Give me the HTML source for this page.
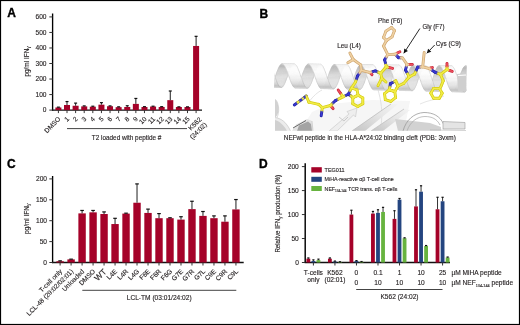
<!DOCTYPE html>
<html><head><meta charset="utf-8"><style>
html,body{margin:0;padding:0;background:#fff;}
body{width:520px;height:325px;overflow:hidden;}
svg{display:block;font-family:"Liberation Sans", sans-serif;will-change:transform;filter:blur(0.25px);}
text{stroke:#231f20;stroke-width:0.13px;}
</style></head><body>
<svg width="520" height="325" viewBox="0 0 520 325">
<rect x="0" y="0" width="520" height="325" fill="#fff"/>
<defs><clipPath id="bclip"><rect x="274.5" y="50" width="192" height="80.8"/></clipPath><linearGradient id="gs1" x1="0" y1="1" x2="0" y2="0"><stop offset="0" stop-color="#bdbdbd"/><stop offset="1" stop-color="#efefef"/></linearGradient><linearGradient id="gs2" x1="0" y1="1" x2="1" y2="0"><stop offset="0" stop-color="#c4c4c4"/><stop offset="0.6" stop-color="#e6e6e6"/><stop offset="1" stop-color="#f4f4f4"/></linearGradient><linearGradient id="gs3" x1="0" y1="0" x2="1" y2="0"><stop offset="0" stop-color="#d8d8d8"/><stop offset="1" stop-color="#f3f3f3"/></linearGradient></defs>
<g clip-path="url(#bclip)">
<path d="M300,131 L312,112 L330,104 L372,100 L410,101 L404,131 Z" fill="#f6f6f6"/>
<path d="M275,99 C279,103 280,112 276,117 L275,117 Z" fill="#d2d2d2"/>
<path d="M275.5,99.5 C279,103 280,112 276.5,119" stroke="#c4c4c4" stroke-width="0.6" fill="none"/>
<path d="M275,117 C281,118 286,121 291,131 L275,131 Z" fill="#ececec"/>
<path d="M275,117.5 C281,118.5 286,121.5 290.5,131" stroke="#c8c8c8" stroke-width="0.6" fill="none"/>
<path d="M275,120 C279,121 284,125 287,131 L275,131 Z" fill="#d0d0d0"/>
<path d="M292,131 L296,124.5 L307,119 L312,121 L313,131 Z" fill="#e2e2e2"/>
<path d="M293,128 L306,120.5" stroke="#6a6a6a" stroke-width="1.0"/>
<path d="M297,131 L299,125.5 L308,121.5 L311,124 L312,131 Z" fill="#a4a4a4"/>
<path d="M312,121 L313,131" stroke="#c0c0c0" stroke-width="0.6"/>
<path d="M378,90 C381,100 383,112 381,126" stroke="#dadada" stroke-width="0.8" fill="none"/>
<path d="M309,102 C313,96 318,92 322,90" stroke="#dcdcdc" stroke-width="0.8" fill="none"/>
<path d="M420,104 C428,100 436,100 444,96" stroke="#e0e0e0" stroke-width="0.8" fill="none"/>
<path d="M329,131 L349,114 L347,111.5 L357,108 L355.5,117 L353.5,115 L337,131 Z" fill="#eeeeee" stroke="#c6c6c6" stroke-width="0.6"/>
<path d="M339,117 L344,121 L348,117" stroke="#c0c0c0" stroke-width="0.8" fill="none"/>
<path d="M352,131 L391,104 L398,104 L365,131 Z" fill="url(#gs2)"/>
<path d="M352,131 L391,104" stroke="#bcbcbc" stroke-width="0.8"/>
<path d="M371,131 L404,109 L410,110 L383,131 Z" fill="url(#gs2)"/>
<path d="M371,131 L404,109" stroke="#c0c0c0" stroke-width="0.8"/>
<path d="M395,119 L430,123 L441,127 L441,131 L398,131 Z" fill="#d2d2d2"/>
<path d="M403,131 C406,120 414,113 424,112.5 C433,112.5 440,116 443.5,124" stroke="#9a9a9a" stroke-width="0.8" fill="none"/>
<path d="M407,131 C410,122 417,116.5 425,116.5 C432,116.5 437,119 440,125" stroke="#a8a8a8" stroke-width="0.7" fill="none"/>
<path d="M443,121.5 L465,122.5 L465,129 L443,129 Z" fill="#e4e4e4" stroke="#9a9a9a" stroke-width="0.6"/>
<path d="M430,130 L466,130.5" stroke="#b8b8b8" stroke-width="0.8"/>
<g><polygon points="406.5,78.5 406.9,77.2 418.9,77.4 418.5,78.7" fill="#dadada" stroke="#dadada" stroke-width="0.35"/><path d="M406.5,78.5L406.9,77.2M418.5,78.7L418.9,77.4" stroke="#bcbcbc" stroke-width="0.5"/><polygon points="301.7,76.5 302.1,75.3 314.1,75.6 313.7,76.8" fill="#dadada" stroke="#dadada" stroke-width="0.35"/><path d="M301.7,76.5L302.1,75.3M313.7,76.8L314.1,75.6" stroke="#bcbcbc" stroke-width="0.5"/><polygon points="275.4,76.3 275.8,75.2 287.8,75.4 287.4,76.6" fill="#dadada" stroke="#dadada" stroke-width="0.35"/><path d="M275.4,76.3L275.8,75.2M287.4,76.6L287.8,75.4" stroke="#bcbcbc" stroke-width="0.5"/><polygon points="380.2,78.3 380.6,77.1 392.6,77.3 392.2,78.5" fill="#dadada" stroke="#dadada" stroke-width="0.35"/><path d="M380.2,78.3L380.6,77.1M392.2,78.5L392.6,77.3" stroke="#bcbcbc" stroke-width="0.5"/><polygon points="432.8,78.6 433.2,77.4 445.2,77.6 444.8,78.8" fill="#d9d9d9" stroke="#d9d9d9" stroke-width="0.35"/><path d="M432.8,78.6L433.2,77.4M444.8,78.8L445.2,77.6" stroke="#bcbcbc" stroke-width="0.5"/><polygon points="328.0,76.7 328.4,75.5 340.4,75.7 340.0,76.9" fill="#d9d9d9" stroke="#d9d9d9" stroke-width="0.35"/><path d="M328.0,76.7L328.4,75.5M340.0,76.9L340.4,75.7" stroke="#bcbcbc" stroke-width="0.5"/><polygon points="353.9,78.1 354.3,76.9 366.3,77.1 365.9,78.3" fill="#dbdbdb" stroke="#dbdbdb" stroke-width="0.35"/><path d="M353.9,78.1L354.3,76.9M365.9,78.3L366.3,77.1" stroke="#bcbcbc" stroke-width="0.5"/><polygon points="458.6,80.1 459.1,78.8 471.1,79.0 470.6,80.3" fill="#dbdbdb" stroke="#dbdbdb" stroke-width="0.35"/><path d="M458.6,80.1L459.1,78.8M470.6,80.3L471.1,79.0" stroke="#bcbcbc" stroke-width="0.5"/><polygon points="459.1,78.8 459.5,77.5 471.5,77.7 471.1,79.0" fill="#d9d9d9" stroke="#d9d9d9" stroke-width="0.35"/><path d="M459.1,78.8L459.5,77.5M471.1,79.0L471.5,77.7" stroke="#bcbcbc" stroke-width="0.5"/><polygon points="354.3,76.9 354.7,75.7 366.7,75.9 366.3,77.1" fill="#d8d8d8" stroke="#d8d8d8" stroke-width="0.35"/><path d="M354.3,76.9L354.7,75.7M366.3,77.1L366.7,75.9" stroke="#bcbcbc" stroke-width="0.5"/><polygon points="327.6,77.9 328.0,76.7 340.0,76.9 339.6,78.1" fill="#dbdbdb" stroke="#dbdbdb" stroke-width="0.35"/><path d="M327.6,77.9L328.0,76.7M339.6,78.1L340.0,76.9" stroke="#bcbcbc" stroke-width="0.5"/><polygon points="432.3,79.9 432.8,78.6 444.8,78.8 444.3,80.1" fill="#dbdbdb" stroke="#dbdbdb" stroke-width="0.35"/><path d="M432.3,79.9L432.8,78.6M444.3,80.1L444.8,78.8" stroke="#bcbcbc" stroke-width="0.5"/><polygon points="380.6,77.1 381.0,75.8 393.0,76.0 392.6,77.3" fill="#d8d8d8" stroke="#d8d8d8" stroke-width="0.35"/><path d="M380.6,77.1L381.0,75.8M392.6,77.3L393.0,76.0" stroke="#bcbcbc" stroke-width="0.5"/><polygon points="275.8,75.2 276.2,74.0 288.2,74.2 287.8,75.4" fill="#d8d8d8" stroke="#d8d8d8" stroke-width="0.35"/><path d="M275.8,75.2L276.2,74.0M287.8,75.4L288.2,74.2" stroke="#bcbcbc" stroke-width="0.5"/><polygon points="301.3,77.7 301.7,76.5 313.7,76.8 313.3,77.9" fill="#dcdcdc" stroke="#dcdcdc" stroke-width="0.35"/><path d="M301.3,77.7L301.7,76.5M313.3,77.9L313.7,76.8" stroke="#bcbcbc" stroke-width="0.5"/><polygon points="406.0,79.7 406.5,78.5 418.5,78.7 418.0,79.9" fill="#dcdcdc" stroke="#dcdcdc" stroke-width="0.35"/><path d="M406.0,79.7L406.5,78.5M418.0,79.9L418.5,78.7" stroke="#bcbcbc" stroke-width="0.5"/><polygon points="406.9,77.2 407.3,76.0 419.3,76.2 418.9,77.4" fill="#d7d7d7" stroke="#d7d7d7" stroke-width="0.35"/><path d="M406.9,77.2L407.3,76.0M418.9,77.4L419.3,76.2" stroke="#bcbcbc" stroke-width="0.5"/><polygon points="302.1,75.3 302.5,74.2 314.5,74.4 314.1,75.6" fill="#d7d7d7" stroke="#d7d7d7" stroke-width="0.35"/><path d="M302.1,75.3L302.5,74.2M314.1,75.6L314.5,74.4" stroke="#bcbcbc" stroke-width="0.5"/><polygon points="275.0,77.5 275.4,76.3 287.4,76.6 287.0,77.7" fill="#dcdcdc" stroke="#dcdcdc" stroke-width="0.35"/><path d="M275.0,77.5L275.4,76.3M287.0,77.7L287.4,76.6" stroke="#bcbcbc" stroke-width="0.5"/><polygon points="379.7,79.5 380.2,78.3 392.2,78.5 391.7,79.8" fill="#dcdcdc" stroke="#dcdcdc" stroke-width="0.35"/><path d="M379.7,79.5L380.2,78.3M391.7,79.8L392.2,78.5" stroke="#bcbcbc" stroke-width="0.5"/><polygon points="433.2,77.4 433.6,76.1 445.6,76.3 445.2,77.6" fill="#d7d7d7" stroke="#d7d7d7" stroke-width="0.35"/><path d="M433.2,77.4L433.6,76.1M445.2,77.6L445.6,76.3" stroke="#bcbcbc" stroke-width="0.5"/><polygon points="328.4,75.5 328.8,74.3 340.8,74.5 340.4,75.7" fill="#d6d6d6" stroke="#d6d6d6" stroke-width="0.35"/><path d="M328.4,75.5L328.8,74.3M340.4,75.7L340.8,74.5" stroke="#bcbcbc" stroke-width="0.5"/><polygon points="353.4,79.3 353.9,78.1 365.9,78.3 365.4,79.5" fill="#dddddd" stroke="#dddddd" stroke-width="0.35"/><path d="M353.4,79.3L353.9,78.1M365.4,79.5L365.9,78.3" stroke="#bcbcbc" stroke-width="0.5"/><polygon points="458.2,81.4 458.6,80.1 470.6,80.3 470.2,81.6" fill="#dddddd" stroke="#dddddd" stroke-width="0.35"/><path d="M458.2,81.4L458.6,80.1M470.2,81.6L470.6,80.3" stroke="#bcbcbc" stroke-width="0.5"/><polygon points="459.5,77.5 459.9,76.2 471.9,76.4 471.5,77.7" fill="#d6d6d6" stroke="#d6d6d6" stroke-width="0.35"/><path d="M459.5,77.5L459.9,76.2M471.5,77.7L471.9,76.4" stroke="#bcbcbc" stroke-width="0.5"/><polygon points="354.7,75.7 355.1,74.5 367.1,74.7 366.7,75.9" fill="#d6d6d6" stroke="#d6d6d6" stroke-width="0.35"/><path d="M354.7,75.7L355.1,74.5M366.7,75.9L367.1,74.7" stroke="#bcbcbc" stroke-width="0.5"/><polygon points="327.1,79.1 327.6,77.9 339.6,78.1 339.1,79.3" fill="#dddddd" stroke="#dddddd" stroke-width="0.35"/><path d="M327.1,79.1L327.6,77.9M339.1,79.3L339.6,78.1" stroke="#bcbcbc" stroke-width="0.5"/><polygon points="431.9,81.2 432.3,79.9 444.3,80.1 443.9,81.4" fill="#dddddd" stroke="#dddddd" stroke-width="0.35"/><path d="M431.9,81.2L432.3,79.9M443.9,81.4L444.3,80.1" stroke="#bcbcbc" stroke-width="0.5"/><polygon points="381.0,75.8 381.4,74.6 393.4,74.8 393.0,76.0" fill="#d5d5d5" stroke="#d5d5d5" stroke-width="0.35"/><path d="M381.0,75.8L381.4,74.6M393.0,76.0L393.4,74.8" stroke="#bcbcbc" stroke-width="0.5"/><polygon points="276.2,74.0 276.6,72.8 288.6,73.0 288.2,74.2" fill="#d5d5d5" stroke="#d5d5d5" stroke-width="0.35"/><path d="M276.2,74.0L276.6,72.8M288.2,74.2L288.6,73.0" stroke="#bcbcbc" stroke-width="0.5"/><polygon points="300.8,78.9 301.3,77.7 313.3,77.9 312.8,79.1" fill="#dddddd" stroke="#dddddd" stroke-width="0.35"/><path d="M300.8,78.9L301.3,77.7M312.8,79.1L313.3,77.9" stroke="#bcbcbc" stroke-width="0.5"/><polygon points="405.6,80.9 406.0,79.7 418.0,79.9 417.6,81.2" fill="#dedede" stroke="#dedede" stroke-width="0.35"/><path d="M405.6,80.9L406.0,79.7M417.6,81.2L418.0,79.9" stroke="#bcbcbc" stroke-width="0.5"/><polygon points="407.3,76.0 407.7,74.7 419.7,74.9 419.3,76.2" fill="#d4d4d4" stroke="#d4d4d4" stroke-width="0.35"/><path d="M407.3,76.0L407.7,74.7M419.3,76.2L419.7,74.9" stroke="#bcbcbc" stroke-width="0.5"/><polygon points="302.5,74.2 302.9,73.0 314.9,73.2 314.5,74.4" fill="#d4d4d4" stroke="#d4d4d4" stroke-width="0.35"/><path d="M302.5,74.2L302.9,73.0M314.5,74.4L314.9,73.2" stroke="#bcbcbc" stroke-width="0.5"/><polygon points="274.5,78.7 275.0,77.5 287.0,77.7 286.5,78.9" fill="#dedede" stroke="#dedede" stroke-width="0.35"/><path d="M274.5,78.7L275.0,77.5M286.5,78.9L287.0,77.7" stroke="#bcbcbc" stroke-width="0.5"/><polygon points="379.3,80.7 379.7,79.5 391.7,79.8 391.3,81.0" fill="#dedede" stroke="#dedede" stroke-width="0.35"/><path d="M379.3,80.7L379.7,79.5M391.3,81.0L391.7,79.8" stroke="#bcbcbc" stroke-width="0.5"/><polygon points="433.6,76.1 434.0,74.9 446.0,75.1 445.6,76.3" fill="#d4d4d4" stroke="#d4d4d4" stroke-width="0.35"/><path d="M433.6,76.1L434.0,74.9M445.6,76.3L446.0,75.1" stroke="#bcbcbc" stroke-width="0.5"/><polygon points="328.8,74.3 329.2,73.1 341.2,73.3 340.8,74.5" fill="#d4d4d4" stroke="#d4d4d4" stroke-width="0.35"/><path d="M328.8,74.3L329.2,73.1M340.8,74.5L341.2,73.3" stroke="#bcbcbc" stroke-width="0.5"/><polygon points="353.0,80.5 353.4,79.3 365.4,79.5 365.0,80.7" fill="#dedede" stroke="#dedede" stroke-width="0.35"/><path d="M353.0,80.5L353.4,79.3M365.0,80.7L365.4,79.5" stroke="#bcbcbc" stroke-width="0.5"/><polygon points="457.8,82.6 458.2,81.4 470.2,81.6 469.8,82.8" fill="#dedede" stroke="#dedede" stroke-width="0.35"/><path d="M457.8,82.6L458.2,81.4M469.8,82.8L470.2,81.6" stroke="#bcbcbc" stroke-width="0.5"/><polygon points="459.9,76.2 460.3,75.0 472.3,75.2 471.9,76.4" fill="#d3d3d3" stroke="#d3d3d3" stroke-width="0.35"/><path d="M459.9,76.2L460.3,75.0M471.9,76.4L472.3,75.2" stroke="#bcbcbc" stroke-width="0.5"/><polygon points="355.1,74.5 355.5,73.3 367.5,73.5 367.1,74.7" fill="#d3d3d3" stroke="#d3d3d3" stroke-width="0.35"/><path d="M355.1,74.5L355.5,73.3M367.1,74.7L367.5,73.5" stroke="#bcbcbc" stroke-width="0.5"/><polygon points="326.7,80.3 327.1,79.1 339.1,79.3 338.7,80.5" fill="#dfdfdf" stroke="#dfdfdf" stroke-width="0.35"/><path d="M326.7,80.3L327.1,79.1M338.7,80.5L339.1,79.3" stroke="#bcbcbc" stroke-width="0.5"/><polygon points="431.5,82.4 431.9,81.2 443.9,81.4 443.5,82.6" fill="#dfdfdf" stroke="#dfdfdf" stroke-width="0.35"/><path d="M431.5,82.4L431.9,81.2M443.5,82.6L443.9,81.4" stroke="#bcbcbc" stroke-width="0.5"/><polygon points="381.4,74.6 381.8,73.4 393.8,73.6 393.4,74.8" fill="#d2d2d2" stroke="#d2d2d2" stroke-width="0.35"/><path d="M381.4,74.6L381.8,73.4M393.4,74.8L393.8,73.6" stroke="#bcbcbc" stroke-width="0.5"/><polygon points="276.6,72.8 277.0,71.7 289.0,71.9 288.6,73.0" fill="#d2d2d2" stroke="#d2d2d2" stroke-width="0.35"/><path d="M276.6,72.8L277.0,71.7M288.6,73.0L289.0,71.9" stroke="#bcbcbc" stroke-width="0.5"/><polygon points="300.4,80.0 300.8,78.9 312.8,79.1 312.4,80.3" fill="#dfdfdf" stroke="#dfdfdf" stroke-width="0.35"/><path d="M300.4,80.0L300.8,78.9M312.4,80.3L312.8,79.1" stroke="#bcbcbc" stroke-width="0.5"/><polygon points="405.2,82.2 405.6,80.9 417.6,81.2 417.2,82.4" fill="#dfdfdf" stroke="#dfdfdf" stroke-width="0.35"/><path d="M405.2,82.2L405.6,80.9M417.2,82.4L417.6,81.2" stroke="#bcbcbc" stroke-width="0.5"/><polygon points="407.7,74.7 408.1,73.5 420.1,73.7 419.7,74.9" fill="#d1d1d1" stroke="#d1d1d1" stroke-width="0.35"/><path d="M407.7,74.7L408.1,73.5M419.7,74.9L420.1,73.7" stroke="#bcbcbc" stroke-width="0.5"/><polygon points="302.9,73.0 303.3,71.9 315.3,72.1 314.9,73.2" fill="#d1d1d1" stroke="#d1d1d1" stroke-width="0.35"/><path d="M302.9,73.0L303.3,71.9M314.9,73.2L315.3,72.1" stroke="#bcbcbc" stroke-width="0.5"/><polygon points="274.1,79.8 274.5,78.7 286.5,78.9 286.1,80.0" fill="#dfdfdf" stroke="#dfdfdf" stroke-width="0.35"/><path d="M274.1,79.8L274.5,78.7M286.1,80.0L286.5,78.9" stroke="#bcbcbc" stroke-width="0.5"/><polygon points="378.9,81.9 379.3,80.7 391.3,81.0 390.9,82.2" fill="#dfdfdf" stroke="#dfdfdf" stroke-width="0.35"/><path d="M378.9,81.9L379.3,80.7M390.9,82.2L391.3,81.0" stroke="#bcbcbc" stroke-width="0.5"/><polygon points="434.0,74.9 434.4,73.7 446.4,73.8 446.0,75.1" fill="#d0d0d0" stroke="#d0d0d0" stroke-width="0.35"/><path d="M434.0,74.9L434.4,73.7M446.0,75.1L446.4,73.8" stroke="#bcbcbc" stroke-width="0.5"/><polygon points="329.2,73.1 329.6,72.0 341.6,72.2 341.2,73.3" fill="#d0d0d0" stroke="#d0d0d0" stroke-width="0.35"/><path d="M329.2,73.1L329.6,72.0M341.2,73.3L341.6,72.2" stroke="#bcbcbc" stroke-width="0.5"/><polygon points="352.6,81.7 353.0,80.5 365.0,80.7 364.6,81.9" fill="#dfdfdf" stroke="#dfdfdf" stroke-width="0.35"/><path d="M352.6,81.7L353.0,80.5M364.6,81.9L365.0,80.7" stroke="#bcbcbc" stroke-width="0.5"/><polygon points="457.4,83.8 457.8,82.6 469.8,82.8 469.4,84.1" fill="#dfdfdf" stroke="#dfdfdf" stroke-width="0.35"/><path d="M457.4,83.8L457.8,82.6M469.4,84.1L469.8,82.8" stroke="#bcbcbc" stroke-width="0.5"/><polygon points="460.3,75.0 460.7,73.8 472.7,74.0 472.3,75.2" fill="#d0d0d0" stroke="#d0d0d0" stroke-width="0.35"/><path d="M460.3,75.0L460.7,73.8M472.3,75.2L472.7,74.0" stroke="#bcbcbc" stroke-width="0.5"/><polygon points="355.5,73.3 355.9,72.1 367.9,72.3 367.5,73.5" fill="#d0d0d0" stroke="#d0d0d0" stroke-width="0.35"/><path d="M355.5,73.3L355.9,72.1M367.5,73.5L367.9,72.3" stroke="#bcbcbc" stroke-width="0.5"/><polygon points="326.3,81.4 326.7,80.3 338.7,80.5 338.3,81.6" fill="#e0e0e0" stroke="#e0e0e0" stroke-width="0.35"/><path d="M326.3,81.4L326.7,80.3M338.3,81.6L338.7,80.5" stroke="#bcbcbc" stroke-width="0.5"/><polygon points="431.1,83.6 431.5,82.4 443.5,82.6 443.1,83.8" fill="#e0e0e0" stroke="#e0e0e0" stroke-width="0.35"/><path d="M431.1,83.6L431.5,82.4M443.1,83.8L443.5,82.6" stroke="#bcbcbc" stroke-width="0.5"/><polygon points="381.8,73.4 382.2,72.3 394.2,72.4 393.8,73.6" fill="#cfcfcf" stroke="#cfcfcf" stroke-width="0.35"/><path d="M381.8,73.4L382.2,72.3M393.8,73.6L394.2,72.4" stroke="#bcbcbc" stroke-width="0.5"/><polygon points="277.0,71.7 277.5,70.6 289.5,70.8 289.0,71.9" fill="#cfcfcf" stroke="#cfcfcf" stroke-width="0.35"/><path d="M277.0,71.7L277.5,70.6M289.0,71.9L289.5,70.8" stroke="#bcbcbc" stroke-width="0.5"/><polygon points="300.0,81.1 300.4,80.0 312.4,80.3 312.0,81.4" fill="#e0e0e0" stroke="#e0e0e0" stroke-width="0.35"/><path d="M300.0,81.1L300.4,80.0M312.0,81.4L312.4,80.3" stroke="#bcbcbc" stroke-width="0.5"/><polygon points="404.8,83.3 405.2,82.2 417.2,82.4 416.8,83.6" fill="#e0e0e0" stroke="#e0e0e0" stroke-width="0.35"/><path d="M404.8,83.3L405.2,82.2M416.8,83.6L417.2,82.4" stroke="#bcbcbc" stroke-width="0.5"/><polygon points="408.1,73.5 408.5,72.4 420.5,72.6 420.1,73.7" fill="#cecece" stroke="#cecece" stroke-width="0.35"/><path d="M408.1,73.5L408.5,72.4M420.1,73.7L420.5,72.6" stroke="#bcbcbc" stroke-width="0.5"/><polygon points="303.3,71.9 303.8,70.8 315.8,71.0 315.3,72.1" fill="#cecece" stroke="#cecece" stroke-width="0.35"/><path d="M303.3,71.9L303.8,70.8M315.3,72.1L315.8,71.0" stroke="#bcbcbc" stroke-width="0.5"/><polygon points="273.7,80.8 274.1,79.8 286.1,80.0 285.7,81.1" fill="#e0e0e0" stroke="#e0e0e0" stroke-width="0.35"/><path d="M273.7,80.8L274.1,79.8M285.7,81.1L286.1,80.0" stroke="#bcbcbc" stroke-width="0.5"/><polygon points="378.5,83.0 378.9,81.9 390.9,82.2 390.5,83.3" fill="#e0e0e0" stroke="#e0e0e0" stroke-width="0.35"/><path d="M378.5,83.0L378.9,81.9M390.5,83.3L390.9,82.2" stroke="#bcbcbc" stroke-width="0.5"/><polygon points="434.4,73.7 434.8,72.5 446.8,72.7 446.4,73.8" fill="#cdcdcd" stroke="#cdcdcd" stroke-width="0.35"/><path d="M434.4,73.7L434.8,72.5M446.4,73.8L446.8,72.7" stroke="#bcbcbc" stroke-width="0.5"/><polygon points="329.6,72.0 330.1,70.9 342.1,71.1 341.6,72.2" fill="#cdcdcd" stroke="#cdcdcd" stroke-width="0.35"/><path d="M329.6,72.0L330.1,70.9M341.6,72.2L342.1,71.1" stroke="#bcbcbc" stroke-width="0.5"/><polygon points="352.2,82.8 352.6,81.7 364.6,81.9 364.2,83.0" fill="#e0e0e0" stroke="#e0e0e0" stroke-width="0.35"/><path d="M352.2,82.8L352.6,81.7M364.2,83.0L364.6,81.9" stroke="#bcbcbc" stroke-width="0.5"/><polygon points="457.0,85.0 457.4,83.8 469.4,84.1 469.0,85.2" fill="#e0e0e0" stroke="#e0e0e0" stroke-width="0.35"/><path d="M457.0,85.0L457.4,83.8M469.0,85.2L469.4,84.1" stroke="#bcbcbc" stroke-width="0.5"/><polygon points="460.7,73.8 461.1,72.6 473.1,72.8 472.7,74.0" fill="#cccccc" stroke="#cccccc" stroke-width="0.35"/><path d="M460.7,73.8L461.1,72.6M472.7,74.0L473.1,72.8" stroke="#bcbcbc" stroke-width="0.5"/><polygon points="355.9,72.1 356.4,71.0 368.4,71.2 367.9,72.3" fill="#cccccc" stroke="#cccccc" stroke-width="0.35"/><path d="M355.9,72.1L356.4,71.0M367.9,72.3L368.4,71.2" stroke="#bcbcbc" stroke-width="0.5"/><polygon points="325.9,82.5 326.3,81.4 338.3,81.6 337.9,82.7" fill="#e0e0e0" stroke="#e0e0e0" stroke-width="0.35"/><path d="M325.9,82.5L326.3,81.4M337.9,82.7L338.3,81.6" stroke="#bcbcbc" stroke-width="0.5"/><polygon points="430.7,84.7 431.1,83.6 443.1,83.8 442.7,85.0" fill="#e0e0e0" stroke="#e0e0e0" stroke-width="0.35"/><path d="M430.7,84.7L431.1,83.6M442.7,85.0L443.1,83.8" stroke="#bcbcbc" stroke-width="0.5"/><polygon points="382.2,72.3 382.7,71.2 394.7,71.3 394.2,72.4" fill="#cbcbcb" stroke="#cbcbcb" stroke-width="0.35"/><path d="M382.2,72.3L382.7,71.2M394.2,72.4L394.7,71.3" stroke="#bcbcbc" stroke-width="0.5"/><polygon points="277.5,70.6 277.9,69.6 289.9,69.8 289.5,70.8" fill="#cbcbcb" stroke="#cbcbcb" stroke-width="0.35"/><path d="M277.5,70.6L277.9,69.6M289.5,70.8L289.9,69.8" stroke="#bcbcbc" stroke-width="0.5"/><polygon points="299.6,82.2 300.0,81.1 312.0,81.4 311.6,82.4" fill="#e0e0e0" stroke="#e0e0e0" stroke-width="0.35"/><path d="M299.6,82.2L300.0,81.1M311.6,82.4L312.0,81.4" stroke="#bcbcbc" stroke-width="0.5"/><polygon points="404.4,84.4 404.8,83.3 416.8,83.6 416.4,84.7" fill="#e0e0e0" stroke="#e0e0e0" stroke-width="0.35"/><path d="M404.4,84.4L404.8,83.3M416.4,84.7L416.8,83.6" stroke="#bcbcbc" stroke-width="0.5"/><polygon points="408.5,72.4 409.0,71.3 421.0,71.5 420.5,72.6" fill="#cacaca" stroke="#cacaca" stroke-width="0.35"/><path d="M408.5,72.4L409.0,71.3M420.5,72.6L421.0,71.5" stroke="#bcbcbc" stroke-width="0.5"/><polygon points="303.8,70.8 304.2,69.7 316.2,69.9 315.8,71.0" fill="#cacaca" stroke="#cacaca" stroke-width="0.35"/><path d="M303.8,70.8L304.2,69.7M315.8,71.0L316.2,69.9" stroke="#bcbcbc" stroke-width="0.5"/><polygon points="273.3,81.9 273.7,80.8 285.7,81.1 285.3,82.1" fill="#e0e0e0" stroke="#e0e0e0" stroke-width="0.35"/><path d="M273.3,81.9L273.7,80.8M285.3,82.1L285.7,81.1" stroke="#bcbcbc" stroke-width="0.5"/><polygon points="378.1,84.1 378.5,83.0 390.5,83.3 390.1,84.4" fill="#e0e0e0" stroke="#e0e0e0" stroke-width="0.35"/><path d="M378.1,84.1L378.5,83.0M390.1,84.4L390.5,83.3" stroke="#bcbcbc" stroke-width="0.5"/><polygon points="434.8,72.5 435.3,71.4 447.3,71.6 446.8,72.7" fill="#c9c9c9" stroke="#c9c9c9" stroke-width="0.35"/><path d="M434.8,72.5L435.3,71.4M446.8,72.7L447.3,71.6" stroke="#bcbcbc" stroke-width="0.5"/><polygon points="330.1,70.9 330.5,69.9 342.5,70.0 342.1,71.1" fill="#c9c9c9" stroke="#c9c9c9" stroke-width="0.35"/><path d="M330.1,70.9L330.5,69.9M342.1,71.1L342.5,70.0" stroke="#bcbcbc" stroke-width="0.5"/><polygon points="351.8,83.8 352.2,82.8 364.2,83.0 363.8,84.1" fill="#e0e0e0" stroke="#e0e0e0" stroke-width="0.35"/><path d="M351.8,83.8L352.2,82.8M363.8,84.1L364.2,83.0" stroke="#bcbcbc" stroke-width="0.5"/><polygon points="456.6,86.1 457.0,85.0 469.0,85.2 468.6,86.3" fill="#e0e0e0" stroke="#e0e0e0" stroke-width="0.35"/><path d="M456.6,86.1L457.0,85.0M468.6,86.3L469.0,85.2" stroke="#bcbcbc" stroke-width="0.5"/><polygon points="461.1,72.6 461.6,71.5 473.6,71.7 473.1,72.8" fill="#c8c8c8" stroke="#c8c8c8" stroke-width="0.35"/><path d="M461.1,72.6L461.6,71.5M473.1,72.8L473.6,71.7" stroke="#bcbcbc" stroke-width="0.5"/><polygon points="356.4,71.0 356.8,70.0 368.8,70.2 368.4,71.2" fill="#c8c8c8" stroke="#c8c8c8" stroke-width="0.35"/><path d="M356.4,71.0L356.8,70.0M368.4,71.2L368.8,70.2" stroke="#bcbcbc" stroke-width="0.5"/><polygon points="325.5,83.5 325.9,82.5 337.9,82.7 337.5,83.7" fill="#e0e0e0" stroke="#e0e0e0" stroke-width="0.35"/><path d="M325.5,83.5L325.9,82.5M337.5,83.7L337.9,82.7" stroke="#bcbcbc" stroke-width="0.5"/><polygon points="430.3,85.8 430.7,84.7 442.7,85.0 442.3,86.0" fill="#e0e0e0" stroke="#e0e0e0" stroke-width="0.35"/><path d="M430.3,85.8L430.7,84.7M442.3,86.0L442.7,85.0" stroke="#bcbcbc" stroke-width="0.5"/><polygon points="382.7,71.2 383.1,70.1 395.1,70.3 394.7,71.3" fill="#c7c7c7" stroke="#c7c7c7" stroke-width="0.35"/><path d="M382.7,71.2L383.1,70.1M394.7,71.3L395.1,70.3" stroke="#bcbcbc" stroke-width="0.5"/><polygon points="277.9,69.6 278.3,68.6 290.3,68.8 289.9,69.8" fill="#c7c7c7" stroke="#c7c7c7" stroke-width="0.35"/><path d="M277.9,69.6L278.3,68.6M289.9,69.8L290.3,68.8" stroke="#bcbcbc" stroke-width="0.5"/><polygon points="299.2,83.2 299.6,82.2 311.6,82.4 311.2,83.4" fill="#e0e0e0" stroke="#e0e0e0" stroke-width="0.35"/><path d="M299.2,83.2L299.6,82.2M311.2,83.4L311.6,82.4" stroke="#bcbcbc" stroke-width="0.5"/><polygon points="404.0,85.5 404.4,84.4 416.4,84.7 416.0,85.7" fill="#e0e0e0" stroke="#e0e0e0" stroke-width="0.35"/><path d="M404.0,85.5L404.4,84.4M416.0,85.7L416.4,84.7" stroke="#bcbcbc" stroke-width="0.5"/><polygon points="409.0,71.3 409.4,70.2 421.4,70.4 421.0,71.5" fill="#c6c6c6" stroke="#c6c6c6" stroke-width="0.35"/><path d="M409.0,71.3L409.4,70.2M421.0,71.5L421.4,70.4" stroke="#bcbcbc" stroke-width="0.5"/><polygon points="304.2,69.7 304.6,68.8 316.6,68.9 316.2,69.9" fill="#c6c6c6" stroke="#c6c6c6" stroke-width="0.35"/><path d="M304.2,69.7L304.6,68.8M316.2,69.9L316.6,68.9" stroke="#bcbcbc" stroke-width="0.5"/><polygon points="272.9,82.8 273.3,81.9 285.3,82.1 284.9,83.1" fill="#e0e0e0" stroke="#e0e0e0" stroke-width="0.35"/><path d="M272.9,82.8L273.3,81.9M284.9,83.1L285.3,82.1" stroke="#bcbcbc" stroke-width="0.5"/><polygon points="377.7,85.1 378.1,84.1 390.1,84.4 389.7,85.4" fill="#e0e0e0" stroke="#e0e0e0" stroke-width="0.35"/><path d="M377.7,85.1L378.1,84.1M389.7,85.4L390.1,84.4" stroke="#bcbcbc" stroke-width="0.5"/><polygon points="435.3,71.4 435.7,70.4 447.7,70.5 447.3,71.6" fill="#c5c5c5" stroke="#c5c5c5" stroke-width="0.35"/><path d="M435.3,71.4L435.7,70.4M447.3,71.6L447.7,70.5" stroke="#bcbcbc" stroke-width="0.5"/><polygon points="330.5,69.9 330.9,68.9 342.9,69.1 342.5,70.0" fill="#c5c5c5" stroke="#c5c5c5" stroke-width="0.35"/><path d="M330.5,69.9L330.9,68.9M342.5,70.0L342.9,69.1" stroke="#bcbcbc" stroke-width="0.5"/><polygon points="351.3,84.8 351.8,83.8 363.8,84.1 363.3,85.0" fill="#e0e0e0" stroke="#e0e0e0" stroke-width="0.35"/><path d="M351.3,84.8L351.8,83.8M363.3,85.0L363.8,84.1" stroke="#bcbcbc" stroke-width="0.5"/><polygon points="456.1,87.1 456.6,86.1 468.6,86.3 468.1,87.4" fill="#e0e0e0" stroke="#e0e0e0" stroke-width="0.35"/><path d="M456.1,87.1L456.6,86.1M468.1,87.4L468.6,86.3" stroke="#bcbcbc" stroke-width="0.5"/><polygon points="461.6,71.5 462.0,70.5 474.0,70.7 473.6,71.7" fill="#c4c4c4" stroke="#c4c4c4" stroke-width="0.35"/><path d="M461.6,71.5L462.0,70.5M473.6,71.7L474.0,70.7" stroke="#bcbcbc" stroke-width="0.5"/><polygon points="356.8,70.0 357.2,69.0 369.2,69.2 368.8,70.2" fill="#c4c4c4" stroke="#c4c4c4" stroke-width="0.35"/><path d="M356.8,70.0L357.2,69.0M368.8,70.2L369.2,69.2" stroke="#bcbcbc" stroke-width="0.5"/><polygon points="325.0,84.4 325.5,83.5 337.5,83.7 337.0,84.7" fill="#e0e0e0" stroke="#e0e0e0" stroke-width="0.35"/><path d="M325.0,84.4L325.5,83.5M337.0,84.7L337.5,83.7" stroke="#bcbcbc" stroke-width="0.5"/><polygon points="429.8,86.8 430.3,85.8 442.3,86.0 441.8,87.0" fill="#e0e0e0" stroke="#e0e0e0" stroke-width="0.35"/><path d="M429.8,86.8L430.3,85.8M441.8,87.0L442.3,86.0" stroke="#bcbcbc" stroke-width="0.5"/><polygon points="383.1,70.1 383.5,69.2 395.5,69.3 395.1,70.3" fill="#c3c3c3" stroke="#c3c3c3" stroke-width="0.35"/><path d="M383.1,70.1L383.5,69.2M395.1,70.3L395.5,69.3" stroke="#bcbcbc" stroke-width="0.5"/><polygon points="278.3,68.6 278.7,67.7 290.7,67.9 290.3,68.8" fill="#c3c3c3" stroke="#c3c3c3" stroke-width="0.35"/><path d="M278.3,68.6L278.7,67.7M290.3,68.8L290.7,67.9" stroke="#bcbcbc" stroke-width="0.5"/><polygon points="298.7,84.1 299.2,83.2 311.2,83.4 310.7,84.3" fill="#e0e0e0" stroke="#e0e0e0" stroke-width="0.35"/><path d="M298.7,84.1L299.2,83.2M310.7,84.3L311.2,83.4" stroke="#bcbcbc" stroke-width="0.5"/><polygon points="403.5,86.4 404.0,85.5 416.0,85.7 415.5,86.7" fill="#e0e0e0" stroke="#e0e0e0" stroke-width="0.35"/><path d="M403.5,86.4L404.0,85.5M415.5,86.7L416.0,85.7" stroke="#bcbcbc" stroke-width="0.5"/><polygon points="409.4,70.2 409.8,69.3 421.8,69.5 421.4,70.4" fill="#c2c2c2" stroke="#c2c2c2" stroke-width="0.35"/><path d="M409.4,70.2L409.8,69.3M421.4,70.4L421.8,69.5" stroke="#bcbcbc" stroke-width="0.5"/><polygon points="304.6,68.8 305.0,67.9 317.0,68.0 316.6,68.9" fill="#c2c2c2" stroke="#c2c2c2" stroke-width="0.35"/><path d="M304.6,68.8L305.0,67.9M316.6,68.9L317.0,68.0" stroke="#bcbcbc" stroke-width="0.5"/><polygon points="272.4,83.7 272.9,82.8 284.9,83.1 284.4,84.0" fill="#e0e0e0" stroke="#e0e0e0" stroke-width="0.35"/><path d="M272.4,83.7L272.9,82.8M284.4,84.0L284.9,83.1" stroke="#bcbcbc" stroke-width="0.5"/><polygon points="377.2,86.1 377.7,85.1 389.7,85.4 389.2,86.3" fill="#e0e0e0" stroke="#e0e0e0" stroke-width="0.35"/><path d="M377.2,86.1L377.7,85.1M389.2,86.3L389.7,85.4" stroke="#bcbcbc" stroke-width="0.5"/><polygon points="435.7,70.4 436.1,69.4 448.1,69.6 447.7,70.5" fill="#c1c1c1" stroke="#c1c1c1" stroke-width="0.35"/><path d="M435.7,70.4L436.1,69.4M447.7,70.5L448.1,69.6" stroke="#bcbcbc" stroke-width="0.5"/><polygon points="330.9,68.9 331.3,68.0 343.3,68.2 342.9,69.1" fill="#c1c1c1" stroke="#c1c1c1" stroke-width="0.35"/><path d="M330.9,68.9L331.3,68.0M342.9,69.1L343.3,68.2" stroke="#bcbcbc" stroke-width="0.5"/><polygon points="350.9,85.7 351.3,84.8 363.3,85.0 362.9,85.9" fill="#e0e0e0" stroke="#e0e0e0" stroke-width="0.35"/><path d="M350.9,85.7L351.3,84.8M362.9,85.9L363.3,85.0" stroke="#bcbcbc" stroke-width="0.5"/><polygon points="455.7,88.0 456.1,87.1 468.1,87.4 467.7,88.3" fill="#e0e0e0" stroke="#e0e0e0" stroke-width="0.35"/><path d="M455.7,88.0L456.1,87.1M467.7,88.3L468.1,87.4" stroke="#bcbcbc" stroke-width="0.5"/><polygon points="462.0,70.5 462.4,69.6 474.4,69.7 474.0,70.7" fill="#c0c0c0" stroke="#c0c0c0" stroke-width="0.35"/><path d="M462.0,70.5L462.4,69.6M474.0,70.7L474.4,69.7" stroke="#bcbcbc" stroke-width="0.5"/><polygon points="357.2,69.0 357.6,68.1 369.6,68.3 369.2,69.2" fill="#c0c0c0" stroke="#c0c0c0" stroke-width="0.35"/><path d="M357.2,69.0L357.6,68.1M369.2,69.2L369.6,68.3" stroke="#bcbcbc" stroke-width="0.5"/><polygon points="324.6,85.3 325.0,84.4 337.0,84.7 336.6,85.6" fill="#dfdfdf" stroke="#dfdfdf" stroke-width="0.35"/><path d="M324.6,85.3L325.0,84.4M336.6,85.6L337.0,84.7" stroke="#bcbcbc" stroke-width="0.5"/><polygon points="429.4,87.7 429.8,86.8 441.8,87.0 441.4,87.9" fill="#dfdfdf" stroke="#dfdfdf" stroke-width="0.35"/><path d="M429.4,87.7L429.8,86.8M441.4,87.9L441.8,87.0" stroke="#bcbcbc" stroke-width="0.5"/><polygon points="383.5,69.2 383.9,68.3 395.9,68.4 395.5,69.3" fill="#bfbfbf" stroke="#bfbfbf" stroke-width="0.35"/><path d="M383.5,69.2L383.9,68.3M395.5,69.3L395.9,68.4" stroke="#bcbcbc" stroke-width="0.5"/><polygon points="278.7,67.7 279.1,66.9 291.1,67.0 290.7,67.9" fill="#bfbfbf" stroke="#bfbfbf" stroke-width="0.35"/><path d="M278.7,67.7L279.1,66.9M290.7,67.9L291.1,67.0" stroke="#bcbcbc" stroke-width="0.5"/><polygon points="298.3,84.9 298.7,84.1 310.7,84.3 310.3,85.2" fill="#dfdfdf" stroke="#dfdfdf" stroke-width="0.35"/><path d="M298.3,84.9L298.7,84.1M310.3,85.2L310.7,84.3" stroke="#bcbcbc" stroke-width="0.5"/><polygon points="403.1,87.3 403.5,86.4 415.5,86.7 415.1,87.6" fill="#dfdfdf" stroke="#dfdfdf" stroke-width="0.35"/><path d="M403.1,87.3L403.5,86.4M415.1,87.6L415.5,86.7" stroke="#bcbcbc" stroke-width="0.5"/><polygon points="409.8,69.3 410.2,68.4 422.2,68.6 421.8,69.5" fill="#bebebe" stroke="#bebebe" stroke-width="0.35"/><path d="M409.8,69.3L410.2,68.4M421.8,69.5L422.2,68.6" stroke="#bcbcbc" stroke-width="0.5"/><polygon points="305.0,67.9 305.4,67.0 317.4,67.2 317.0,68.0" fill="#bebebe" stroke="#bebebe" stroke-width="0.35"/><path d="M305.0,67.9L305.4,67.0M317.0,68.0L317.4,67.2" stroke="#bcbcbc" stroke-width="0.5"/><polygon points="272.0,84.5 272.4,83.7 284.4,84.0 284.0,84.8" fill="#dfdfdf" stroke="#dfdfdf" stroke-width="0.35"/><path d="M272.0,84.5L272.4,83.7M284.0,84.8L284.4,84.0" stroke="#bcbcbc" stroke-width="0.5"/><polygon points="376.8,86.9 377.2,86.1 389.2,86.3 388.8,87.2" fill="#dfdfdf" stroke="#dfdfdf" stroke-width="0.35"/><path d="M376.8,86.9L377.2,86.1M388.8,87.2L389.2,86.3" stroke="#bcbcbc" stroke-width="0.5"/><polygon points="436.1,69.4 436.5,68.6 448.5,68.7 448.1,69.6" fill="#bdbdbd" stroke="#bdbdbd" stroke-width="0.35"/><path d="M436.1,69.4L436.5,68.6M448.1,69.6L448.5,68.7" stroke="#bcbcbc" stroke-width="0.5"/><polygon points="331.3,68.0 331.7,67.2 343.7,67.3 343.3,68.2" fill="#bdbdbd" stroke="#bdbdbd" stroke-width="0.35"/><path d="M331.3,68.0L331.7,67.2M343.3,68.2L343.7,67.3" stroke="#bcbcbc" stroke-width="0.5"/><polygon points="350.5,86.5 350.9,85.7 362.9,85.9 362.5,86.8" fill="#dfdfdf" stroke="#dfdfdf" stroke-width="0.35"/><path d="M350.5,86.5L350.9,85.7M362.5,86.8L362.9,85.9" stroke="#bcbcbc" stroke-width="0.5"/><polygon points="455.3,88.9 455.7,88.0 467.7,88.3 467.3,89.2" fill="#dfdfdf" stroke="#dfdfdf" stroke-width="0.35"/><path d="M455.3,88.9L455.7,88.0M467.3,89.2L467.7,88.3" stroke="#bcbcbc" stroke-width="0.5"/><polygon points="462.4,69.6 462.8,68.7 474.8,68.9 474.4,69.7" fill="#bcbcbc" stroke="#bcbcbc" stroke-width="0.35"/><path d="M462.4,69.6L462.8,68.7M474.4,69.7L474.8,68.9" stroke="#bcbcbc" stroke-width="0.5"/><polygon points="357.6,68.1 358.0,67.3 370.0,67.5 369.6,68.3" fill="#bcbcbc" stroke="#bcbcbc" stroke-width="0.35"/><path d="M357.6,68.1L358.0,67.3M369.6,68.3L370.0,67.5" stroke="#bcbcbc" stroke-width="0.5"/><polygon points="324.2,86.1 324.6,85.3 336.6,85.6 336.2,86.3" fill="#dedede" stroke="#dedede" stroke-width="0.35"/><path d="M324.2,86.1L324.6,85.3M336.2,86.3L336.6,85.6" stroke="#bcbcbc" stroke-width="0.5"/><polygon points="429.0,88.5 429.4,87.7 441.4,87.9 441.0,88.8" fill="#dedede" stroke="#dedede" stroke-width="0.35"/><path d="M429.0,88.5L429.4,87.7M441.0,88.8L441.4,87.9" stroke="#bcbcbc" stroke-width="0.5"/><polygon points="383.9,68.3 384.3,67.5 396.3,67.7 395.9,68.4" fill="#bbbbbb" stroke="#bbbbbb" stroke-width="0.35"/><path d="M383.9,68.3L384.3,67.5M395.9,68.4L396.3,67.7" stroke="#bcbcbc" stroke-width="0.5"/><polygon points="279.1,66.9 279.5,66.1 291.5,66.3 291.1,67.0" fill="#bbbbbb" stroke="#bbbbbb" stroke-width="0.35"/><path d="M279.1,66.9L279.5,66.1M291.1,67.0L291.5,66.3" stroke="#bcbcbc" stroke-width="0.5"/><polygon points="297.9,85.7 298.3,84.9 310.3,85.2 309.9,85.9" fill="#dedede" stroke="#dedede" stroke-width="0.35"/><path d="M297.9,85.7L298.3,84.9M309.9,85.9L310.3,85.2" stroke="#bcbcbc" stroke-width="0.5"/><polygon points="402.7,88.1 403.1,87.3 415.1,87.6 414.7,88.3" fill="#dedede" stroke="#dedede" stroke-width="0.35"/><path d="M402.7,88.1L403.1,87.3M414.7,88.3L415.1,87.6" stroke="#bcbcbc" stroke-width="0.5"/><polygon points="410.2,68.4 410.6,67.7 422.6,67.8 422.2,68.6" fill="#bababa" stroke="#bababa" stroke-width="0.35"/><path d="M410.2,68.4L410.6,67.7M422.2,68.6L422.6,67.8" stroke="#bcbcbc" stroke-width="0.5"/><polygon points="305.4,67.0 305.8,66.3 317.8,66.5 317.4,67.2" fill="#bababa" stroke="#bababa" stroke-width="0.35"/><path d="M305.4,67.0L305.8,66.3M317.4,67.2L317.8,66.5" stroke="#bcbcbc" stroke-width="0.5"/><polygon points="271.6,85.2 272.0,84.5 284.0,84.8 283.6,85.5" fill="#dedede" stroke="#dedede" stroke-width="0.35"/><path d="M271.6,85.2L272.0,84.5M283.6,85.5L284.0,84.8" stroke="#bcbcbc" stroke-width="0.5"/><polygon points="376.4,87.6 376.8,86.9 388.8,87.2 388.4,87.9" fill="#dedede" stroke="#dedede" stroke-width="0.35"/><path d="M376.4,87.6L376.8,86.9M388.4,87.9L388.8,87.2" stroke="#bcbcbc" stroke-width="0.5"/><polygon points="436.5,68.6 436.9,67.8 448.9,68.0 448.5,68.7" fill="#b9b9b9" stroke="#b9b9b9" stroke-width="0.35"/><path d="M436.5,68.6L436.9,67.8M448.5,68.7L448.9,68.0" stroke="#bcbcbc" stroke-width="0.5"/><polygon points="331.7,67.2 332.1,66.5 344.1,66.6 343.7,67.3" fill="#b9b9b9" stroke="#b9b9b9" stroke-width="0.35"/><path d="M331.7,67.2L332.1,66.5M343.7,67.3L344.1,66.6" stroke="#bcbcbc" stroke-width="0.5"/><polygon points="350.1,87.2 350.5,86.5 362.5,86.8 362.1,87.5" fill="#dddddd" stroke="#dddddd" stroke-width="0.35"/><path d="M350.1,87.2L350.5,86.5M362.1,87.5L362.5,86.8" stroke="#bcbcbc" stroke-width="0.5"/><polygon points="454.9,89.6 455.3,88.9 467.3,89.2 466.9,89.9" fill="#dddddd" stroke="#dddddd" stroke-width="0.35"/><path d="M454.9,89.6L455.3,88.9M466.9,89.9L467.3,89.2" stroke="#bcbcbc" stroke-width="0.5"/><polygon points="462.8,68.7 463.2,68.0 475.2,68.1 474.8,68.9" fill="#b8b8b8" stroke="#b8b8b8" stroke-width="0.35"/><path d="M462.8,68.7L463.2,68.0M474.8,68.9L475.2,68.1" stroke="#bcbcbc" stroke-width="0.5"/><polygon points="358.0,67.3 358.4,66.6 370.4,66.8 370.0,67.5" fill="#b8b8b8" stroke="#b8b8b8" stroke-width="0.35"/><path d="M358.0,67.3L358.4,66.6M370.0,67.5L370.4,66.8" stroke="#bcbcbc" stroke-width="0.5"/><polygon points="323.8,86.8 324.2,86.1 336.2,86.3 335.8,87.0" fill="#dddddd" stroke="#dddddd" stroke-width="0.35"/><path d="M323.8,86.8L324.2,86.1M335.8,87.0L336.2,86.3" stroke="#bcbcbc" stroke-width="0.5"/><polygon points="428.6,89.2 429.0,88.5 441.0,88.8 440.6,89.5" fill="#dddddd" stroke="#dddddd" stroke-width="0.35"/><path d="M428.6,89.2L429.0,88.5M440.6,89.5L441.0,88.8" stroke="#bcbcbc" stroke-width="0.5"/><polygon points="384.3,67.5 384.7,66.8 396.7,67.0 396.3,67.7" fill="#b7b7b7" stroke="#b7b7b7" stroke-width="0.35"/><path d="M384.3,67.5L384.7,66.8M396.3,67.7L396.7,67.0" stroke="#bcbcbc" stroke-width="0.5"/><polygon points="279.5,66.1 280.0,65.5 292.0,65.6 291.5,66.3" fill="#b7b7b7" stroke="#b7b7b7" stroke-width="0.35"/><path d="M279.5,66.1L280.0,65.5M291.5,66.3L292.0,65.6" stroke="#bcbcbc" stroke-width="0.5"/><polygon points="297.5,86.3 297.9,85.7 309.9,85.9 309.5,86.6" fill="#dcdcdc" stroke="#dcdcdc" stroke-width="0.35"/><path d="M297.5,86.3L297.9,85.7M309.5,86.6L309.9,85.9" stroke="#bcbcbc" stroke-width="0.5"/><polygon points="402.3,88.8 402.7,88.1 414.7,88.3 414.3,89.0" fill="#dcdcdc" stroke="#dcdcdc" stroke-width="0.35"/><path d="M402.3,88.8L402.7,88.1M414.3,89.0L414.7,88.3" stroke="#bcbcbc" stroke-width="0.5"/><polygon points="410.6,67.7 411.0,67.0 423.0,67.1 422.6,67.8" fill="#b6b6b6" stroke="#b6b6b6" stroke-width="0.35"/><path d="M410.6,67.7L411.0,67.0M422.6,67.8L423.0,67.1" stroke="#bcbcbc" stroke-width="0.5"/><polygon points="305.8,66.3 306.3,65.7 318.3,65.8 317.8,66.5" fill="#b6b6b6" stroke="#b6b6b6" stroke-width="0.35"/><path d="M305.8,66.3L306.3,65.7M317.8,66.5L318.3,65.8" stroke="#bcbcbc" stroke-width="0.5"/><polygon points="271.2,85.8 271.6,85.2 283.6,85.5 283.2,86.1" fill="#dcdcdc" stroke="#dcdcdc" stroke-width="0.35"/><path d="M271.2,85.8L271.6,85.2M283.2,86.1L283.6,85.5" stroke="#bcbcbc" stroke-width="0.5"/><polygon points="376.0,88.3 376.4,87.6 388.4,87.9 388.0,88.6" fill="#dcdcdc" stroke="#dcdcdc" stroke-width="0.35"/><path d="M376.0,88.3L376.4,87.6M388.0,88.6L388.4,87.9" stroke="#bcbcbc" stroke-width="0.5"/><polygon points="436.9,67.8 437.3,67.2 449.3,67.3 448.9,68.0" fill="#b6b6b6" stroke="#b6b6b6" stroke-width="0.35"/><path d="M436.9,67.8L437.3,67.2M448.9,68.0L449.3,67.3" stroke="#bcbcbc" stroke-width="0.5"/><polygon points="332.1,66.5 332.6,65.9 344.6,66.0 344.1,66.6" fill="#b7b7b7" stroke="#b7b7b7" stroke-width="0.35"/><path d="M332.1,66.5L332.6,65.9M344.1,66.6L344.6,66.0" stroke="#bcbcbc" stroke-width="0.5"/><polygon points="349.7,87.8 350.1,87.2 362.1,87.5 361.7,88.1" fill="#dbdbdb" stroke="#dbdbdb" stroke-width="0.35"/><path d="M349.7,87.8L350.1,87.2M361.7,88.1L362.1,87.5" stroke="#bcbcbc" stroke-width="0.5"/><polygon points="454.5,90.3 454.9,89.6 466.9,89.9 466.5,90.6" fill="#dbdbdb" stroke="#dbdbdb" stroke-width="0.35"/><path d="M454.5,90.3L454.9,89.6M466.5,90.6L466.9,89.9" stroke="#bcbcbc" stroke-width="0.5"/><polygon points="463.2,68.0 463.7,67.3 475.7,67.5 475.2,68.1" fill="#b7b7b7" stroke="#b7b7b7" stroke-width="0.35"/><path d="M463.2,68.0L463.7,67.3M475.2,68.1L475.7,67.5" stroke="#bcbcbc" stroke-width="0.5"/><polygon points="358.4,66.6 358.9,66.0 370.9,66.2 370.4,66.8" fill="#b8b8b8" stroke="#b8b8b8" stroke-width="0.35"/><path d="M358.4,66.6L358.9,66.0M370.4,66.8L370.9,66.2" stroke="#bcbcbc" stroke-width="0.5"/><polygon points="323.4,87.3 323.8,86.8 335.8,87.0 335.4,87.6" fill="#dbdbdb" stroke="#dbdbdb" stroke-width="0.35"/><path d="M323.4,87.3L323.8,86.8M335.4,87.6L335.8,87.0" stroke="#bcbcbc" stroke-width="0.5"/><polygon points="428.2,89.8 428.6,89.2 440.6,89.5 440.2,90.1" fill="#dbdbdb" stroke="#dbdbdb" stroke-width="0.35"/><path d="M428.2,89.8L428.6,89.2M440.2,90.1L440.6,89.5" stroke="#bcbcbc" stroke-width="0.5"/><polygon points="384.7,66.8 385.2,66.2 397.2,66.4 396.7,67.0" fill="#b9b9b9" stroke="#b9b9b9" stroke-width="0.35"/><path d="M384.7,66.8L385.2,66.2M396.7,67.0L397.2,66.4" stroke="#bcbcbc" stroke-width="0.5"/><polygon points="280.0,65.5 280.4,64.9 292.4,65.1 292.0,65.6" fill="#b9b9b9" stroke="#b9b9b9" stroke-width="0.35"/><path d="M280.0,65.5L280.4,64.9M292.0,65.6L292.4,65.1" stroke="#bcbcbc" stroke-width="0.5"/><polygon points="297.1,86.8 297.5,86.3 309.5,86.6 309.1,87.1" fill="#dadada" stroke="#dadada" stroke-width="0.35"/><path d="M297.1,86.8L297.5,86.3M309.1,87.1L309.5,86.6" stroke="#bcbcbc" stroke-width="0.5"/><polygon points="401.9,89.3 402.3,88.8 414.3,89.0 413.9,89.6" fill="#dadada" stroke="#dadada" stroke-width="0.35"/><path d="M401.9,89.3L402.3,88.8M413.9,89.6L414.3,89.0" stroke="#bcbcbc" stroke-width="0.5"/><polygon points="411.0,67.0 411.5,66.4 423.5,66.6 423.0,67.1" fill="#bababa" stroke="#bababa" stroke-width="0.35"/><path d="M411.0,67.0L411.5,66.4M423.0,67.1L423.5,66.6" stroke="#bcbcbc" stroke-width="0.5"/><polygon points="306.3,65.7 306.7,65.1 318.7,65.3 318.3,65.8" fill="#bababa" stroke="#bababa" stroke-width="0.35"/><path d="M306.3,65.7L306.7,65.1M318.3,65.8L318.7,65.3" stroke="#bcbcbc" stroke-width="0.5"/><polygon points="270.8,86.3 271.2,85.8 283.2,86.1 282.8,86.6" fill="#dadada" stroke="#dadada" stroke-width="0.35"/><path d="M270.8,86.3L271.2,85.8M282.8,86.6L283.2,86.1" stroke="#bcbcbc" stroke-width="0.5"/><polygon points="375.6,88.8 376.0,88.3 388.0,88.6 387.6,89.1" fill="#dadada" stroke="#dadada" stroke-width="0.35"/><path d="M375.6,88.8L376.0,88.3M387.6,89.1L388.0,88.6" stroke="#bcbcbc" stroke-width="0.5"/><polygon points="437.3,67.2 437.8,66.6 449.8,66.8 449.3,67.3" fill="#bbbbbb" stroke="#bbbbbb" stroke-width="0.35"/><path d="M437.3,67.2L437.8,66.6M449.3,67.3L449.8,66.8" stroke="#bcbcbc" stroke-width="0.5"/><polygon points="332.6,65.9 333.0,65.4 345.0,65.5 344.6,66.0" fill="#bbbbbb" stroke="#bbbbbb" stroke-width="0.35"/><path d="M332.6,65.9L333.0,65.4M344.6,66.0L345.0,65.5" stroke="#bcbcbc" stroke-width="0.5"/><polygon points="349.3,88.3 349.7,87.8 361.7,88.1 361.3,88.6" fill="#d9d9d9" stroke="#d9d9d9" stroke-width="0.35"/><path d="M349.3,88.3L349.7,87.8M361.3,88.6L361.7,88.1" stroke="#bcbcbc" stroke-width="0.5"/><polygon points="454.0,90.8 454.5,90.3 466.5,90.6 466.0,91.1" fill="#d9d9d9" stroke="#d9d9d9" stroke-width="0.35"/><path d="M454.0,90.8L454.5,90.3M466.0,91.1L466.5,90.6" stroke="#bcbcbc" stroke-width="0.5"/><polygon points="463.7,67.3 464.1,66.8 476.1,67.0 475.7,67.5" fill="#bcbcbc" stroke="#bcbcbc" stroke-width="0.35"/><path d="M463.7,67.3L464.1,66.8M475.7,67.5L476.1,67.0" stroke="#bcbcbc" stroke-width="0.5"/><polygon points="358.9,66.0 359.3,65.6 371.3,65.7 370.9,66.2" fill="#bcbcbc" stroke="#bcbcbc" stroke-width="0.35"/><path d="M358.9,66.0L359.3,65.6M370.9,66.2L371.3,65.7" stroke="#bcbcbc" stroke-width="0.5"/><polygon points="323.0,87.8 323.4,87.3 335.4,87.6 335.0,88.1" fill="#d9d9d9" stroke="#d9d9d9" stroke-width="0.35"/><path d="M323.0,87.8L323.4,87.3M335.0,88.1L335.4,87.6" stroke="#bcbcbc" stroke-width="0.5"/><polygon points="427.7,90.3 428.2,89.8 440.2,90.1 439.7,90.6" fill="#d9d9d9" stroke="#d9d9d9" stroke-width="0.35"/><path d="M427.7,90.3L428.2,89.8M439.7,90.6L440.2,90.1" stroke="#bcbcbc" stroke-width="0.5"/><polygon points="385.2,66.2 385.6,65.8 397.6,65.9 397.2,66.4" fill="#bdbdbd" stroke="#bdbdbd" stroke-width="0.35"/><path d="M385.2,66.2L385.6,65.8M397.2,66.4L397.6,65.9" stroke="#bcbcbc" stroke-width="0.5"/><polygon points="280.4,64.9 280.8,64.5 292.8,64.7 292.4,65.1" fill="#bdbdbd" stroke="#bdbdbd" stroke-width="0.35"/><path d="M280.4,64.9L280.8,64.5M292.4,65.1L292.8,64.7" stroke="#bcbcbc" stroke-width="0.5"/><polygon points="296.7,87.3 297.1,86.8 309.1,87.1 308.7,87.6" fill="#d8d8d8" stroke="#d8d8d8" stroke-width="0.35"/><path d="M296.7,87.3L297.1,86.8M308.7,87.6L309.1,87.1" stroke="#bcbcbc" stroke-width="0.5"/><polygon points="401.4,89.8 401.9,89.3 413.9,89.6 413.4,90.1" fill="#d8d8d8" stroke="#d8d8d8" stroke-width="0.35"/><path d="M401.4,89.8L401.9,89.3M413.4,90.1L413.9,89.6" stroke="#bcbcbc" stroke-width="0.5"/><polygon points="411.5,66.4 411.9,66.0 423.9,66.1 423.5,66.6" fill="#bebebe" stroke="#bebebe" stroke-width="0.35"/><path d="M411.5,66.4L411.9,66.0M423.5,66.6L423.9,66.1" stroke="#bcbcbc" stroke-width="0.5"/><polygon points="306.7,65.1 307.1,64.7 319.1,64.9 318.7,65.3" fill="#bebebe" stroke="#bebebe" stroke-width="0.35"/><path d="M306.7,65.1L307.1,64.7M318.7,65.3L319.1,64.9" stroke="#bcbcbc" stroke-width="0.5"/><polygon points="270.4,86.7 270.8,86.3 282.8,86.6 282.4,87.0" fill="#d7d7d7" stroke="#d7d7d7" stroke-width="0.35"/><path d="M270.4,86.7L270.8,86.3M282.4,87.0L282.8,86.6" stroke="#bcbcbc" stroke-width="0.5"/><polygon points="375.1,89.2 375.6,88.8 387.6,89.1 387.1,89.5" fill="#d7d7d7" stroke="#d7d7d7" stroke-width="0.35"/><path d="M375.1,89.2L375.6,88.8M387.1,89.5L387.6,89.1" stroke="#bcbcbc" stroke-width="0.5"/><polygon points="437.8,66.6 438.2,66.2 450.2,66.3 449.8,66.8" fill="#bfbfbf" stroke="#bfbfbf" stroke-width="0.35"/><path d="M437.8,66.6L438.2,66.2M449.8,66.8L450.2,66.3" stroke="#bcbcbc" stroke-width="0.5"/><polygon points="333.0,65.4 333.4,65.0 345.4,65.1 345.0,65.5" fill="#bfbfbf" stroke="#bfbfbf" stroke-width="0.35"/><path d="M333.0,65.4L333.4,65.0M345.0,65.5L345.4,65.1" stroke="#bcbcbc" stroke-width="0.5"/><polygon points="348.8,88.7 349.3,88.3 361.3,88.6 360.8,89.0" fill="#d7d7d7" stroke="#d7d7d7" stroke-width="0.35"/><path d="M348.8,88.7L349.3,88.3M360.8,89.0L361.3,88.6" stroke="#bcbcbc" stroke-width="0.5"/><polygon points="453.6,91.2 454.0,90.8 466.0,91.1 465.6,91.5" fill="#d7d7d7" stroke="#d7d7d7" stroke-width="0.35"/><path d="M453.6,91.2L454.0,90.8M465.6,91.5L466.0,91.1" stroke="#bcbcbc" stroke-width="0.5"/><polygon points="464.1,66.8 464.5,66.4 476.5,66.6 476.1,67.0" fill="#c0c0c0" stroke="#c0c0c0" stroke-width="0.35"/><path d="M464.1,66.8L464.5,66.4M476.1,67.0L476.5,66.6" stroke="#bcbcbc" stroke-width="0.5"/><polygon points="359.3,65.6 359.7,65.2 371.7,65.3 371.3,65.7" fill="#c0c0c0" stroke="#c0c0c0" stroke-width="0.35"/><path d="M359.3,65.6L359.7,65.2M371.3,65.7L371.7,65.3" stroke="#bcbcbc" stroke-width="0.5"/><polygon points="322.5,88.2 323.0,87.8 335.0,88.1 334.5,88.4" fill="#d6d6d6" stroke="#d6d6d6" stroke-width="0.35"/><path d="M322.5,88.2L323.0,87.8M334.5,88.4L335.0,88.1" stroke="#bcbcbc" stroke-width="0.5"/><polygon points="427.3,90.7 427.7,90.3 439.7,90.6 439.3,91.0" fill="#d6d6d6" stroke="#d6d6d6" stroke-width="0.35"/><path d="M427.3,90.7L427.7,90.3M439.3,91.0L439.7,90.6" stroke="#bcbcbc" stroke-width="0.5"/><polygon points="385.6,65.8 386.0,65.4 398.0,65.6 397.6,65.9" fill="#c1c1c1" stroke="#c1c1c1" stroke-width="0.35"/><path d="M385.6,65.8L386.0,65.4M397.6,65.9L398.0,65.6" stroke="#bcbcbc" stroke-width="0.5"/><polygon points="280.8,64.5 281.2,64.2 293.2,64.3 292.8,64.7" fill="#c1c1c1" stroke="#c1c1c1" stroke-width="0.35"/><path d="M280.8,64.5L281.2,64.2M292.8,64.7L293.2,64.3" stroke="#bcbcbc" stroke-width="0.5"/><polygon points="296.2,87.6 296.7,87.3 308.7,87.6 308.2,87.9" fill="#d5d5d5" stroke="#d5d5d5" stroke-width="0.35"/><path d="M296.2,87.6L296.7,87.3M308.2,87.9L308.7,87.6" stroke="#bcbcbc" stroke-width="0.5"/><polygon points="401.0,90.1 401.4,89.8 413.4,90.1 413.0,90.4" fill="#d5d5d5" stroke="#d5d5d5" stroke-width="0.35"/><path d="M401.0,90.1L401.4,89.8M413.0,90.4L413.4,90.1" stroke="#bcbcbc" stroke-width="0.5"/><polygon points="411.9,66.0 412.3,65.7 424.3,65.8 423.9,66.1" fill="#c2c2c2" stroke="#c2c2c2" stroke-width="0.35"/><path d="M411.9,66.0L412.3,65.7M423.9,66.1L424.3,65.8" stroke="#bcbcbc" stroke-width="0.5"/><polygon points="307.1,64.7 307.5,64.4 319.5,64.6 319.1,64.9" fill="#c2c2c2" stroke="#c2c2c2" stroke-width="0.35"/><path d="M307.1,64.7L307.5,64.4M319.1,64.9L319.5,64.6" stroke="#bcbcbc" stroke-width="0.5"/><polygon points="269.9,87.0 270.4,86.7 282.4,87.0 281.9,87.3" fill="#d5d5d5" stroke="#d5d5d5" stroke-width="0.35"/><path d="M269.9,87.0L270.4,86.7M281.9,87.3L282.4,87.0" stroke="#bcbcbc" stroke-width="0.5"/><polygon points="374.7,89.5 375.1,89.2 387.1,89.5 386.7,89.8" fill="#d5d5d5" stroke="#d5d5d5" stroke-width="0.35"/><path d="M374.7,89.5L375.1,89.2M386.7,89.8L387.1,89.5" stroke="#bcbcbc" stroke-width="0.5"/><polygon points="438.2,66.2 438.6,65.9 450.6,66.0 450.2,66.3" fill="#c3c3c3" stroke="#c3c3c3" stroke-width="0.35"/><path d="M438.2,66.2L438.6,65.9M450.2,66.3L450.6,66.0" stroke="#bcbcbc" stroke-width="0.5"/><polygon points="333.4,65.0 333.8,64.7 345.8,64.8 345.4,65.1" fill="#c3c3c3" stroke="#c3c3c3" stroke-width="0.35"/><path d="M333.4,65.0L333.8,64.7M345.4,65.1L345.8,64.8" stroke="#bcbcbc" stroke-width="0.5"/><polygon points="348.4,89.0 348.8,88.7 360.8,89.0 360.4,89.3" fill="#d4d4d4" stroke="#d4d4d4" stroke-width="0.35"/><path d="M348.4,89.0L348.8,88.7M360.4,89.3L360.8,89.0" stroke="#bcbcbc" stroke-width="0.5"/><polygon points="453.2,91.5 453.6,91.2 465.6,91.5 465.2,91.8" fill="#d4d4d4" stroke="#d4d4d4" stroke-width="0.35"/><path d="M453.2,91.5L453.6,91.2M465.2,91.8L465.6,91.5" stroke="#bcbcbc" stroke-width="0.5"/><polygon points="464.5,66.4 464.9,66.2 476.9,66.3 476.5,66.6" fill="#c4c4c4" stroke="#c4c4c4" stroke-width="0.35"/><path d="M464.5,66.4L464.9,66.2M476.5,66.6L476.9,66.3" stroke="#bcbcbc" stroke-width="0.5"/><polygon points="359.7,65.2 360.1,64.9 372.1,65.1 371.7,65.3" fill="#c4c4c4" stroke="#c4c4c4" stroke-width="0.35"/><path d="M359.7,65.2L360.1,64.9M371.7,65.3L372.1,65.1" stroke="#bcbcbc" stroke-width="0.5"/><polygon points="322.1,88.4 322.5,88.2 334.5,88.4 334.1,88.7" fill="#d3d3d3" stroke="#d3d3d3" stroke-width="0.35"/><path d="M322.1,88.4L322.5,88.2M334.1,88.7L334.5,88.4" stroke="#bcbcbc" stroke-width="0.5"/><polygon points="426.9,90.9 427.3,90.7 439.3,91.0 438.9,91.2" fill="#d3d3d3" stroke="#d3d3d3" stroke-width="0.35"/><path d="M426.9,90.9L427.3,90.7M438.9,91.2L439.3,91.0" stroke="#bcbcbc" stroke-width="0.5"/><polygon points="386.0,65.4 386.4,65.2 398.4,65.3 398.0,65.6" fill="#c5c5c5" stroke="#c5c5c5" stroke-width="0.35"/><path d="M386.0,65.4L386.4,65.2M398.0,65.6L398.4,65.3" stroke="#bcbcbc" stroke-width="0.5"/><polygon points="281.2,64.2 281.6,64.0 293.6,64.1 293.2,64.3" fill="#c5c5c5" stroke="#c5c5c5" stroke-width="0.35"/><path d="M281.2,64.2L281.6,64.0M293.2,64.3L293.6,64.1" stroke="#bcbcbc" stroke-width="0.5"/><polygon points="295.8,87.8 296.2,87.6 308.2,87.9 307.8,88.1" fill="#d2d2d2" stroke="#d2d2d2" stroke-width="0.35"/><path d="M295.8,87.8L296.2,87.6M307.8,88.1L308.2,87.9" stroke="#bcbcbc" stroke-width="0.5"/><polygon points="400.6,90.3 401.0,90.1 413.0,90.4 412.6,90.6" fill="#d2d2d2" stroke="#d2d2d2" stroke-width="0.35"/><path d="M400.6,90.3L401.0,90.1M412.6,90.6L413.0,90.4" stroke="#bcbcbc" stroke-width="0.5"/><polygon points="412.3,65.7 412.7,65.5 424.7,65.6 424.3,65.8" fill="#c6c6c6" stroke="#c6c6c6" stroke-width="0.35"/><path d="M412.3,65.7L412.7,65.5M424.3,65.8L424.7,65.6" stroke="#bcbcbc" stroke-width="0.5"/><polygon points="307.5,64.4 307.9,64.2 319.9,64.4 319.5,64.6" fill="#c6c6c6" stroke="#c6c6c6" stroke-width="0.35"/><path d="M307.5,64.4L307.9,64.2M319.5,64.6L319.9,64.4" stroke="#bcbcbc" stroke-width="0.5"/><polygon points="269.5,87.2 269.9,87.0 281.9,87.3 281.5,87.5" fill="#d2d2d2" stroke="#d2d2d2" stroke-width="0.35"/><path d="M269.5,87.2L269.9,87.0M281.5,87.5L281.9,87.3" stroke="#bcbcbc" stroke-width="0.5"/><polygon points="374.3,89.7 374.7,89.5 386.7,89.8 386.3,90.0" fill="#d2d2d2" stroke="#d2d2d2" stroke-width="0.35"/><path d="M374.3,89.7L374.7,89.5M386.3,90.0L386.7,89.8" stroke="#bcbcbc" stroke-width="0.5"/><polygon points="438.6,65.9 439.0,65.7 451.0,65.9 450.6,66.0" fill="#c7c7c7" stroke="#c7c7c7" stroke-width="0.35"/><path d="M438.6,65.9L439.0,65.7M450.6,66.0L451.0,65.9" stroke="#bcbcbc" stroke-width="0.5"/><polygon points="333.8,64.7 334.2,64.5 346.2,64.7 345.8,64.8" fill="#c7c7c7" stroke="#c7c7c7" stroke-width="0.35"/><path d="M333.8,64.7L334.2,64.5M345.8,64.8L346.2,64.7" stroke="#bcbcbc" stroke-width="0.5"/><polygon points="348.0,89.1 348.4,89.0 360.4,89.3 360.0,89.4" fill="#d1d1d1" stroke="#d1d1d1" stroke-width="0.35"/><path d="M348.0,89.1L348.4,89.0M360.0,89.4L360.4,89.3" stroke="#bcbcbc" stroke-width="0.5"/><polygon points="452.8,91.6 453.2,91.5 465.2,91.8 464.8,91.9" fill="#d1d1d1" stroke="#d1d1d1" stroke-width="0.35"/><path d="M452.8,91.6L453.2,91.5M464.8,91.9L465.2,91.8" stroke="#bcbcbc" stroke-width="0.5"/><polygon points="464.9,66.2 465.3,66.0 477.3,66.2 476.9,66.3" fill="#c8c8c8" stroke="#c8c8c8" stroke-width="0.35"/><path d="M464.9,66.2L465.3,66.0M476.9,66.3L477.3,66.2" stroke="#bcbcbc" stroke-width="0.5"/><polygon points="360.1,64.9 360.5,64.8 372.5,64.9 372.1,65.1" fill="#c8c8c8" stroke="#c8c8c8" stroke-width="0.35"/><path d="M360.1,64.9L360.5,64.8M372.1,65.1L372.5,64.9" stroke="#bcbcbc" stroke-width="0.5"/><polygon points="321.7,88.5 322.1,88.4 334.1,88.7 333.7,88.8" fill="#d0d0d0" stroke="#d0d0d0" stroke-width="0.35"/><path d="M321.7,88.5L322.1,88.4M333.7,88.8L334.1,88.7" stroke="#bcbcbc" stroke-width="0.5"/><polygon points="426.5,91.0 426.9,90.9 438.9,91.2 438.5,91.3" fill="#d0d0d0" stroke="#d0d0d0" stroke-width="0.35"/><path d="M426.5,91.0L426.9,90.9M438.5,91.3L438.9,91.2" stroke="#bcbcbc" stroke-width="0.5"/><polygon points="386.4,65.2 386.8,65.1 398.8,65.2 398.4,65.3" fill="#c9c9c9" stroke="#c9c9c9" stroke-width="0.35"/><path d="M386.4,65.2L386.8,65.1M398.4,65.3L398.8,65.2" stroke="#bcbcbc" stroke-width="0.5"/><polygon points="281.6,64.0 282.0,63.9 294.0,64.0 293.6,64.1" fill="#c9c9c9" stroke="#c9c9c9" stroke-width="0.35"/><path d="M281.6,64.0L282.0,63.9M293.6,64.1L294.0,64.0" stroke="#bcbcbc" stroke-width="0.5"/><polygon points="295.4,87.9 295.8,87.8 307.8,88.1 307.4,88.2" fill="#cfcfcf" stroke="#cfcfcf" stroke-width="0.35"/><path d="M295.4,87.9L295.8,87.8M307.4,88.2L307.8,88.1" stroke="#bcbcbc" stroke-width="0.5"/><polygon points="400.2,90.4 400.6,90.3 412.6,90.6 412.2,90.7" fill="#cfcfcf" stroke="#cfcfcf" stroke-width="0.35"/><path d="M400.2,90.4L400.6,90.3M412.2,90.7L412.6,90.6" stroke="#bcbcbc" stroke-width="0.5"/><polygon points="412.7,65.5 413.1,65.4 425.1,65.5 424.7,65.6" fill="#cacaca" stroke="#cacaca" stroke-width="0.35"/><path d="M412.7,65.5L413.1,65.4M424.7,65.6L425.1,65.5" stroke="#bcbcbc" stroke-width="0.5"/><polygon points="307.9,64.2 308.3,64.2 320.3,64.3 319.9,64.4" fill="#cacaca" stroke="#cacaca" stroke-width="0.35"/><path d="M307.9,64.2L308.3,64.2M319.9,64.4L320.3,64.3" stroke="#bcbcbc" stroke-width="0.5"/><polygon points="269.1,87.3 269.5,87.2 281.5,87.5 281.1,87.5" fill="#cecece" stroke="#cecece" stroke-width="0.35"/><path d="M269.1,87.3L269.5,87.2M281.1,87.5L281.5,87.5" stroke="#bcbcbc" stroke-width="0.5"/><polygon points="373.9,89.8 374.3,89.7 386.3,90.0 385.9,90.1" fill="#cecece" stroke="#cecece" stroke-width="0.35"/><path d="M373.9,89.8L374.3,89.7M385.9,90.1L386.3,90.0" stroke="#bcbcbc" stroke-width="0.5"/><polygon points="439.0,65.7 439.4,65.7 451.4,65.8 451.0,65.9" fill="#cbcbcb" stroke="#cbcbcb" stroke-width="0.35"/><path d="M439.0,65.7L439.4,65.7M451.0,65.9L451.4,65.8" stroke="#bcbcbc" stroke-width="0.5"/><polygon points="334.2,64.5 334.7,64.5 346.7,64.6 346.2,64.7" fill="#cbcbcb" stroke="#cbcbcb" stroke-width="0.35"/><path d="M334.2,64.5L334.7,64.5M346.2,64.7L346.7,64.6" stroke="#bcbcbc" stroke-width="0.5"/><polygon points="347.6,89.1 348.0,89.1 360.0,89.4 359.6,89.4" fill="#cdcdcd" stroke="#cdcdcd" stroke-width="0.35"/><path d="M347.6,89.1L348.0,89.1M359.6,89.4L360.0,89.4" stroke="#bcbcbc" stroke-width="0.5"/><polygon points="452.4,91.7 452.8,91.6 464.8,91.9 464.4,92.0" fill="#cdcdcd" stroke="#cdcdcd" stroke-width="0.35"/><path d="M452.4,91.7L452.8,91.6M464.4,92.0L464.8,91.9" stroke="#bcbcbc" stroke-width="0.5"/><polygon points="465.3,66.0 465.7,66.0 477.7,66.1 477.3,66.2" fill="#cccccc" stroke="#cccccc" stroke-width="0.35"/><path d="M465.3,66.0L465.7,66.0M477.3,66.2L477.7,66.1" stroke="#bcbcbc" stroke-width="0.5"/><polygon points="360.5,64.8 361.0,64.8 373.0,64.9 372.5,64.9" fill="#cccccc" stroke="#cccccc" stroke-width="0.35"/><path d="M360.5,64.8L361.0,64.8M372.5,64.9L373.0,64.9" stroke="#bcbcbc" stroke-width="0.5"/><polygon points="321.3,88.5 321.7,88.5 333.7,88.8 333.3,88.8" fill="#cccccc" stroke="#cccccc" stroke-width="0.35"/><path d="M321.3,88.5L321.7,88.5M333.3,88.8L333.7,88.8" stroke="#bcbcbc" stroke-width="0.5"/><polygon points="426.1,91.0 426.5,91.0 438.5,91.3 438.1,91.3" fill="#cccccc" stroke="#cccccc" stroke-width="0.35"/><path d="M426.1,91.0L426.5,91.0M438.1,91.3L438.5,91.3" stroke="#bcbcbc" stroke-width="0.5"/><polygon points="386.8,65.1 387.3,65.1 399.3,65.3 398.8,65.2" fill="#e4e4e4" stroke="#e4e4e4" stroke-width="0.35"/><path d="M386.8,65.1L387.3,65.1M398.8,65.2L399.3,65.3" stroke="#b0b0b0" stroke-width="0.5"/><polygon points="282.0,63.9 282.5,63.9 294.5,64.1 294.0,64.0" fill="#e4e4e4" stroke="#e4e4e4" stroke-width="0.35"/><path d="M282.0,63.9L282.5,63.9M294.0,64.0L294.5,64.1" stroke="#b0b0b0" stroke-width="0.5"/><polygon points="295.0,87.9 295.4,87.9 307.4,88.2 307.0,88.1" fill="#e2e2e2" stroke="#e2e2e2" stroke-width="0.35"/><path d="M295.0,87.9L295.4,87.9M307.0,88.1L307.4,88.2" stroke="#b0b0b0" stroke-width="0.5"/><polygon points="399.8,90.4 400.2,90.4 412.2,90.7 411.8,90.7" fill="#e2e2e2" stroke="#e2e2e2" stroke-width="0.35"/><path d="M399.8,90.4L400.2,90.4M411.8,90.7L412.2,90.7" stroke="#b0b0b0" stroke-width="0.5"/><polygon points="413.1,65.4 413.6,65.4 425.6,65.6 425.1,65.5" fill="#e5e5e5" stroke="#e5e5e5" stroke-width="0.35"/><path d="M413.1,65.4L413.6,65.4M425.1,65.5L425.6,65.6" stroke="#b0b0b0" stroke-width="0.5"/><polygon points="308.3,64.2 308.8,64.2 320.8,64.4 320.3,64.3" fill="#e5e5e5" stroke="#e5e5e5" stroke-width="0.35"/><path d="M308.3,64.2L308.8,64.2M320.3,64.3L320.8,64.4" stroke="#b0b0b0" stroke-width="0.5"/><polygon points="268.7,87.2 269.1,87.3 281.1,87.5 280.7,87.5" fill="#e1e1e1" stroke="#e1e1e1" stroke-width="0.35"/><path d="M268.7,87.2L269.1,87.3M280.7,87.5L281.1,87.5" stroke="#b0b0b0" stroke-width="0.5"/><polygon points="373.5,89.7 373.9,89.8 385.9,90.1 385.5,90.0" fill="#e1e1e1" stroke="#e1e1e1" stroke-width="0.35"/><path d="M373.5,89.7L373.9,89.8M385.5,90.0L385.9,90.1" stroke="#b0b0b0" stroke-width="0.5"/><polygon points="439.4,65.7 439.9,65.8 451.9,65.9 451.4,65.8" fill="#e6e6e6" stroke="#e6e6e6" stroke-width="0.35"/><path d="M439.4,65.7L439.9,65.8M451.4,65.8L451.9,65.9" stroke="#b0b0b0" stroke-width="0.5"/><polygon points="334.7,64.5 335.1,64.6 347.1,64.7 346.7,64.6" fill="#e6e6e6" stroke="#e6e6e6" stroke-width="0.35"/><path d="M334.7,64.5L335.1,64.6M346.7,64.6L347.1,64.7" stroke="#b0b0b0" stroke-width="0.5"/><polygon points="347.2,89.0 347.6,89.1 359.6,89.4 359.2,89.3" fill="#e0e0e0" stroke="#e0e0e0" stroke-width="0.35"/><path d="M347.2,89.0L347.6,89.1M359.2,89.3L359.6,89.4" stroke="#b0b0b0" stroke-width="0.5"/><polygon points="452.0,91.6 452.4,91.7 464.4,92.0 464.0,91.9" fill="#dfdfdf" stroke="#dfdfdf" stroke-width="0.35"/><path d="M452.0,91.6L452.4,91.7M464.0,91.9L464.4,92.0" stroke="#b0b0b0" stroke-width="0.5"/><polygon points="465.7,66.0 466.2,66.1 478.2,66.3 477.7,66.1" fill="#e7e7e7" stroke="#e7e7e7" stroke-width="0.35"/><path d="M465.7,66.0L466.2,66.1M477.7,66.1L478.2,66.3" stroke="#b0b0b0" stroke-width="0.5"/><polygon points="361.0,64.8 361.4,64.9 373.4,65.1 373.0,64.9" fill="#e7e7e7" stroke="#e7e7e7" stroke-width="0.35"/><path d="M361.0,64.8L361.4,64.9M373.0,64.9L373.4,65.1" stroke="#b0b0b0" stroke-width="0.5"/><polygon points="320.9,88.4 321.3,88.5 333.3,88.8 332.9,88.7" fill="#dedede" stroke="#dedede" stroke-width="0.35"/><path d="M320.9,88.4L321.3,88.5M332.9,88.7L333.3,88.8" stroke="#b0b0b0" stroke-width="0.5"/><polygon points="425.7,90.9 426.1,91.0 438.1,91.3 437.7,91.2" fill="#dedede" stroke="#dedede" stroke-width="0.35"/><path d="M425.7,90.9L426.1,91.0M437.7,91.2L438.1,91.3" stroke="#b0b0b0" stroke-width="0.5"/><polygon points="387.3,65.1 387.7,65.3 399.7,65.4 399.3,65.3" fill="#e8e8e8" stroke="#e8e8e8" stroke-width="0.35"/><path d="M387.3,65.1L387.7,65.3M399.3,65.3L399.7,65.4" stroke="#b0b0b0" stroke-width="0.5"/><polygon points="282.5,63.9 282.9,64.1 294.9,64.2 294.5,64.1" fill="#e9e9e9" stroke="#e9e9e9" stroke-width="0.35"/><path d="M282.5,63.9L282.9,64.1M294.5,64.1L294.9,64.2" stroke="#b0b0b0" stroke-width="0.5"/><polygon points="294.6,87.7 295.0,87.9 307.0,88.1 306.6,88.0" fill="#dddddd" stroke="#dddddd" stroke-width="0.35"/><path d="M294.6,87.7L295.0,87.9M306.6,88.0L307.0,88.1" stroke="#b0b0b0" stroke-width="0.5"/><polygon points="399.4,90.2 399.8,90.4 411.8,90.7 411.4,90.5" fill="#dddddd" stroke="#dddddd" stroke-width="0.35"/><path d="M399.4,90.2L399.8,90.4M411.4,90.5L411.8,90.7" stroke="#b0b0b0" stroke-width="0.5"/><polygon points="413.6,65.4 414.0,65.6 426.0,65.8 425.6,65.6" fill="#e9e9e9" stroke="#e9e9e9" stroke-width="0.35"/><path d="M413.6,65.4L414.0,65.6M425.6,65.6L426.0,65.8" stroke="#b0b0b0" stroke-width="0.5"/><polygon points="308.8,64.2 309.2,64.4 321.2,64.6 320.8,64.4" fill="#eaeaea" stroke="#eaeaea" stroke-width="0.35"/><path d="M308.8,64.2L309.2,64.4M320.8,64.4L321.2,64.6" stroke="#b0b0b0" stroke-width="0.5"/><polygon points="268.3,87.0 268.7,87.2 280.7,87.5 280.3,87.3" fill="#dcdcdc" stroke="#dcdcdc" stroke-width="0.35"/><path d="M268.3,87.0L268.7,87.2M280.3,87.3L280.7,87.5" stroke="#b0b0b0" stroke-width="0.5"/><polygon points="373.1,89.5 373.5,89.7 385.5,90.0 385.1,89.8" fill="#dcdcdc" stroke="#dcdcdc" stroke-width="0.35"/><path d="M373.1,89.5L373.5,89.7M385.1,89.8L385.5,90.0" stroke="#b0b0b0" stroke-width="0.5"/><polygon points="439.9,65.8 440.3,66.0 452.3,66.1 451.9,65.9" fill="#eaeaea" stroke="#eaeaea" stroke-width="0.35"/><path d="M439.9,65.8L440.3,66.0M451.9,65.9L452.3,66.1" stroke="#b0b0b0" stroke-width="0.5"/><polygon points="335.1,64.6 335.5,64.8 347.5,64.9 347.1,64.7" fill="#ebebeb" stroke="#ebebeb" stroke-width="0.35"/><path d="M335.1,64.6L335.5,64.8M347.1,64.7L347.5,64.9" stroke="#b0b0b0" stroke-width="0.5"/><polygon points="346.8,88.8 347.2,89.0 359.2,89.3 358.8,89.1" fill="#dadada" stroke="#dadada" stroke-width="0.35"/><path d="M346.8,88.8L347.2,89.0M358.8,89.1L359.2,89.3" stroke="#b0b0b0" stroke-width="0.5"/><polygon points="451.5,91.3 452.0,91.6 464.0,91.9 463.5,91.6" fill="#dadada" stroke="#dadada" stroke-width="0.35"/><path d="M451.5,91.3L452.0,91.6M463.5,91.6L464.0,91.9" stroke="#b0b0b0" stroke-width="0.5"/><polygon points="466.2,66.1 466.6,66.4 478.6,66.5 478.2,66.3" fill="#ebebeb" stroke="#ebebeb" stroke-width="0.35"/><path d="M466.2,66.1L466.6,66.4M478.2,66.3L478.6,66.5" stroke="#b0b0b0" stroke-width="0.5"/><polygon points="361.4,64.9 361.8,65.2 373.8,65.3 373.4,65.1" fill="#ececec" stroke="#ececec" stroke-width="0.35"/><path d="M361.4,64.9L361.8,65.2M373.4,65.1L373.8,65.3" stroke="#b0b0b0" stroke-width="0.5"/><polygon points="320.5,88.1 320.9,88.4 332.9,88.7 332.5,88.4" fill="#d9d9d9" stroke="#d9d9d9" stroke-width="0.35"/><path d="M320.5,88.1L320.9,88.4M332.5,88.4L332.9,88.7" stroke="#b0b0b0" stroke-width="0.5"/><polygon points="425.2,90.6 425.7,90.9 437.7,91.2 437.2,90.9" fill="#d9d9d9" stroke="#d9d9d9" stroke-width="0.35"/><path d="M425.2,90.6L425.7,90.9M437.2,90.9L437.7,91.2" stroke="#b0b0b0" stroke-width="0.5"/><polygon points="387.7,65.3 388.1,65.5 400.1,65.7 399.7,65.4" fill="#ececec" stroke="#ececec" stroke-width="0.35"/><path d="M387.7,65.3L388.1,65.5M399.7,65.4L400.1,65.7" stroke="#b0b0b0" stroke-width="0.5"/><polygon points="282.9,64.1 283.3,64.3 295.3,64.5 294.9,64.2" fill="#ededed" stroke="#ededed" stroke-width="0.35"/><path d="M282.9,64.1L283.3,64.3M294.9,64.2L295.3,64.5" stroke="#b0b0b0" stroke-width="0.5"/><polygon points="294.2,87.4 294.6,87.7 306.6,88.0 306.2,87.7" fill="#d7d7d7" stroke="#d7d7d7" stroke-width="0.35"/><path d="M294.2,87.4L294.6,87.7M306.2,87.7L306.6,88.0" stroke="#b0b0b0" stroke-width="0.5"/><polygon points="398.9,89.9 399.4,90.2 411.4,90.5 410.9,90.2" fill="#d7d7d7" stroke="#d7d7d7" stroke-width="0.35"/><path d="M398.9,89.9L399.4,90.2M410.9,90.2L411.4,90.5" stroke="#b0b0b0" stroke-width="0.5"/><polygon points="414.0,65.6 414.4,65.9 426.4,66.1 426.0,65.8" fill="#ededed" stroke="#ededed" stroke-width="0.35"/><path d="M414.0,65.6L414.4,65.9M426.0,65.8L426.4,66.1" stroke="#b0b0b0" stroke-width="0.5"/><polygon points="309.2,64.4 309.6,64.7 321.6,64.9 321.2,64.6" fill="#eeeeee" stroke="#eeeeee" stroke-width="0.35"/><path d="M309.2,64.4L309.6,64.7M321.2,64.6L321.6,64.9" stroke="#b0b0b0" stroke-width="0.5"/><polygon points="267.9,86.7 268.3,87.0 280.3,87.3 279.9,87.0" fill="#d6d6d6" stroke="#d6d6d6" stroke-width="0.35"/><path d="M267.9,86.7L268.3,87.0M279.9,87.0L280.3,87.3" stroke="#b0b0b0" stroke-width="0.5"/><polygon points="372.6,89.2 373.1,89.5 385.1,89.8 384.6,89.5" fill="#d6d6d6" stroke="#d6d6d6" stroke-width="0.35"/><path d="M372.6,89.2L373.1,89.5M384.6,89.5L385.1,89.8" stroke="#b0b0b0" stroke-width="0.5"/><polygon points="440.3,66.0 440.7,66.3 452.7,66.5 452.3,66.1" fill="#eeeeee" stroke="#eeeeee" stroke-width="0.35"/><path d="M440.3,66.0L440.7,66.3M452.3,66.1L452.7,66.5" stroke="#b0b0b0" stroke-width="0.5"/><polygon points="335.5,64.8 335.9,65.1 347.9,65.3 347.5,64.9" fill="#eeeeee" stroke="#eeeeee" stroke-width="0.35"/><path d="M335.5,64.8L335.9,65.1M347.5,64.9L347.9,65.3" stroke="#b0b0b0" stroke-width="0.5"/><polygon points="346.3,88.5 346.8,88.8 358.8,89.1 358.3,88.8" fill="#d4d4d4" stroke="#d4d4d4" stroke-width="0.35"/><path d="M346.3,88.5L346.8,88.8M358.3,88.8L358.8,89.1" stroke="#b0b0b0" stroke-width="0.5"/><polygon points="451.1,91.0 451.5,91.3 463.5,91.6 463.1,91.3" fill="#d4d4d4" stroke="#d4d4d4" stroke-width="0.35"/><path d="M451.1,91.0L451.5,91.3M463.1,91.3L463.5,91.6" stroke="#b0b0b0" stroke-width="0.5"/><polygon points="466.6,66.4 467.0,66.7 479.0,66.9 478.6,66.5" fill="#efefef" stroke="#efefef" stroke-width="0.35"/><path d="M466.6,66.4L467.0,66.7M478.6,66.5L479.0,66.9" stroke="#b0b0b0" stroke-width="0.5"/><polygon points="361.8,65.2 362.2,65.5 374.2,65.7 373.8,65.3" fill="#efefef" stroke="#efefef" stroke-width="0.35"/><path d="M361.8,65.2L362.2,65.5M373.8,65.3L374.2,65.7" stroke="#b0b0b0" stroke-width="0.5"/><polygon points="257.0,63.9 257.4,64.3 269.4,64.4 269.0,64.1" fill="#efefef" stroke="#efefef" stroke-width="0.35"/><path d="M257.0,63.9L257.4,64.3M269.0,64.1L269.4,64.4" stroke="#b0b0b0" stroke-width="0.5"/><polygon points="320.0,87.8 320.5,88.1 332.5,88.4 332.0,88.1" fill="#d3d3d3" stroke="#d3d3d3" stroke-width="0.35"/><path d="M320.0,87.8L320.5,88.1M332.0,88.1L332.5,88.4" stroke="#b0b0b0" stroke-width="0.5"/><polygon points="424.8,90.2 425.2,90.6 437.2,90.9 436.8,90.5" fill="#d3d3d3" stroke="#d3d3d3" stroke-width="0.35"/><path d="M424.8,90.2L425.2,90.6M436.8,90.5L437.2,90.9" stroke="#b0b0b0" stroke-width="0.5"/><polygon points="388.1,65.5 388.5,65.9 400.5,66.1 400.1,65.7" fill="#f0f0f0" stroke="#f0f0f0" stroke-width="0.35"/><path d="M388.1,65.5L388.5,65.9M400.1,65.7L400.5,66.1" stroke="#b0b0b0" stroke-width="0.5"/><polygon points="283.3,64.3 283.7,64.7 295.7,64.8 295.3,64.5" fill="#f0f0f0" stroke="#f0f0f0" stroke-width="0.35"/><path d="M283.3,64.3L283.7,64.7M295.3,64.5L295.7,64.8" stroke="#b0b0b0" stroke-width="0.5"/><polygon points="293.7,87.0 294.2,87.4 306.2,87.7 305.7,87.3" fill="#d1d1d1" stroke="#d1d1d1" stroke-width="0.35"/><path d="M293.7,87.0L294.2,87.4M305.7,87.3L306.2,87.7" stroke="#b0b0b0" stroke-width="0.5"/><polygon points="398.5,89.5 398.9,89.9 410.9,90.2 410.5,89.8" fill="#d1d1d1" stroke="#d1d1d1" stroke-width="0.35"/><path d="M398.5,89.5L398.9,89.9M410.5,89.8L410.9,90.2" stroke="#b0b0b0" stroke-width="0.5"/><polygon points="414.4,65.9 414.8,66.4 426.8,66.5 426.4,66.1" fill="#f1f1f1" stroke="#f1f1f1" stroke-width="0.35"/><path d="M414.4,65.9L414.8,66.4M426.4,66.1L426.8,66.5" stroke="#b0b0b0" stroke-width="0.5"/><polygon points="309.6,64.7 310.0,65.1 322.0,65.3 321.6,64.9" fill="#f1f1f1" stroke="#f1f1f1" stroke-width="0.35"/><path d="M309.6,64.7L310.0,65.1M321.6,64.9L322.0,65.3" stroke="#b0b0b0" stroke-width="0.5"/><polygon points="267.4,86.3 267.9,86.7 279.9,87.0 279.4,86.6" fill="#d0d0d0" stroke="#d0d0d0" stroke-width="0.35"/><path d="M267.4,86.3L267.9,86.7M279.4,86.6L279.9,87.0" stroke="#b0b0b0" stroke-width="0.5"/><polygon points="372.2,88.8 372.6,89.2 384.6,89.5 384.2,89.1" fill="#cfcfcf" stroke="#cfcfcf" stroke-width="0.35"/><path d="M372.2,88.8L372.6,89.2M384.2,89.1L384.6,89.5" stroke="#b0b0b0" stroke-width="0.5"/><polygon points="440.7,66.3 441.1,66.8 453.1,66.9 452.7,66.5" fill="#f2f2f2" stroke="#f2f2f2" stroke-width="0.35"/><path d="M440.7,66.3L441.1,66.8M452.7,66.5L453.1,66.9" stroke="#b0b0b0" stroke-width="0.5"/><polygon points="335.9,65.1 336.3,65.6 348.3,65.7 347.9,65.3" fill="#f2f2f2" stroke="#f2f2f2" stroke-width="0.35"/><path d="M335.9,65.1L336.3,65.6M347.9,65.3L348.3,65.7" stroke="#b0b0b0" stroke-width="0.5"/><polygon points="345.9,88.0 346.3,88.5 358.3,88.8 357.9,88.3" fill="#cecece" stroke="#cecece" stroke-width="0.35"/><path d="M345.9,88.0L346.3,88.5M357.9,88.3L358.3,88.8" stroke="#b0b0b0" stroke-width="0.5"/><polygon points="450.7,90.5 451.1,91.0 463.1,91.3 462.7,90.8" fill="#cecece" stroke="#cecece" stroke-width="0.35"/><path d="M450.7,90.5L451.1,91.0M462.7,90.8L463.1,91.3" stroke="#b0b0b0" stroke-width="0.5"/><polygon points="467.0,66.7 467.4,67.2 479.4,67.4 479.0,66.9" fill="#f2f2f2" stroke="#f2f2f2" stroke-width="0.35"/><path d="M467.0,66.7L467.4,67.2M479.0,66.9L479.4,67.4" stroke="#b0b0b0" stroke-width="0.5"/><polygon points="362.2,65.5 362.6,66.0 374.6,66.1 374.2,65.7" fill="#f3f3f3" stroke="#f3f3f3" stroke-width="0.35"/><path d="M362.2,65.5L362.6,66.0M374.2,65.7L374.6,66.1" stroke="#b0b0b0" stroke-width="0.5"/><polygon points="257.4,64.3 257.8,64.7 269.8,64.9 269.4,64.4" fill="#f3f3f3" stroke="#f3f3f3" stroke-width="0.35"/><path d="M257.4,64.3L257.8,64.7M269.4,64.4L269.8,64.9" stroke="#b0b0b0" stroke-width="0.5"/><polygon points="319.6,87.3 320.0,87.8 332.0,88.1 331.6,87.6" fill="#cccccc" stroke="#cccccc" stroke-width="0.35"/><path d="M319.6,87.3L320.0,87.8M331.6,87.6L332.0,88.1" stroke="#b0b0b0" stroke-width="0.5"/><polygon points="424.4,89.7 424.8,90.2 436.8,90.5 436.4,90.0" fill="#cccccc" stroke="#cccccc" stroke-width="0.35"/><path d="M424.4,89.7L424.8,90.2M436.4,90.0L436.8,90.5" stroke="#b0b0b0" stroke-width="0.5"/><polygon points="388.5,65.9 388.9,66.4 400.9,66.6 400.5,66.1" fill="#f3f3f3" stroke="#f3f3f3" stroke-width="0.35"/><path d="M388.5,65.9L388.9,66.4M400.5,66.1L400.9,66.6" stroke="#b0b0b0" stroke-width="0.5"/><polygon points="283.7,64.7 284.1,65.2 296.1,65.3 295.7,64.8" fill="#f3f3f3" stroke="#f3f3f3" stroke-width="0.35"/><path d="M283.7,64.7L284.1,65.2M295.7,64.8L296.1,65.3" stroke="#b0b0b0" stroke-width="0.5"/><polygon points="293.3,86.5 293.7,87.0 305.7,87.3 305.3,86.8" fill="#cacaca" stroke="#cacaca" stroke-width="0.35"/><path d="M293.3,86.5L293.7,87.0M305.3,86.8L305.7,87.3" stroke="#b0b0b0" stroke-width="0.5"/><polygon points="398.1,89.0 398.5,89.5 410.5,89.8 410.1,89.3" fill="#cacaca" stroke="#cacaca" stroke-width="0.35"/><path d="M398.1,89.0L398.5,89.5M410.1,89.3L410.5,89.8" stroke="#b0b0b0" stroke-width="0.5"/><polygon points="414.8,66.4 415.2,66.9 427.2,67.1 426.8,66.5" fill="#f4f4f4" stroke="#f4f4f4" stroke-width="0.35"/><path d="M414.8,66.4L415.2,66.9M426.8,66.5L427.2,67.1" stroke="#b0b0b0" stroke-width="0.5"/><polygon points="310.0,65.1 310.4,65.6 322.4,65.8 322.0,65.3" fill="#f4f4f4" stroke="#f4f4f4" stroke-width="0.35"/><path d="M310.0,65.1L310.4,65.6M322.0,65.3L322.4,65.8" stroke="#b0b0b0" stroke-width="0.5"/><polygon points="267.0,85.8 267.4,86.3 279.4,86.6 279.0,86.1" fill="#c9c9c9" stroke="#c9c9c9" stroke-width="0.35"/><path d="M267.0,85.8L267.4,86.3M279.0,86.1L279.4,86.6" stroke="#b0b0b0" stroke-width="0.5"/><polygon points="371.8,88.2 372.2,88.8 384.2,89.1 383.8,88.5" fill="#c8c8c8" stroke="#c8c8c8" stroke-width="0.35"/><path d="M371.8,88.2L372.2,88.8M383.8,88.5L384.2,89.1" stroke="#b0b0b0" stroke-width="0.5"/><polygon points="441.1,66.8 441.5,67.4 453.5,67.5 453.1,66.9" fill="#f5f5f5" stroke="#f5f5f5" stroke-width="0.35"/><path d="M441.1,66.8L441.5,67.4M453.1,66.9L453.5,67.5" stroke="#b0b0b0" stroke-width="0.5"/><polygon points="336.3,65.6 336.7,66.1 348.7,66.3 348.3,65.7" fill="#f5f5f5" stroke="#f5f5f5" stroke-width="0.35"/><path d="M336.3,65.6L336.7,66.1M348.3,65.7L348.7,66.3" stroke="#b0b0b0" stroke-width="0.5"/><polygon points="345.5,87.5 345.9,88.0 357.9,88.3 357.5,87.7" fill="#c6c6c6" stroke="#c6c6c6" stroke-width="0.35"/><path d="M345.5,87.5L345.9,88.0M357.5,87.7L357.9,88.3" stroke="#b0b0b0" stroke-width="0.5"/><polygon points="450.3,89.9 450.7,90.5 462.7,90.8 462.3,90.2" fill="#c6c6c6" stroke="#c6c6c6" stroke-width="0.35"/><path d="M450.3,89.9L450.7,90.5M462.3,90.2L462.7,90.8" stroke="#b0b0b0" stroke-width="0.5"/><polygon points="467.4,67.2 467.8,67.9 479.8,68.0 479.4,67.4" fill="#f5f5f5" stroke="#f5f5f5" stroke-width="0.35"/><path d="M467.4,67.2L467.8,67.9M479.4,67.4L479.8,68.0" stroke="#b0b0b0" stroke-width="0.5"/><polygon points="362.6,66.0 363.0,66.6 375.0,66.7 374.6,66.1" fill="#f5f5f5" stroke="#f5f5f5" stroke-width="0.35"/><path d="M362.6,66.0L363.0,66.6M374.6,66.1L375.0,66.7" stroke="#b0b0b0" stroke-width="0.5"/><polygon points="257.8,64.7 258.3,65.3 270.3,65.4 269.8,64.9" fill="#f5f5f5" stroke="#f5f5f5" stroke-width="0.35"/><path d="M257.8,64.7L258.3,65.3M269.8,64.9L270.3,65.4" stroke="#b0b0b0" stroke-width="0.5"/><polygon points="319.2,86.7 319.6,87.3 331.6,87.6 331.2,87.0" fill="#c4c4c4" stroke="#c4c4c4" stroke-width="0.35"/><path d="M319.2,86.7L319.6,87.3M331.2,87.0L331.6,87.6" stroke="#b0b0b0" stroke-width="0.5"/><polygon points="424.0,89.1 424.4,89.7 436.4,90.0 436.0,89.4" fill="#c4c4c4" stroke="#c4c4c4" stroke-width="0.35"/><path d="M424.0,89.1L424.4,89.7M436.0,89.4L436.4,90.0" stroke="#b0b0b0" stroke-width="0.5"/><polygon points="388.9,66.4 389.3,67.1 401.3,67.2 400.9,66.6" fill="#f6f6f6" stroke="#f6f6f6" stroke-width="0.35"/><path d="M388.9,66.4L389.3,67.1M400.9,66.6L401.3,67.2" stroke="#b0b0b0" stroke-width="0.5"/><polygon points="284.1,65.2 284.6,65.8 296.6,65.9 296.1,65.3" fill="#f6f6f6" stroke="#f6f6f6" stroke-width="0.35"/><path d="M284.1,65.2L284.6,65.8M296.1,65.3L296.6,65.9" stroke="#b0b0b0" stroke-width="0.5"/><polygon points="292.9,85.9 293.3,86.5 305.3,86.8 304.9,86.2" fill="#c2c2c2" stroke="#c2c2c2" stroke-width="0.35"/><path d="M292.9,85.9L293.3,86.5M304.9,86.2L305.3,86.8" stroke="#b0b0b0" stroke-width="0.5"/><polygon points="397.7,88.3 398.1,89.0 410.1,89.3 409.7,88.6" fill="#c2c2c2" stroke="#c2c2c2" stroke-width="0.35"/><path d="M397.7,88.3L398.1,89.0M409.7,88.6L410.1,89.3" stroke="#b0b0b0" stroke-width="0.5"/><polygon points="415.2,66.9 415.6,67.6 427.6,67.7 427.2,67.1" fill="#f7f7f7" stroke="#f7f7f7" stroke-width="0.35"/><path d="M415.2,66.9L415.6,67.6M427.2,67.1L427.6,67.7" stroke="#b0b0b0" stroke-width="0.5"/><polygon points="310.4,65.6 310.9,66.3 322.9,66.4 322.4,65.8" fill="#f7f7f7" stroke="#f7f7f7" stroke-width="0.35"/><path d="M310.4,65.6L310.9,66.3M322.4,65.8L322.9,66.4" stroke="#b0b0b0" stroke-width="0.5"/><polygon points="266.6,85.2 267.0,85.8 279.0,86.1 278.6,85.5" fill="#c0c0c0" stroke="#c0c0c0" stroke-width="0.35"/><path d="M266.6,85.2L267.0,85.8M278.6,85.5L279.0,86.1" stroke="#b0b0b0" stroke-width="0.5"/><polygon points="371.4,87.6 371.8,88.2 383.8,88.5 383.4,87.8" fill="#bfbfbf" stroke="#bfbfbf" stroke-width="0.35"/><path d="M371.4,87.6L371.8,88.2M383.4,87.8L383.8,88.5" stroke="#b0b0b0" stroke-width="0.5"/><polygon points="441.5,67.4 441.9,68.1 453.9,68.2 453.5,67.5" fill="#f7f7f7" stroke="#f7f7f7" stroke-width="0.35"/><path d="M441.5,67.4L441.9,68.1M453.5,67.5L453.9,68.2" stroke="#b0b0b0" stroke-width="0.5"/><polygon points="336.7,66.1 337.2,66.8 349.2,66.9 348.7,66.3" fill="#f7f7f7" stroke="#f7f7f7" stroke-width="0.35"/><path d="M336.7,66.1L337.2,66.8M348.7,66.3L349.2,66.9" stroke="#b0b0b0" stroke-width="0.5"/><polygon points="345.1,86.8 345.5,87.5 357.5,87.7 357.1,87.1" fill="#bfbfbf" stroke="#bfbfbf" stroke-width="0.35"/><path d="M345.1,86.8L345.5,87.5M357.1,87.1L357.5,87.7" stroke="#b0b0b0" stroke-width="0.5"/><polygon points="449.9,89.2 450.3,89.9 462.3,90.2 461.9,89.4" fill="#c0c0c0" stroke="#c0c0c0" stroke-width="0.35"/><path d="M449.9,89.2L450.3,89.9M461.9,89.4L462.3,90.2" stroke="#b0b0b0" stroke-width="0.5"/><polygon points="467.8,67.9 468.2,68.6 480.2,68.7 479.8,68.0" fill="#f8f8f8" stroke="#f8f8f8" stroke-width="0.35"/><path d="M467.8,67.9L468.2,68.6M479.8,68.0L480.2,68.7" stroke="#b0b0b0" stroke-width="0.5"/><polygon points="363.0,66.6 363.5,67.3 375.5,67.4 375.0,66.7" fill="#f8f8f8" stroke="#f8f8f8" stroke-width="0.35"/><path d="M363.0,66.6L363.5,67.3M375.0,66.7L375.5,67.4" stroke="#b0b0b0" stroke-width="0.5"/><polygon points="258.3,65.3 258.7,66.0 270.7,66.1 270.3,65.4" fill="#f8f8f8" stroke="#f8f8f8" stroke-width="0.35"/><path d="M258.3,65.3L258.7,66.0M270.3,65.4L270.7,66.1" stroke="#b0b0b0" stroke-width="0.5"/><polygon points="318.8,86.0 319.2,86.7 331.2,87.0 330.8,86.3" fill="#c2c2c2" stroke="#c2c2c2" stroke-width="0.35"/><path d="M318.8,86.0L319.2,86.7M330.8,86.3L331.2,87.0" stroke="#b0b0b0" stroke-width="0.5"/><polygon points="423.6,88.4 424.0,89.1 436.0,89.4 435.6,88.7" fill="#c2c2c2" stroke="#c2c2c2" stroke-width="0.35"/><path d="M423.6,88.4L424.0,89.1M435.6,88.7L436.0,89.4" stroke="#b0b0b0" stroke-width="0.5"/><polygon points="389.3,67.1 389.8,67.8 401.8,68.0 401.3,67.2" fill="#f8f8f8" stroke="#f8f8f8" stroke-width="0.35"/><path d="M389.3,67.1L389.8,67.8M401.3,67.2L401.8,68.0" stroke="#b0b0b0" stroke-width="0.5"/><polygon points="284.6,65.8 285.0,66.5 297.0,66.6 296.6,65.9" fill="#f8f8f8" stroke="#f8f8f8" stroke-width="0.35"/><path d="M284.6,65.8L285.0,66.5M296.6,65.9L297.0,66.6" stroke="#b0b0b0" stroke-width="0.5"/><polygon points="292.5,85.2 292.9,85.9 304.9,86.2 304.5,85.5" fill="#c4c4c4" stroke="#c4c4c4" stroke-width="0.35"/><path d="M292.5,85.2L292.9,85.9M304.5,85.5L304.9,86.2" stroke="#b0b0b0" stroke-width="0.5"/><polygon points="397.3,87.6 397.7,88.3 409.7,88.6 409.3,87.9" fill="#c5c5c5" stroke="#c5c5c5" stroke-width="0.35"/><path d="M397.3,87.6L397.7,88.3M409.3,87.9L409.7,88.6" stroke="#b0b0b0" stroke-width="0.5"/><polygon points="415.6,67.6 416.1,68.3 428.1,68.5 427.6,67.7" fill="#f9f9f9" stroke="#f9f9f9" stroke-width="0.35"/><path d="M415.6,67.6L416.1,68.3M427.6,67.7L428.1,68.5" stroke="#b0b0b0" stroke-width="0.5"/><polygon points="310.9,66.3 311.3,67.0 323.3,67.2 322.9,66.4" fill="#f9f9f9" stroke="#f9f9f9" stroke-width="0.35"/><path d="M310.9,66.3L311.3,67.0M322.9,66.4L323.3,67.2" stroke="#b0b0b0" stroke-width="0.5"/><polygon points="266.2,84.5 266.6,85.2 278.6,85.5 278.2,84.7" fill="#c6c6c6" stroke="#c6c6c6" stroke-width="0.35"/><path d="M266.2,84.5L266.6,85.2M278.2,84.7L278.6,85.5" stroke="#b0b0b0" stroke-width="0.5"/><polygon points="371.0,86.8 371.4,87.6 383.4,87.8 383.0,87.1" fill="#c7c7c7" stroke="#c7c7c7" stroke-width="0.35"/><path d="M371.0,86.8L371.4,87.6M383.0,87.1L383.4,87.8" stroke="#b0b0b0" stroke-width="0.5"/><polygon points="441.9,68.1 442.4,68.9 454.4,69.0 453.9,68.2" fill="#f9f9f9" stroke="#f9f9f9" stroke-width="0.35"/><path d="M441.9,68.1L442.4,68.9M453.9,68.2L454.4,69.0" stroke="#b0b0b0" stroke-width="0.5"/><polygon points="337.2,66.8 337.6,67.5 349.6,67.7 349.2,66.9" fill="#f9f9f9" stroke="#f9f9f9" stroke-width="0.35"/><path d="M337.2,66.8L337.6,67.5M349.2,66.9L349.6,67.7" stroke="#b0b0b0" stroke-width="0.5"/><polygon points="344.7,86.0 345.1,86.8 357.1,87.1 356.7,86.3" fill="#c8c8c8" stroke="#c8c8c8" stroke-width="0.35"/><path d="M344.7,86.0L345.1,86.8M356.7,86.3L357.1,87.1" stroke="#b0b0b0" stroke-width="0.5"/><polygon points="449.5,88.4 449.9,89.2 461.9,89.4 461.5,88.6" fill="#c9c9c9" stroke="#c9c9c9" stroke-width="0.35"/><path d="M449.5,88.4L449.9,89.2M461.5,88.6L461.9,89.4" stroke="#b0b0b0" stroke-width="0.5"/><polygon points="468.2,68.6 468.7,69.4 480.7,69.6 480.2,68.7" fill="#f9f9f9" stroke="#f9f9f9" stroke-width="0.35"/><path d="M468.2,68.6L468.7,69.4M480.2,68.7L480.7,69.6" stroke="#b0b0b0" stroke-width="0.5"/><polygon points="363.5,67.3 363.9,68.1 375.9,68.2 375.5,67.4" fill="#f9f9f9" stroke="#f9f9f9" stroke-width="0.35"/><path d="M363.5,67.3L363.9,68.1M375.5,67.4L375.9,68.2" stroke="#b0b0b0" stroke-width="0.5"/><polygon points="258.7,66.0 259.1,66.7 271.1,66.9 270.7,66.1" fill="#fafafa" stroke="#fafafa" stroke-width="0.35"/><path d="M258.7,66.0L259.1,66.7M270.7,66.1L271.1,66.9" stroke="#b0b0b0" stroke-width="0.5"/><polygon points="318.4,85.2 318.8,86.0 330.8,86.3 330.4,85.5" fill="#cacaca" stroke="#cacaca" stroke-width="0.35"/><path d="M318.4,85.2L318.8,86.0M330.4,85.5L330.8,86.3" stroke="#b0b0b0" stroke-width="0.5"/><polygon points="423.2,87.6 423.6,88.4 435.6,88.7 435.2,87.8" fill="#cbcbcb" stroke="#cbcbcb" stroke-width="0.35"/><path d="M423.2,87.6L423.6,88.4M435.2,87.8L435.6,88.7" stroke="#b0b0b0" stroke-width="0.5"/><polygon points="389.8,67.8 390.2,68.6 402.2,68.8 401.8,68.0" fill="#fafafa" stroke="#fafafa" stroke-width="0.35"/><path d="M389.8,67.8L390.2,68.6M401.8,68.0L402.2,68.8" stroke="#b0b0b0" stroke-width="0.5"/><polygon points="285.0,66.5 285.4,67.3 297.4,67.4 297.0,66.6" fill="#fafafa" stroke="#fafafa" stroke-width="0.35"/><path d="M285.0,66.5L285.4,67.3M297.0,66.6L297.4,67.4" stroke="#b0b0b0" stroke-width="0.5"/><polygon points="292.1,84.4 292.5,85.2 304.5,85.5 304.1,84.7" fill="#cccccc" stroke="#cccccc" stroke-width="0.35"/><path d="M292.1,84.4L292.5,85.2M304.1,84.7L304.5,85.5" stroke="#b0b0b0" stroke-width="0.5"/><polygon points="396.9,86.8 397.3,87.6 409.3,87.9 408.9,87.0" fill="#cccccc" stroke="#cccccc" stroke-width="0.35"/><path d="M396.9,86.8L397.3,87.6M408.9,87.0L409.3,87.9" stroke="#b0b0b0" stroke-width="0.5"/><polygon points="416.1,68.3 416.5,69.2 428.5,69.4 428.1,68.5" fill="#fafafa" stroke="#fafafa" stroke-width="0.35"/><path d="M416.1,68.3L416.5,69.2M428.1,68.5L428.5,69.4" stroke="#b0b0b0" stroke-width="0.5"/><polygon points="311.3,67.0 311.7,67.8 323.7,68.0 323.3,67.2" fill="#fafafa" stroke="#fafafa" stroke-width="0.35"/><path d="M311.3,67.0L311.7,67.8M323.3,67.2L323.7,68.0" stroke="#b0b0b0" stroke-width="0.5"/><polygon points="265.8,83.7 266.2,84.5 278.2,84.7 277.8,83.9" fill="#cecece" stroke="#cecece" stroke-width="0.35"/><path d="M265.8,83.7L266.2,84.5M277.8,83.9L278.2,84.7" stroke="#b0b0b0" stroke-width="0.5"/><polygon points="370.6,86.0 371.0,86.8 383.0,87.1 382.6,86.2" fill="#cecece" stroke="#cecece" stroke-width="0.35"/><path d="M370.6,86.0L371.0,86.8M382.6,86.2L383.0,87.1" stroke="#b0b0b0" stroke-width="0.5"/><polygon points="442.4,68.9 442.8,69.8 454.8,69.9 454.4,69.0" fill="#fbfbfb" stroke="#fbfbfb" stroke-width="0.35"/><path d="M442.4,68.9L442.8,69.8M454.4,69.0L454.8,69.9" stroke="#b0b0b0" stroke-width="0.5"/><polygon points="337.6,67.5 338.0,68.4 350.0,68.5 349.6,67.7" fill="#fbfbfb" stroke="#fbfbfb" stroke-width="0.35"/><path d="M337.6,67.5L338.0,68.4M349.6,67.7L350.0,68.5" stroke="#b0b0b0" stroke-width="0.5"/><polygon points="344.3,85.2 344.7,86.0 356.7,86.3 356.3,85.4" fill="#d0d0d0" stroke="#d0d0d0" stroke-width="0.35"/><path d="M344.3,85.2L344.7,86.0M356.3,85.4L356.7,86.3" stroke="#b0b0b0" stroke-width="0.5"/><polygon points="449.0,87.4 449.5,88.4 461.5,88.6 461.0,87.7" fill="#d0d0d0" stroke="#d0d0d0" stroke-width="0.35"/><path d="M449.0,87.4L449.5,88.4M461.0,87.7L461.5,88.6" stroke="#b0b0b0" stroke-width="0.5"/><polygon points="468.7,69.4 469.1,70.4 481.1,70.5 480.7,69.6" fill="#fbfbfb" stroke="#fbfbfb" stroke-width="0.35"/><path d="M468.7,69.4L469.1,70.4M480.7,69.6L481.1,70.5" stroke="#b0b0b0" stroke-width="0.5"/><polygon points="363.9,68.1 364.3,69.0 376.3,69.1 375.9,68.2" fill="#fbfbfb" stroke="#fbfbfb" stroke-width="0.35"/><path d="M363.9,68.1L364.3,69.0M375.9,68.2L376.3,69.1" stroke="#b0b0b0" stroke-width="0.5"/><polygon points="259.1,66.7 259.5,67.6 271.5,67.7 271.1,66.9" fill="#fbfbfb" stroke="#fbfbfb" stroke-width="0.35"/><path d="M259.1,66.7L259.5,67.6M271.1,66.9L271.5,67.7" stroke="#b0b0b0" stroke-width="0.5"/><polygon points="318.0,84.4 318.4,85.2 330.4,85.5 330.0,84.6" fill="#d1d1d1" stroke="#d1d1d1" stroke-width="0.35"/><path d="M318.0,84.4L318.4,85.2M330.0,84.6L330.4,85.5" stroke="#b0b0b0" stroke-width="0.5"/><polygon points="422.7,86.6 423.2,87.6 435.2,87.8 434.7,86.9" fill="#d1d1d1" stroke="#d1d1d1" stroke-width="0.35"/><path d="M422.7,86.6L423.2,87.6M434.7,86.9L435.2,87.8" stroke="#b0b0b0" stroke-width="0.5"/><polygon points="390.2,68.6 390.6,69.5 402.6,69.7 402.2,68.8" fill="#fbfbfb" stroke="#fbfbfb" stroke-width="0.35"/><path d="M390.2,68.6L390.6,69.5M402.2,68.8L402.6,69.7" stroke="#b0b0b0" stroke-width="0.5"/><polygon points="285.4,67.3 285.8,68.1 297.8,68.3 297.4,67.4" fill="#fbfbfb" stroke="#fbfbfb" stroke-width="0.35"/><path d="M285.4,67.3L285.8,68.1M297.4,67.4L297.8,68.3" stroke="#b0b0b0" stroke-width="0.5"/><polygon points="291.7,83.6 292.1,84.4 304.1,84.7 303.7,83.8" fill="#d3d3d3" stroke="#d3d3d3" stroke-width="0.35"/><path d="M291.7,83.6L292.1,84.4M303.7,83.8L304.1,84.7" stroke="#b0b0b0" stroke-width="0.5"/><polygon points="396.4,85.8 396.9,86.8 408.9,87.0 408.4,86.1" fill="#d3d3d3" stroke="#d3d3d3" stroke-width="0.35"/><path d="M396.4,85.8L396.9,86.8M408.4,86.1L408.9,87.0" stroke="#b0b0b0" stroke-width="0.5"/><polygon points="416.5,69.2 416.9,70.1 428.9,70.3 428.5,69.4" fill="#fbfbfb" stroke="#fbfbfb" stroke-width="0.35"/><path d="M416.5,69.2L416.9,70.1M428.5,69.4L428.9,70.3" stroke="#b0b0b0" stroke-width="0.5"/><polygon points="311.7,67.8 312.1,68.7 324.1,68.9 323.7,68.0" fill="#fbfbfb" stroke="#fbfbfb" stroke-width="0.35"/><path d="M311.7,67.8L312.1,68.7M323.7,68.0L324.1,68.9" stroke="#b0b0b0" stroke-width="0.5"/><polygon points="265.3,82.8 265.8,83.7 277.8,83.9 277.3,83.0" fill="#d4d4d4" stroke="#d4d4d4" stroke-width="0.35"/><path d="M265.3,82.8L265.8,83.7M277.3,83.0L277.8,83.9" stroke="#b0b0b0" stroke-width="0.5"/><polygon points="370.1,85.0 370.6,86.0 382.6,86.2 382.1,85.3" fill="#d4d4d4" stroke="#d4d4d4" stroke-width="0.35"/><path d="M370.1,85.0L370.6,86.0M382.1,85.3L382.6,86.2" stroke="#b0b0b0" stroke-width="0.5"/><polygon points="442.8,69.8 443.2,70.7 455.2,70.9 454.8,69.9" fill="#fbfbfb" stroke="#fbfbfb" stroke-width="0.35"/><path d="M442.8,69.8L443.2,70.7M454.8,69.9L455.2,70.9" stroke="#b0b0b0" stroke-width="0.5"/><polygon points="338.0,68.4 338.4,69.3 350.4,69.5 350.0,68.5" fill="#fcfcfc" stroke="#fcfcfc" stroke-width="0.35"/><path d="M338.0,68.4L338.4,69.3M350.0,68.5L350.4,69.5" stroke="#b0b0b0" stroke-width="0.5"/><polygon points="343.8,84.2 344.3,85.2 356.3,85.4 355.8,84.5" fill="#d6d6d6" stroke="#d6d6d6" stroke-width="0.35"/><path d="M343.8,84.2L344.3,85.2M355.8,84.5L356.3,85.4" stroke="#b0b0b0" stroke-width="0.5"/><polygon points="448.6,86.4 449.0,87.4 461.0,87.7 460.6,86.7" fill="#d6d6d6" stroke="#d6d6d6" stroke-width="0.35"/><path d="M448.6,86.4L449.0,87.4M460.6,86.7L461.0,87.7" stroke="#b0b0b0" stroke-width="0.5"/><polygon points="469.1,70.4 469.5,71.4 481.5,71.5 481.1,70.5" fill="#fcfcfc" stroke="#fcfcfc" stroke-width="0.35"/><path d="M469.1,70.4L469.5,71.4M481.1,70.5L481.5,71.5" stroke="#b0b0b0" stroke-width="0.5"/><polygon points="364.3,69.0 364.7,69.9 376.7,70.1 376.3,69.1" fill="#fcfcfc" stroke="#fcfcfc" stroke-width="0.35"/><path d="M364.3,69.0L364.7,69.9M376.3,69.1L376.7,70.1" stroke="#b0b0b0" stroke-width="0.5"/><polygon points="259.5,67.6 259.9,68.5 271.9,68.6 271.5,67.7" fill="#fcfcfc" stroke="#fcfcfc" stroke-width="0.35"/><path d="M259.5,67.6L259.9,68.5M271.5,67.7L271.9,68.6" stroke="#b0b0b0" stroke-width="0.5"/><polygon points="317.5,83.4 318.0,84.4 330.0,84.6 329.5,83.7" fill="#d7d7d7" stroke="#d7d7d7" stroke-width="0.35"/><path d="M317.5,83.4L318.0,84.4M329.5,83.7L330.0,84.6" stroke="#b0b0b0" stroke-width="0.5"/><polygon points="422.3,85.6 422.7,86.6 434.7,86.9 434.3,85.9" fill="#d8d8d8" stroke="#d8d8d8" stroke-width="0.35"/><path d="M422.3,85.6L422.7,86.6M434.3,85.9L434.7,86.9" stroke="#b0b0b0" stroke-width="0.5"/><polygon points="390.6,69.5 391.0,70.5 403.0,70.7 402.6,69.7" fill="#fcfcfc" stroke="#fcfcfc" stroke-width="0.35"/><path d="M390.6,69.5L391.0,70.5M402.6,69.7L403.0,70.7" stroke="#b0b0b0" stroke-width="0.5"/><polygon points="285.8,68.1 286.2,69.1 298.2,69.3 297.8,68.3" fill="#fcfcfc" stroke="#fcfcfc" stroke-width="0.35"/><path d="M285.8,68.1L286.2,69.1M297.8,68.3L298.2,69.3" stroke="#b0b0b0" stroke-width="0.5"/><polygon points="291.2,82.6 291.7,83.6 303.7,83.8 303.2,82.9" fill="#d9d9d9" stroke="#d9d9d9" stroke-width="0.35"/><path d="M291.2,82.6L291.7,83.6M303.2,82.9L303.7,83.8" stroke="#b0b0b0" stroke-width="0.5"/><polygon points="396.0,84.8 396.4,85.8 408.4,86.1 408.0,85.1" fill="#d9d9d9" stroke="#d9d9d9" stroke-width="0.35"/><path d="M396.0,84.8L396.4,85.8M408.0,85.1L408.4,86.1" stroke="#b0b0b0" stroke-width="0.5"/><polygon points="416.9,70.1 417.3,71.2 429.3,71.3 428.9,70.3" fill="#fcfcfc" stroke="#fcfcfc" stroke-width="0.35"/><path d="M416.9,70.1L417.3,71.2M428.9,70.3L429.3,71.3" stroke="#b0b0b0" stroke-width="0.5"/><polygon points="312.1,68.7 312.5,69.7 324.5,69.9 324.1,68.9" fill="#fcfcfc" stroke="#fcfcfc" stroke-width="0.35"/><path d="M312.1,68.7L312.5,69.7M324.1,68.9L324.5,69.9" stroke="#b0b0b0" stroke-width="0.5"/><polygon points="264.9,81.8 265.3,82.8 277.3,83.0 276.9,82.1" fill="#dadada" stroke="#dadada" stroke-width="0.35"/><path d="M264.9,81.8L265.3,82.8M276.9,82.1L277.3,83.0" stroke="#b0b0b0" stroke-width="0.5"/><polygon points="369.7,84.0 370.1,85.0 382.1,85.3 381.7,84.3" fill="#dadada" stroke="#dadada" stroke-width="0.35"/><path d="M369.7,84.0L370.1,85.0M381.7,84.3L382.1,85.3" stroke="#b0b0b0" stroke-width="0.5"/><polygon points="443.2,70.7 443.6,71.8 455.6,72.0 455.2,70.9" fill="#fcfcfc" stroke="#fcfcfc" stroke-width="0.35"/><path d="M443.2,70.7L443.6,71.8M455.2,70.9L455.6,72.0" stroke="#b0b0b0" stroke-width="0.5"/><polygon points="338.4,69.3 338.8,70.3 350.8,70.5 350.4,69.5" fill="#fcfcfc" stroke="#fcfcfc" stroke-width="0.35"/><path d="M338.4,69.3L338.8,70.3M350.4,69.5L350.8,70.5" stroke="#b0b0b0" stroke-width="0.5"/><polygon points="343.4,83.2 343.8,84.2 355.8,84.5 355.4,83.4" fill="#dcdcdc" stroke="#dcdcdc" stroke-width="0.35"/><path d="M343.4,83.2L343.8,84.2M355.4,83.4L355.8,84.5" stroke="#b0b0b0" stroke-width="0.5"/><polygon points="448.2,85.4 448.6,86.4 460.6,86.7 460.2,85.6" fill="#dcdcdc" stroke="#dcdcdc" stroke-width="0.35"/><path d="M448.2,85.4L448.6,86.4M460.2,85.6L460.6,86.7" stroke="#b0b0b0" stroke-width="0.5"/><polygon points="469.5,71.4 469.9,72.5 481.9,72.6 481.5,71.5" fill="#fcfcfc" stroke="#fcfcfc" stroke-width="0.35"/><path d="M469.5,71.4L469.9,72.5M481.5,71.5L481.9,72.6" stroke="#b0b0b0" stroke-width="0.5"/><polygon points="364.7,69.9 365.1,71.0 377.1,71.1 376.7,70.1" fill="#fcfcfc" stroke="#fcfcfc" stroke-width="0.35"/><path d="M364.7,69.9L365.1,71.0M376.7,70.1L377.1,71.1" stroke="#b0b0b0" stroke-width="0.5"/><polygon points="259.9,68.5 260.3,69.5 272.3,69.6 271.9,68.6" fill="#fcfcfc" stroke="#fcfcfc" stroke-width="0.35"/><path d="M259.9,68.5L260.3,69.5M271.9,68.6L272.3,69.6" stroke="#b0b0b0" stroke-width="0.5"/><polygon points="317.1,82.4 317.5,83.4 329.5,83.7 329.1,82.6" fill="#dddddd" stroke="#dddddd" stroke-width="0.35"/><path d="M317.1,82.4L317.5,83.4M329.1,82.6L329.5,83.7" stroke="#b0b0b0" stroke-width="0.5"/><polygon points="421.9,84.5 422.3,85.6 434.3,85.9 433.9,84.8" fill="#dddddd" stroke="#dddddd" stroke-width="0.35"/><path d="M421.9,84.5L422.3,85.6M433.9,84.8L434.3,85.9" stroke="#b0b0b0" stroke-width="0.5"/><polygon points="391.0,70.5 391.4,71.6 403.4,71.8 403.0,70.7" fill="#fcfcfc" stroke="#fcfcfc" stroke-width="0.35"/><path d="M391.0,70.5L391.4,71.6M403.0,70.7L403.4,71.8" stroke="#b0b0b0" stroke-width="0.5"/><polygon points="286.2,69.1 286.6,70.1 298.6,70.3 298.2,69.3" fill="#fcfcfc" stroke="#fcfcfc" stroke-width="0.35"/><path d="M286.2,69.1L286.6,70.1M298.2,69.3L298.6,70.3" stroke="#b0b0b0" stroke-width="0.5"/><polygon points="290.8,81.6 291.2,82.6 303.2,82.9 302.8,81.8" fill="#dedede" stroke="#dedede" stroke-width="0.35"/><path d="M290.8,81.6L291.2,82.6M302.8,81.8L303.2,82.9" stroke="#b0b0b0" stroke-width="0.5"/><polygon points="395.6,83.7 396.0,84.8 408.0,85.1 407.6,84.0" fill="#dedede" stroke="#dedede" stroke-width="0.35"/><path d="M395.6,83.7L396.0,84.8M407.6,84.0L408.0,85.1" stroke="#b0b0b0" stroke-width="0.5"/><polygon points="417.3,71.2 417.7,72.3 429.7,72.5 429.3,71.3" fill="#fcfcfc" stroke="#fcfcfc" stroke-width="0.35"/><path d="M417.3,71.2L417.7,72.3M429.3,71.3L429.7,72.5" stroke="#b0b0b0" stroke-width="0.5"/><polygon points="312.5,69.7 312.9,70.7 324.9,70.9 324.5,69.9" fill="#fcfcfc" stroke="#fcfcfc" stroke-width="0.35"/><path d="M312.5,69.7L312.9,70.7M324.5,69.9L324.9,70.9" stroke="#b0b0b0" stroke-width="0.5"/><polygon points="264.5,80.8 264.9,81.8 276.9,82.1 276.5,81.0" fill="#e0e0e0" stroke="#e0e0e0" stroke-width="0.35"/><path d="M264.5,80.8L264.9,81.8M276.5,81.0L276.9,82.1" stroke="#b0b0b0" stroke-width="0.5"/><polygon points="369.3,82.9 369.7,84.0 381.7,84.3 381.3,83.2" fill="#e0e0e0" stroke="#e0e0e0" stroke-width="0.35"/><path d="M369.3,82.9L369.7,84.0M381.3,83.2L381.7,84.3" stroke="#b0b0b0" stroke-width="0.5"/><polygon points="443.6,71.8 444.0,72.9 456.0,73.1 455.6,72.0" fill="#fcfcfc" stroke="#fcfcfc" stroke-width="0.35"/><path d="M443.6,71.8L444.0,72.9M455.6,72.0L456.0,73.1" stroke="#b0b0b0" stroke-width="0.5"/><polygon points="338.8,70.3 339.2,71.4 351.2,71.6 350.8,70.5" fill="#fcfcfc" stroke="#fcfcfc" stroke-width="0.35"/><path d="M338.8,70.3L339.2,71.4M350.8,70.5L351.2,71.6" stroke="#b0b0b0" stroke-width="0.5"/><polygon points="343.0,82.1 343.4,83.2 355.4,83.4 355.0,82.4" fill="#e1e1e1" stroke="#e1e1e1" stroke-width="0.35"/><path d="M343.0,82.1L343.4,83.2M355.0,82.4L355.4,83.4" stroke="#b0b0b0" stroke-width="0.5"/><polygon points="447.8,84.2 448.2,85.4 460.2,85.6 459.8,84.5" fill="#e1e1e1" stroke="#e1e1e1" stroke-width="0.35"/><path d="M447.8,84.2L448.2,85.4M459.8,84.5L460.2,85.6" stroke="#b0b0b0" stroke-width="0.5"/><polygon points="469.9,72.5 470.3,73.6 482.3,73.8 481.9,72.6" fill="#fcfcfc" stroke="#fcfcfc" stroke-width="0.35"/><path d="M469.9,72.5L470.3,73.6M481.9,72.6L482.3,73.8" stroke="#b0b0b0" stroke-width="0.5"/><polygon points="365.1,71.0 365.5,72.1 377.5,72.3 377.1,71.1" fill="#fcfcfc" stroke="#fcfcfc" stroke-width="0.35"/><path d="M365.1,71.0L365.5,72.1M377.1,71.1L377.5,72.3" stroke="#b0b0b0" stroke-width="0.5"/><polygon points="260.3,69.5 260.8,70.5 272.8,70.7 272.3,69.6" fill="#fcfcfc" stroke="#fcfcfc" stroke-width="0.35"/><path d="M260.3,69.5L260.8,70.5M272.3,69.6L272.8,70.7" stroke="#b0b0b0" stroke-width="0.5"/><polygon points="316.7,81.3 317.1,82.4 329.1,82.6 328.7,81.6" fill="#e2e2e2" stroke="#e2e2e2" stroke-width="0.35"/><path d="M316.7,81.3L317.1,82.4M328.7,81.6L329.1,82.6" stroke="#b0b0b0" stroke-width="0.5"/><polygon points="421.5,83.4 421.9,84.5 433.9,84.8 433.5,83.6" fill="#e2e2e2" stroke="#e2e2e2" stroke-width="0.35"/><path d="M421.5,83.4L421.9,84.5M433.5,83.6L433.9,84.8" stroke="#b0b0b0" stroke-width="0.5"/><polygon points="391.4,71.6 391.8,72.7 403.8,72.9 403.4,71.8" fill="#fcfcfc" stroke="#fcfcfc" stroke-width="0.35"/><path d="M391.4,71.6L391.8,72.7M403.4,71.8L403.8,72.9" stroke="#b0b0b0" stroke-width="0.5"/><polygon points="286.6,70.1 287.1,71.2 299.1,71.4 298.6,70.3" fill="#fcfcfc" stroke="#fcfcfc" stroke-width="0.35"/><path d="M286.6,70.1L287.1,71.2M298.6,70.3L299.1,71.4" stroke="#b0b0b0" stroke-width="0.5"/><polygon points="290.4,80.5 290.8,81.6 302.8,81.8 302.4,80.7" fill="#e3e3e3" stroke="#e3e3e3" stroke-width="0.35"/><path d="M290.4,80.5L290.8,81.6M302.4,80.7L302.8,81.8" stroke="#b0b0b0" stroke-width="0.5"/><polygon points="395.2,82.6 395.6,83.7 407.6,84.0 407.2,82.8" fill="#e3e3e3" stroke="#e3e3e3" stroke-width="0.35"/><path d="M395.2,82.6L395.6,83.7M407.2,82.8L407.6,84.0" stroke="#b0b0b0" stroke-width="0.5"/><polygon points="417.7,72.3 418.1,73.4 430.1,73.6 429.7,72.5" fill="#fcfcfc" stroke="#fcfcfc" stroke-width="0.35"/><path d="M417.7,72.3L418.1,73.4M429.7,72.5L430.1,73.6" stroke="#b0b0b0" stroke-width="0.5"/><polygon points="312.9,70.7 313.4,71.9 325.4,72.0 324.9,70.9" fill="#fcfcfc" stroke="#fcfcfc" stroke-width="0.35"/><path d="M312.9,70.7L313.4,71.9M324.9,70.9L325.4,72.0" stroke="#b0b0b0" stroke-width="0.5"/><polygon points="264.1,79.7 264.5,80.8 276.5,81.0 276.1,80.0" fill="#e4e4e4" stroke="#e4e4e4" stroke-width="0.35"/><path d="M264.1,79.7L264.5,80.8M276.1,80.0L276.5,81.0" stroke="#b0b0b0" stroke-width="0.5"/><polygon points="368.9,81.8 369.3,82.9 381.3,83.2 380.9,82.0" fill="#e5e5e5" stroke="#e5e5e5" stroke-width="0.35"/><path d="M368.9,81.8L369.3,82.9M380.9,82.0L381.3,83.2" stroke="#b0b0b0" stroke-width="0.5"/><polygon points="444.0,72.9 444.4,74.1 456.4,74.3 456.0,73.1" fill="#fbfbfb" stroke="#fbfbfb" stroke-width="0.35"/><path d="M444.0,72.9L444.4,74.1M456.0,73.1L456.4,74.3" stroke="#b0b0b0" stroke-width="0.5"/><polygon points="339.2,71.4 339.7,72.5 351.7,72.7 351.2,71.6" fill="#fbfbfb" stroke="#fbfbfb" stroke-width="0.35"/><path d="M339.2,71.4L339.7,72.5M351.2,71.6L351.7,72.7" stroke="#b0b0b0" stroke-width="0.5"/><polygon points="342.6,81.0 343.0,82.1 355.0,82.4 354.6,81.2" fill="#e6e6e6" stroke="#e6e6e6" stroke-width="0.35"/><path d="M342.6,81.0L343.0,82.1M354.6,81.2L355.0,82.4" stroke="#b0b0b0" stroke-width="0.5"/><polygon points="447.4,83.0 447.8,84.2 459.8,84.5 459.4,83.3" fill="#e6e6e6" stroke="#e6e6e6" stroke-width="0.35"/><path d="M447.4,83.0L447.8,84.2M459.4,83.3L459.8,84.5" stroke="#b0b0b0" stroke-width="0.5"/><polygon points="470.3,73.6 470.7,74.8 482.7,75.0 482.3,73.8" fill="#fbfbfb" stroke="#fbfbfb" stroke-width="0.35"/><path d="M470.3,73.6L470.7,74.8M482.3,73.8L482.7,75.0" stroke="#b0b0b0" stroke-width="0.5"/><polygon points="365.5,72.1 366.0,73.2 378.0,73.4 377.5,72.3" fill="#fbfbfb" stroke="#fbfbfb" stroke-width="0.35"/><path d="M365.5,72.1L366.0,73.2M377.5,72.3L378.0,73.4" stroke="#b0b0b0" stroke-width="0.5"/><polygon points="260.8,70.5 261.2,71.6 273.2,71.8 272.8,70.7" fill="#fbfbfb" stroke="#fbfbfb" stroke-width="0.35"/><path d="M260.8,70.5L261.2,71.6M272.8,70.7L273.2,71.8" stroke="#b0b0b0" stroke-width="0.5"/><polygon points="316.3,80.2 316.7,81.3 328.7,81.6 328.3,80.4" fill="#e7e7e7" stroke="#e7e7e7" stroke-width="0.35"/><path d="M316.3,80.2L316.7,81.3M328.3,80.4L328.7,81.6" stroke="#b0b0b0" stroke-width="0.5"/><polygon points="421.1,82.2 421.5,83.4 433.5,83.6 433.1,82.4" fill="#e7e7e7" stroke="#e7e7e7" stroke-width="0.35"/><path d="M421.1,82.2L421.5,83.4M433.1,82.4L433.5,83.6" stroke="#b0b0b0" stroke-width="0.5"/><polygon points="391.8,72.7 392.3,73.9 404.3,74.1 403.8,72.9" fill="#fbfbfb" stroke="#fbfbfb" stroke-width="0.35"/><path d="M391.8,72.7L392.3,73.9M403.8,72.9L404.3,74.1" stroke="#b0b0b0" stroke-width="0.5"/><polygon points="287.1,71.2 287.5,72.3 299.5,72.5 299.1,71.4" fill="#fbfbfb" stroke="#fbfbfb" stroke-width="0.35"/><path d="M287.1,71.2L287.5,72.3M299.1,71.4L299.5,72.5" stroke="#b0b0b0" stroke-width="0.5"/><polygon points="290.0,79.4 290.4,80.5 302.4,80.7 302.0,79.6" fill="#e8e8e8" stroke="#e8e8e8" stroke-width="0.35"/><path d="M290.0,79.4L290.4,80.5M302.0,79.6L302.4,80.7" stroke="#b0b0b0" stroke-width="0.5"/><polygon points="394.8,81.4 395.2,82.6 407.2,82.8 406.8,81.6" fill="#e8e8e8" stroke="#e8e8e8" stroke-width="0.35"/><path d="M394.8,81.4L395.2,82.6M406.8,81.6L407.2,82.8" stroke="#b0b0b0" stroke-width="0.5"/><polygon points="418.1,73.4 418.6,74.6 430.6,74.8 430.1,73.6" fill="#fbfbfb" stroke="#fbfbfb" stroke-width="0.35"/><path d="M418.1,73.4L418.6,74.6M430.1,73.6L430.6,74.8" stroke="#b0b0b0" stroke-width="0.5"/><polygon points="313.4,71.9 313.8,73.0 325.8,73.2 325.4,72.0" fill="#fbfbfb" stroke="#fbfbfb" stroke-width="0.35"/><path d="M313.4,71.9L313.8,73.0M325.4,72.0L325.8,73.2" stroke="#b0b0b0" stroke-width="0.5"/><polygon points="263.7,78.6 264.1,79.7 276.1,80.0 275.7,78.8" fill="#e9e9e9" stroke="#e9e9e9" stroke-width="0.35"/><path d="M263.7,78.6L264.1,79.7M275.7,78.8L276.1,80.0" stroke="#b0b0b0" stroke-width="0.5"/><polygon points="368.5,80.6 368.9,81.8 380.9,82.0 380.5,80.8" fill="#e9e9e9" stroke="#e9e9e9" stroke-width="0.35"/><path d="M368.5,80.6L368.9,81.8M380.5,80.8L380.9,82.0" stroke="#b0b0b0" stroke-width="0.5"/><polygon points="444.4,74.1 444.9,75.4 456.9,75.6 456.4,74.3" fill="#fafafa" stroke="#fafafa" stroke-width="0.35"/><path d="M444.4,74.1L444.9,75.4M456.4,74.3L456.9,75.6" stroke="#b0b0b0" stroke-width="0.5"/><polygon points="339.7,72.5 340.1,73.7 352.1,73.9 351.7,72.7" fill="#fafafa" stroke="#fafafa" stroke-width="0.35"/><path d="M339.7,72.5L340.1,73.7M351.7,72.7L352.1,73.9" stroke="#b0b0b0" stroke-width="0.5"/><polygon points="342.2,79.8 342.6,81.0 354.6,81.2 354.2,80.0" fill="#eaeaea" stroke="#eaeaea" stroke-width="0.35"/><path d="M342.2,79.8L342.6,81.0M354.2,80.0L354.6,81.2" stroke="#b0b0b0" stroke-width="0.5"/><polygon points="447.0,81.8 447.4,83.0 459.4,83.3 459.0,82.0" fill="#eaeaea" stroke="#eaeaea" stroke-width="0.35"/><path d="M447.0,81.8L447.4,83.0M459.0,82.0L459.4,83.3" stroke="#b0b0b0" stroke-width="0.5"/><polygon points="470.7,74.8 471.2,76.1 483.2,76.3 482.7,75.0" fill="#fafafa" stroke="#fafafa" stroke-width="0.35"/><path d="M470.7,74.8L471.2,76.1M482.7,75.0L483.2,76.3" stroke="#b0b0b0" stroke-width="0.5"/><polygon points="366.0,73.2 366.4,74.4 378.4,74.6 378.0,73.4" fill="#fafafa" stroke="#fafafa" stroke-width="0.35"/><path d="M366.0,73.2L366.4,74.4M378.0,73.4L378.4,74.6" stroke="#b0b0b0" stroke-width="0.5"/><polygon points="261.2,71.6 261.6,72.7 273.6,72.9 273.2,71.8" fill="#fafafa" stroke="#fafafa" stroke-width="0.35"/><path d="M261.2,71.6L261.6,72.7M273.2,71.8L273.6,72.9" stroke="#b0b0b0" stroke-width="0.5"/><polygon points="315.9,79.0 316.3,80.2 328.3,80.4 327.9,79.2" fill="#ebebeb" stroke="#ebebeb" stroke-width="0.35"/><path d="M315.9,79.0L316.3,80.2M327.9,79.2L328.3,80.4" stroke="#b0b0b0" stroke-width="0.5"/><polygon points="420.7,81.0 421.1,82.2 433.1,82.4 432.7,81.2" fill="#ebebeb" stroke="#ebebeb" stroke-width="0.35"/><path d="M420.7,81.0L421.1,82.2M432.7,81.2L433.1,82.4" stroke="#b0b0b0" stroke-width="0.5"/><polygon points="392.3,73.9 392.7,75.2 404.7,75.4 404.3,74.1" fill="#fafafa" stroke="#fafafa" stroke-width="0.35"/><path d="M392.3,73.9L392.7,75.2M404.3,74.1L404.7,75.4" stroke="#b0b0b0" stroke-width="0.5"/><polygon points="287.5,72.3 287.9,73.5 299.9,73.7 299.5,72.5" fill="#fafafa" stroke="#fafafa" stroke-width="0.35"/><path d="M287.5,72.3L287.9,73.5M299.5,72.5L299.9,73.7" stroke="#b0b0b0" stroke-width="0.5"/><polygon points="289.6,78.2 290.0,79.4 302.0,79.6 301.6,78.4" fill="#ececec" stroke="#ececec" stroke-width="0.35"/><path d="M289.6,78.2L290.0,79.4M301.6,78.4L302.0,79.6" stroke="#b0b0b0" stroke-width="0.5"/><polygon points="394.3,80.2 394.8,81.4 406.8,81.6 406.3,80.4" fill="#ececec" stroke="#ececec" stroke-width="0.35"/><path d="M394.3,80.2L394.8,81.4M406.3,80.4L406.8,81.6" stroke="#b0b0b0" stroke-width="0.5"/><polygon points="418.6,74.6 419.0,75.9 431.0,76.1 430.6,74.8" fill="#f9f9f9" stroke="#f9f9f9" stroke-width="0.35"/><path d="M418.6,74.6L419.0,75.9M430.6,74.8L431.0,76.1" stroke="#b0b0b0" stroke-width="0.5"/><polygon points="313.8,73.0 314.2,74.2 326.2,74.4 325.8,73.2" fill="#f9f9f9" stroke="#f9f9f9" stroke-width="0.35"/><path d="M313.8,73.0L314.2,74.2M325.8,73.2L326.2,74.4" stroke="#b0b0b0" stroke-width="0.5"/><polygon points="263.3,77.4 263.7,78.6 275.7,78.8 275.3,77.7" fill="#ededed" stroke="#ededed" stroke-width="0.35"/><path d="M263.3,77.4L263.7,78.6M275.3,77.7L275.7,78.8" stroke="#b0b0b0" stroke-width="0.5"/><polygon points="368.0,79.4 368.5,80.6 380.5,80.8 380.0,79.6" fill="#ededed" stroke="#ededed" stroke-width="0.35"/><path d="M368.0,79.4L368.5,80.6M380.0,79.6L380.5,80.8" stroke="#b0b0b0" stroke-width="0.5"/><polygon points="444.9,75.4 445.3,76.6 457.3,76.8 456.9,75.6" fill="#f9f9f9" stroke="#f9f9f9" stroke-width="0.35"/><path d="M444.9,75.4L445.3,76.6M456.9,75.6L457.3,76.8" stroke="#b0b0b0" stroke-width="0.5"/><polygon points="340.1,73.7 340.5,74.9 352.5,75.1 352.1,73.9" fill="#f9f9f9" stroke="#f9f9f9" stroke-width="0.35"/><path d="M340.1,73.7L340.5,74.9M352.1,73.9L352.5,75.1" stroke="#b0b0b0" stroke-width="0.5"/><polygon points="341.7,78.6 342.2,79.8 354.2,80.0 353.7,78.8" fill="#eeeeee" stroke="#eeeeee" stroke-width="0.35"/><path d="M341.7,78.6L342.2,79.8M353.7,78.8L354.2,80.0" stroke="#b0b0b0" stroke-width="0.5"/><polygon points="446.5,80.5 447.0,81.8 459.0,82.0 458.5,80.7" fill="#eeeeee" stroke="#eeeeee" stroke-width="0.35"/><path d="M446.5,80.5L447.0,81.8M458.5,80.7L459.0,82.0" stroke="#b0b0b0" stroke-width="0.5"/><polygon points="471.2,76.1 471.6,77.4 483.6,77.6 483.2,76.3" fill="#f9f9f9" stroke="#f9f9f9" stroke-width="0.35"/><path d="M471.2,76.1L471.6,77.4M483.2,76.3L483.6,77.6" stroke="#b0b0b0" stroke-width="0.5"/><polygon points="366.4,74.4 366.8,75.7 378.8,75.9 378.4,74.6" fill="#f8f8f8" stroke="#f8f8f8" stroke-width="0.35"/><path d="M366.4,74.4L366.8,75.7M378.4,74.6L378.8,75.9" stroke="#b0b0b0" stroke-width="0.5"/><polygon points="261.6,72.7 262.0,73.9 274.0,74.1 273.6,72.9" fill="#f8f8f8" stroke="#f8f8f8" stroke-width="0.35"/><path d="M261.6,72.7L262.0,73.9M273.6,72.9L274.0,74.1" stroke="#b0b0b0" stroke-width="0.5"/><polygon points="315.4,77.8 315.9,79.0 327.9,79.2 327.4,78.0" fill="#efefef" stroke="#efefef" stroke-width="0.35"/><path d="M315.4,77.8L315.9,79.0M327.4,78.0L327.9,79.2" stroke="#b0b0b0" stroke-width="0.5"/><polygon points="420.2,79.7 420.7,81.0 432.7,81.2 432.2,79.9" fill="#efefef" stroke="#efefef" stroke-width="0.35"/><path d="M420.2,79.7L420.7,81.0M432.2,79.9L432.7,81.2" stroke="#b0b0b0" stroke-width="0.5"/><polygon points="392.7,75.2 393.1,76.4 405.1,76.6 404.7,75.4" fill="#f8f8f8" stroke="#f8f8f8" stroke-width="0.35"/><path d="M392.7,75.2L393.1,76.4M404.7,75.4L405.1,76.6" stroke="#b0b0b0" stroke-width="0.5"/><polygon points="287.9,73.5 288.3,74.6 300.3,74.8 299.9,73.7" fill="#f8f8f8" stroke="#f8f8f8" stroke-width="0.35"/><path d="M287.9,73.5L288.3,74.6M299.9,73.7L300.3,74.8" stroke="#b0b0b0" stroke-width="0.5"/><polygon points="289.1,77.0 289.6,78.2 301.6,78.4 301.1,77.3" fill="#f0f0f0" stroke="#f0f0f0" stroke-width="0.35"/><path d="M289.1,77.0L289.6,78.2M301.1,77.3L301.6,78.4" stroke="#b0b0b0" stroke-width="0.5"/><polygon points="393.9,78.9 394.3,80.2 406.3,80.4 405.9,79.1" fill="#f0f0f0" stroke="#f0f0f0" stroke-width="0.35"/><path d="M393.9,78.9L394.3,80.2M405.9,79.1L406.3,80.4" stroke="#b0b0b0" stroke-width="0.5"/><polygon points="419.0,75.9 419.4,77.2 431.4,77.4 431.0,76.1" fill="#f7f7f7" stroke="#f7f7f7" stroke-width="0.35"/><path d="M419.0,75.9L419.4,77.2M431.0,76.1L431.4,77.4" stroke="#b0b0b0" stroke-width="0.5"/><polygon points="314.2,74.2 314.6,75.4 326.6,75.6 326.2,74.4" fill="#f7f7f7" stroke="#f7f7f7" stroke-width="0.35"/><path d="M314.2,74.2L314.6,75.4M326.2,74.4L326.6,75.6" stroke="#b0b0b0" stroke-width="0.5"/><polygon points="262.8,76.3 263.3,77.4 275.3,77.7 274.8,76.5" fill="#f1f1f1" stroke="#f1f1f1" stroke-width="0.35"/><path d="M262.8,76.3L263.3,77.4M274.8,76.5L275.3,77.7" stroke="#b0b0b0" stroke-width="0.5"/><polygon points="367.6,78.1 368.0,79.4 380.0,79.6 379.6,78.4" fill="#f1f1f1" stroke="#f1f1f1" stroke-width="0.35"/><path d="M367.6,78.1L368.0,79.4M379.6,78.4L380.0,79.6" stroke="#b0b0b0" stroke-width="0.5"/><polygon points="445.3,76.6 445.7,77.9 457.7,78.1 457.3,76.8" fill="#f7f7f7" stroke="#f7f7f7" stroke-width="0.35"/><path d="M445.3,76.6L445.7,77.9M457.3,76.8L457.7,78.1" stroke="#b0b0b0" stroke-width="0.5"/><polygon points="340.5,74.9 340.9,76.1 352.9,76.3 352.5,75.1" fill="#f7f7f7" stroke="#f7f7f7" stroke-width="0.35"/><path d="M340.5,74.9L340.9,76.1M352.5,75.1L352.9,76.3" stroke="#b0b0b0" stroke-width="0.5"/><polygon points="341.3,77.4 341.7,78.6 353.7,78.8 353.3,77.6" fill="#f1f1f1" stroke="#f1f1f1" stroke-width="0.35"/><path d="M341.3,77.4L341.7,78.6M353.3,77.6L353.7,78.8" stroke="#b0b0b0" stroke-width="0.5"/><polygon points="446.1,79.2 446.5,80.5 458.5,80.7 458.1,79.4" fill="#f2f2f2" stroke="#f2f2f2" stroke-width="0.35"/><path d="M446.1,79.2L446.5,80.5M458.1,79.4L458.5,80.7" stroke="#b0b0b0" stroke-width="0.5"/><polygon points="471.6,77.4 472.0,78.7 484.0,78.9 483.6,77.6" fill="#f6f6f6" stroke="#f6f6f6" stroke-width="0.35"/><path d="M471.6,77.4L472.0,78.7M483.6,77.6L484.0,78.9" stroke="#b0b0b0" stroke-width="0.5"/><polygon points="366.8,75.7 367.2,76.9 379.2,77.1 378.8,75.9" fill="#f6f6f6" stroke="#f6f6f6" stroke-width="0.35"/><path d="M366.8,75.7L367.2,76.9M378.8,75.9L379.2,77.1" stroke="#b0b0b0" stroke-width="0.5"/><polygon points="262.0,73.9 262.4,75.1 274.4,75.3 274.0,74.1" fill="#f6f6f6" stroke="#f6f6f6" stroke-width="0.35"/><path d="M262.0,73.9L262.4,75.1M274.0,74.1L274.4,75.3" stroke="#b0b0b0" stroke-width="0.5"/><polygon points="315.0,76.6 315.4,77.8 327.4,78.0 327.0,76.8" fill="#f2f2f2" stroke="#f2f2f2" stroke-width="0.35"/><path d="M315.0,76.6L315.4,77.8M327.0,76.8L327.4,78.0" stroke="#b0b0b0" stroke-width="0.5"/><polygon points="419.8,78.4 420.2,79.7 432.2,79.9 431.8,78.7" fill="#f2f2f2" stroke="#f2f2f2" stroke-width="0.35"/><path d="M419.8,78.4L420.2,79.7M431.8,78.7L432.2,79.9" stroke="#b0b0b0" stroke-width="0.5"/><polygon points="393.1,76.4 393.5,77.7 405.5,77.9 405.1,76.6" fill="#f6f6f6" stroke="#f6f6f6" stroke-width="0.35"/><path d="M393.1,76.4L393.5,77.7M405.1,76.6L405.5,77.9" stroke="#b0b0b0" stroke-width="0.5"/><polygon points="288.3,74.6 288.7,75.8 300.7,76.1 300.3,74.8" fill="#f6f6f6" stroke="#f6f6f6" stroke-width="0.35"/><path d="M288.3,74.6L288.7,75.8M300.3,74.8L300.7,76.1" stroke="#b0b0b0" stroke-width="0.5"/><polygon points="288.7,75.8 289.1,77.0 301.1,77.3 300.7,76.1" fill="#f3f3f3" stroke="#f3f3f3" stroke-width="0.35"/><path d="M288.7,75.8L289.1,77.0M300.7,76.1L301.1,77.3" stroke="#b0b0b0" stroke-width="0.5"/><polygon points="393.5,77.7 393.9,78.9 405.9,79.1 405.5,77.9" fill="#f3f3f3" stroke="#f3f3f3" stroke-width="0.35"/><path d="M393.5,77.7L393.9,78.9M405.5,77.9L405.9,79.1" stroke="#b0b0b0" stroke-width="0.5"/><polygon points="419.4,77.2 419.8,78.4 431.8,78.7 431.4,77.4" fill="#f5f5f5" stroke="#f5f5f5" stroke-width="0.35"/><path d="M419.4,77.2L419.8,78.4M431.4,77.4L431.8,78.7" stroke="#b0b0b0" stroke-width="0.5"/><polygon points="314.6,75.4 315.0,76.6 327.0,76.8 326.6,75.6" fill="#f5f5f5" stroke="#f5f5f5" stroke-width="0.35"/><path d="M314.6,75.4L315.0,76.6M326.6,75.6L327.0,76.8" stroke="#b0b0b0" stroke-width="0.5"/><polygon points="262.4,75.1 262.8,76.3 274.8,76.5 274.4,75.3" fill="#f4f4f4" stroke="#f4f4f4" stroke-width="0.35"/><path d="M262.4,75.1L262.8,76.3M274.4,75.3L274.8,76.5" stroke="#b0b0b0" stroke-width="0.5"/><polygon points="367.2,76.9 367.6,78.1 379.6,78.4 379.2,77.1" fill="#f4f4f4" stroke="#f4f4f4" stroke-width="0.35"/><path d="M367.2,76.9L367.6,78.1M379.2,77.1L379.6,78.4" stroke="#b0b0b0" stroke-width="0.5"/><polygon points="445.7,77.9 446.1,79.2 458.1,79.4 457.7,78.1" fill="#f4f4f4" stroke="#f4f4f4" stroke-width="0.35"/><path d="M445.7,77.9L446.1,79.2M457.7,78.1L458.1,79.4" stroke="#b0b0b0" stroke-width="0.5"/><polygon points="340.9,76.1 341.3,77.4 353.3,77.6 352.9,76.3" fill="#f4f4f4" stroke="#f4f4f4" stroke-width="0.35"/><path d="M340.9,76.1L341.3,77.4M352.9,76.3L353.3,77.6" stroke="#b0b0b0" stroke-width="0.5"/></g>
<path d="M457,74 L466,73 L466,91 L458,91 Z" fill="#cfcfcf"/>
<path d="M458,75.5 L466,75" stroke="#ffffff" stroke-width="1.2"/>
</g>
<g stroke-width="2.9" stroke-linecap="round"><line x1="294.3" y1="105.0" x2="297.5" y2="102.6" stroke="#2323a8"/><line x1="297.5" y1="102.6" x2="299.8" y2="100.9" stroke="#d4cc10"/><line x1="299.8" y1="100.9" x2="302.6" y2="98.8" stroke="#2323a8"/><line x1="302.6" y1="98.8" x2="304.2" y2="97.6" stroke="#d4cc10"/><line x1="304.2" y1="97.6" x2="306.2" y2="96.0" stroke="#2323a8"/><line x1="306.2" y1="96.0" x2="308.9" y2="102.2" stroke="#d4cc10"/><line x1="308.9" y1="102.2" x2="318.6" y2="104.4" stroke="#d4cc10"/><line x1="318.6" y1="104.4" x2="322.3" y2="107.6" stroke="#d4cc10"/><line x1="322.3" y1="107.6" x2="321.8" y2="111.7" stroke="#d4cc10"/><line x1="321.8" y1="111.7" x2="321.2" y2="115.7" stroke="#2323a8"/><line x1="322.3" y1="107.6" x2="330.4" y2="105.5" stroke="#d4cc10"/><line x1="330.4" y1="105.5" x2="331.8" y2="107.0" stroke="#d4cc10"/><line x1="331.8" y1="107.0" x2="333.1" y2="108.6" stroke="#c8283a"/><line x1="330.4" y1="105.5" x2="332.9" y2="103.0" stroke="#d4cc10"/><line x1="332.9" y1="103.0" x2="335.5" y2="100.6" stroke="#2323a8"/><line x1="335.5" y1="100.6" x2="338.1" y2="99.2" stroke="#2323a8"/><line x1="338.1" y1="99.2" x2="340.8" y2="97.9" stroke="#d4cc10"/><line x1="340.8" y1="97.9" x2="343.1" y2="96.8" stroke="#d4cc10"/><line x1="343.1" y1="96.8" x2="340.6" y2="93.4" stroke="#d4cc10"/><line x1="340.6" y1="93.4" x2="338.2" y2="90.0" stroke="#c8283a"/><line x1="343.1" y1="96.8" x2="345.7" y2="95.5" stroke="#d4cc10"/><line x1="345.7" y1="95.5" x2="348.3" y2="94.2" stroke="#2323a8"/><line x1="348.3" y1="94.2" x2="349.9" y2="91.1" stroke="#2323a8"/><line x1="349.9" y1="91.1" x2="351.5" y2="88.0" stroke="#d4cc10"/><line x1="348.3" y1="94.2" x2="350.6" y2="95.8" stroke="#2323a8"/><line x1="350.6" y1="95.8" x2="353.0" y2="97.5" stroke="#d4cc10"/><line x1="351.5" y1="88.0" x2="357.0" y2="90.0" stroke="#d4cc10"/><line x1="357.0" y1="90.0" x2="358.2" y2="95.5" stroke="#d4cc10"/><line x1="358.2" y1="95.5" x2="353.0" y2="97.5" stroke="#d4cc10"/><line x1="357.8" y1="95.0" x2="362.8" y2="97.9" stroke="#d4cc10"/><line x1="362.8" y1="97.9" x2="362.8" y2="103.7" stroke="#d4cc10"/><line x1="362.8" y1="103.7" x2="357.8" y2="106.6" stroke="#d4cc10"/><line x1="357.8" y1="106.6" x2="352.8" y2="103.7" stroke="#d4cc10"/><line x1="352.8" y1="103.7" x2="352.8" y2="97.9" stroke="#d4cc10"/><line x1="352.8" y1="97.9" x2="357.8" y2="95.0" stroke="#d4cc10"/><line x1="351.5" y1="88.0" x2="355.5" y2="82.0" stroke="#d4cc10"/><line x1="355.5" y1="82.0" x2="356.5" y2="79.0" stroke="#d4cc10"/><line x1="356.5" y1="79.0" x2="357.5" y2="76.0" stroke="#2323a8"/><line x1="357.5" y1="76.0" x2="359.4" y2="73.2" stroke="#2323a8"/><line x1="359.4" y1="73.2" x2="361.3" y2="70.3" stroke="#d0a872"/><line x1="361.3" y1="70.3" x2="360.7" y2="64.9" stroke="#d0a872"/><line x1="360.7" y1="64.9" x2="353.2" y2="59.5" stroke="#d0a872"/><line x1="353.2" y1="59.5" x2="349.9" y2="53.1" stroke="#d0a872"/><line x1="353.2" y1="59.5" x2="347.8" y2="62.8" stroke="#d0a872"/><line x1="361.3" y1="70.3" x2="369.9" y2="72.5" stroke="#d0a872"/><line x1="369.9" y1="72.5" x2="370.9" y2="73.5" stroke="#d0a872"/><line x1="370.9" y1="73.5" x2="372.0" y2="74.6" stroke="#c8283a"/><line x1="369.9" y1="72.5" x2="372.6" y2="71.7" stroke="#d0a872"/><line x1="372.6" y1="71.7" x2="375.3" y2="70.9" stroke="#2323a8"/><line x1="375.3" y1="70.9" x2="378.0" y2="72.1" stroke="#2323a8"/><line x1="378.0" y1="72.1" x2="380.7" y2="73.3" stroke="#d4cc10"/><line x1="380.7" y1="73.3" x2="381.8" y2="78.2" stroke="#d4cc10"/><line x1="381.8" y1="78.2" x2="378.0" y2="85.7" stroke="#d4cc10"/><line x1="381.8" y1="78.2" x2="386.0" y2="82.0" stroke="#d4cc10"/><line x1="380.7" y1="73.3" x2="386.3" y2="66.7" stroke="#d4cc10"/><line x1="386.3" y1="66.7" x2="389.5" y2="67.6" stroke="#d4cc10"/><line x1="389.5" y1="67.6" x2="392.6" y2="68.4" stroke="#c8283a"/><line x1="386.3" y1="66.7" x2="385.5" y2="63.2" stroke="#d4cc10"/><line x1="385.5" y1="63.2" x2="384.6" y2="59.8" stroke="#2323a8"/><line x1="384.6" y1="59.8" x2="386.2" y2="57.2" stroke="#2323a8"/><line x1="386.2" y1="57.2" x2="387.8" y2="54.6" stroke="#d0a872"/><line x1="387.8" y1="54.6" x2="383.5" y2="46.0" stroke="#d0a872"/><line x1="383.5" y1="46.0" x2="386.5" y2="40.5" stroke="#d0a872"/><line x1="391.5" y1="27.5" x2="394.5" y2="30.6" stroke="#d0a872"/><line x1="394.5" y1="30.6" x2="392.1" y2="36.8" stroke="#d0a872"/><line x1="392.1" y1="36.8" x2="386.5" y2="40.5" stroke="#d0a872"/><line x1="386.5" y1="40.5" x2="383.5" y2="37.4" stroke="#d0a872"/><line x1="383.5" y1="37.4" x2="385.9" y2="31.2" stroke="#d0a872"/><line x1="385.9" y1="31.2" x2="391.5" y2="27.5" stroke="#d0a872"/><line x1="387.8" y1="54.6" x2="395.0" y2="54.2" stroke="#d0a872"/><line x1="395.0" y1="54.2" x2="397.4" y2="53.0" stroke="#d0a872"/><line x1="397.4" y1="53.0" x2="399.9" y2="51.8" stroke="#c8283a"/><line x1="395.0" y1="54.2" x2="396.8" y2="55.9" stroke="#d0a872"/><line x1="396.8" y1="55.9" x2="398.5" y2="57.6" stroke="#2323a8"/><line x1="398.5" y1="57.6" x2="400.6" y2="57.8" stroke="#2323a8"/><line x1="400.6" y1="57.8" x2="402.6" y2="58.0" stroke="#d0a872"/><line x1="402.6" y1="58.0" x2="407.0" y2="64.4" stroke="#d0a872"/><line x1="407.0" y1="64.4" x2="409.6" y2="64.4" stroke="#d0a872"/><line x1="409.6" y1="64.4" x2="412.3" y2="64.4" stroke="#c8283a"/><line x1="407.0" y1="64.4" x2="406.2" y2="67.2" stroke="#d0a872"/><line x1="406.2" y1="67.2" x2="405.5" y2="70.0" stroke="#2323a8"/><line x1="405.5" y1="70.0" x2="407.4" y2="73.5" stroke="#2323a8"/><line x1="407.4" y1="73.5" x2="409.2" y2="77.0" stroke="#d4cc10"/><line x1="409.2" y1="77.0" x2="403.7" y2="83.4" stroke="#d4cc10"/><line x1="403.7" y1="83.4" x2="398.0" y2="86.0" stroke="#d4cc10"/><line x1="398.0" y1="86.0" x2="396.9" y2="83.4" stroke="#d4cc10"/><line x1="396.9" y1="83.4" x2="395.8" y2="80.8" stroke="#d4cc10"/><line x1="395.8" y1="80.8" x2="393.1" y2="82.2" stroke="#d4cc10"/><line x1="393.1" y1="82.2" x2="390.4" y2="83.6" stroke="#2323a8"/><line x1="390.4" y1="83.6" x2="389.9" y2="86.7" stroke="#2323a8"/><line x1="389.9" y1="86.7" x2="389.3" y2="89.8" stroke="#d4cc10"/><line x1="389.3" y1="89.8" x2="392.1" y2="90.7" stroke="#d4cc10"/><line x1="392.1" y1="90.7" x2="394.8" y2="91.6" stroke="#d4cc10"/><line x1="394.8" y1="91.6" x2="396.4" y2="88.8" stroke="#d4cc10"/><line x1="396.4" y1="88.8" x2="398.0" y2="86.0" stroke="#d4cc10"/><line x1="389.3" y1="89.8" x2="394.8" y2="91.6" stroke="#d4cc10"/><line x1="394.8" y1="91.6" x2="395.6" y2="97.6" stroke="#d4cc10"/><line x1="395.6" y1="97.6" x2="390.8" y2="101.4" stroke="#d4cc10"/><line x1="390.8" y1="101.4" x2="385.3" y2="99.6" stroke="#d4cc10"/><line x1="385.3" y1="99.6" x2="384.5" y2="93.6" stroke="#d4cc10"/><line x1="384.5" y1="93.6" x2="389.3" y2="89.8" stroke="#d4cc10"/><line x1="409.2" y1="77.0" x2="414.5" y2="74.1" stroke="#d4cc10"/><line x1="414.5" y1="74.1" x2="416.1" y2="70.6" stroke="#d4cc10"/><line x1="416.1" y1="70.6" x2="417.7" y2="67.1" stroke="#2323a8"/><line x1="417.7" y1="67.1" x2="420.2" y2="67.0" stroke="#2323a8"/><line x1="420.2" y1="67.0" x2="422.7" y2="66.9" stroke="#d0a872"/><line x1="422.7" y1="66.9" x2="424.2" y2="52.5" stroke="#d0a872"/><line x1="422.7" y1="66.9" x2="429.2" y2="68.5" stroke="#d0a872"/><line x1="429.2" y1="68.5" x2="430.8" y2="68.0" stroke="#d0a872"/><line x1="430.8" y1="68.0" x2="432.4" y2="67.6" stroke="#c8283a"/><line x1="429.2" y1="68.5" x2="432.1" y2="70.3" stroke="#d0a872"/><line x1="432.1" y1="70.3" x2="435.0" y2="72.2" stroke="#2323a8"/><line x1="435.0" y1="72.2" x2="437.8" y2="73.3" stroke="#2323a8"/><line x1="437.8" y1="73.3" x2="440.5" y2="74.4" stroke="#d4cc10"/><line x1="440.5" y1="74.4" x2="447.0" y2="69.5" stroke="#d4cc10"/><line x1="447.0" y1="69.5" x2="447.0" y2="66.5" stroke="#d4cc10"/><line x1="447.0" y1="66.5" x2="447.0" y2="63.4" stroke="#c8283a"/><line x1="447.0" y1="69.5" x2="449.6" y2="70.5" stroke="#d4cc10"/><line x1="449.6" y1="70.5" x2="452.3" y2="71.4" stroke="#c8283a"/><line x1="440.5" y1="74.4" x2="443.2" y2="80.9" stroke="#d4cc10"/><line x1="443.2" y1="80.9" x2="440.5" y2="87.5" stroke="#d4cc10"/><line x1="439.4" y1="88.4" x2="442.2" y2="93.3" stroke="#d4cc10"/><line x1="442.2" y1="93.3" x2="439.4" y2="98.2" stroke="#d4cc10"/><line x1="439.4" y1="98.2" x2="433.6" y2="98.2" stroke="#d4cc10"/><line x1="433.6" y1="98.2" x2="430.8" y2="93.3" stroke="#d4cc10"/><line x1="430.8" y1="93.3" x2="433.6" y2="88.4" stroke="#d4cc10"/><line x1="433.6" y1="88.4" x2="439.4" y2="88.4" stroke="#d4cc10"/></g>
<g stroke-width="1.5" stroke-linecap="round"><line x1="294.3" y1="105.0" x2="297.5" y2="102.6" stroke="#3a3ad0"/><line x1="297.5" y1="102.6" x2="299.8" y2="100.9" stroke="#f2ec48"/><line x1="299.8" y1="100.9" x2="302.6" y2="98.8" stroke="#3a3ad0"/><line x1="302.6" y1="98.8" x2="304.2" y2="97.6" stroke="#f2ec48"/><line x1="304.2" y1="97.6" x2="306.2" y2="96.0" stroke="#3a3ad0"/><line x1="306.2" y1="96.0" x2="308.9" y2="102.2" stroke="#f2ec48"/><line x1="308.9" y1="102.2" x2="318.6" y2="104.4" stroke="#f2ec48"/><line x1="318.6" y1="104.4" x2="322.3" y2="107.6" stroke="#f2ec48"/><line x1="322.3" y1="107.6" x2="321.8" y2="111.7" stroke="#f2ec48"/><line x1="321.8" y1="111.7" x2="321.2" y2="115.7" stroke="#3a3ad0"/><line x1="322.3" y1="107.6" x2="330.4" y2="105.5" stroke="#f2ec48"/><line x1="330.4" y1="105.5" x2="331.8" y2="107.0" stroke="#f2ec48"/><line x1="331.8" y1="107.0" x2="333.1" y2="108.6" stroke="#f05060"/><line x1="330.4" y1="105.5" x2="332.9" y2="103.0" stroke="#f2ec48"/><line x1="332.9" y1="103.0" x2="335.5" y2="100.6" stroke="#3a3ad0"/><line x1="335.5" y1="100.6" x2="338.1" y2="99.2" stroke="#3a3ad0"/><line x1="338.1" y1="99.2" x2="340.8" y2="97.9" stroke="#f2ec48"/><line x1="340.8" y1="97.9" x2="343.1" y2="96.8" stroke="#f2ec48"/><line x1="343.1" y1="96.8" x2="340.6" y2="93.4" stroke="#f2ec48"/><line x1="340.6" y1="93.4" x2="338.2" y2="90.0" stroke="#f05060"/><line x1="343.1" y1="96.8" x2="345.7" y2="95.5" stroke="#f2ec48"/><line x1="345.7" y1="95.5" x2="348.3" y2="94.2" stroke="#3a3ad0"/><line x1="348.3" y1="94.2" x2="349.9" y2="91.1" stroke="#3a3ad0"/><line x1="349.9" y1="91.1" x2="351.5" y2="88.0" stroke="#f2ec48"/><line x1="348.3" y1="94.2" x2="350.6" y2="95.8" stroke="#3a3ad0"/><line x1="350.6" y1="95.8" x2="353.0" y2="97.5" stroke="#f2ec48"/><line x1="351.5" y1="88.0" x2="357.0" y2="90.0" stroke="#f2ec48"/><line x1="357.0" y1="90.0" x2="358.2" y2="95.5" stroke="#f2ec48"/><line x1="358.2" y1="95.5" x2="353.0" y2="97.5" stroke="#f2ec48"/><line x1="357.8" y1="95.0" x2="362.8" y2="97.9" stroke="#f2ec48"/><line x1="362.8" y1="97.9" x2="362.8" y2="103.7" stroke="#f2ec48"/><line x1="362.8" y1="103.7" x2="357.8" y2="106.6" stroke="#f2ec48"/><line x1="357.8" y1="106.6" x2="352.8" y2="103.7" stroke="#f2ec48"/><line x1="352.8" y1="103.7" x2="352.8" y2="97.9" stroke="#f2ec48"/><line x1="352.8" y1="97.9" x2="357.8" y2="95.0" stroke="#f2ec48"/><line x1="351.5" y1="88.0" x2="355.5" y2="82.0" stroke="#f2ec48"/><line x1="355.5" y1="82.0" x2="356.5" y2="79.0" stroke="#f2ec48"/><line x1="356.5" y1="79.0" x2="357.5" y2="76.0" stroke="#3a3ad0"/><line x1="357.5" y1="76.0" x2="359.4" y2="73.2" stroke="#3a3ad0"/><line x1="359.4" y1="73.2" x2="361.3" y2="70.3" stroke="#f0d2a4"/><line x1="361.3" y1="70.3" x2="360.7" y2="64.9" stroke="#f0d2a4"/><line x1="360.7" y1="64.9" x2="353.2" y2="59.5" stroke="#f0d2a4"/><line x1="353.2" y1="59.5" x2="349.9" y2="53.1" stroke="#f0d2a4"/><line x1="353.2" y1="59.5" x2="347.8" y2="62.8" stroke="#f0d2a4"/><line x1="361.3" y1="70.3" x2="369.9" y2="72.5" stroke="#f0d2a4"/><line x1="369.9" y1="72.5" x2="370.9" y2="73.5" stroke="#f0d2a4"/><line x1="370.9" y1="73.5" x2="372.0" y2="74.6" stroke="#f05060"/><line x1="369.9" y1="72.5" x2="372.6" y2="71.7" stroke="#f0d2a4"/><line x1="372.6" y1="71.7" x2="375.3" y2="70.9" stroke="#3a3ad0"/><line x1="375.3" y1="70.9" x2="378.0" y2="72.1" stroke="#3a3ad0"/><line x1="378.0" y1="72.1" x2="380.7" y2="73.3" stroke="#f2ec48"/><line x1="380.7" y1="73.3" x2="381.8" y2="78.2" stroke="#f2ec48"/><line x1="381.8" y1="78.2" x2="378.0" y2="85.7" stroke="#f2ec48"/><line x1="381.8" y1="78.2" x2="386.0" y2="82.0" stroke="#f2ec48"/><line x1="380.7" y1="73.3" x2="386.3" y2="66.7" stroke="#f2ec48"/><line x1="386.3" y1="66.7" x2="389.5" y2="67.6" stroke="#f2ec48"/><line x1="389.5" y1="67.6" x2="392.6" y2="68.4" stroke="#f05060"/><line x1="386.3" y1="66.7" x2="385.5" y2="63.2" stroke="#f2ec48"/><line x1="385.5" y1="63.2" x2="384.6" y2="59.8" stroke="#3a3ad0"/><line x1="384.6" y1="59.8" x2="386.2" y2="57.2" stroke="#3a3ad0"/><line x1="386.2" y1="57.2" x2="387.8" y2="54.6" stroke="#f0d2a4"/><line x1="387.8" y1="54.6" x2="383.5" y2="46.0" stroke="#f0d2a4"/><line x1="383.5" y1="46.0" x2="386.5" y2="40.5" stroke="#f0d2a4"/><line x1="391.5" y1="27.5" x2="394.5" y2="30.6" stroke="#f0d2a4"/><line x1="394.5" y1="30.6" x2="392.1" y2="36.8" stroke="#f0d2a4"/><line x1="392.1" y1="36.8" x2="386.5" y2="40.5" stroke="#f0d2a4"/><line x1="386.5" y1="40.5" x2="383.5" y2="37.4" stroke="#f0d2a4"/><line x1="383.5" y1="37.4" x2="385.9" y2="31.2" stroke="#f0d2a4"/><line x1="385.9" y1="31.2" x2="391.5" y2="27.5" stroke="#f0d2a4"/><line x1="387.8" y1="54.6" x2="395.0" y2="54.2" stroke="#f0d2a4"/><line x1="395.0" y1="54.2" x2="397.4" y2="53.0" stroke="#f0d2a4"/><line x1="397.4" y1="53.0" x2="399.9" y2="51.8" stroke="#f05060"/><line x1="395.0" y1="54.2" x2="396.8" y2="55.9" stroke="#f0d2a4"/><line x1="396.8" y1="55.9" x2="398.5" y2="57.6" stroke="#3a3ad0"/><line x1="398.5" y1="57.6" x2="400.6" y2="57.8" stroke="#3a3ad0"/><line x1="400.6" y1="57.8" x2="402.6" y2="58.0" stroke="#f0d2a4"/><line x1="402.6" y1="58.0" x2="407.0" y2="64.4" stroke="#f0d2a4"/><line x1="407.0" y1="64.4" x2="409.6" y2="64.4" stroke="#f0d2a4"/><line x1="409.6" y1="64.4" x2="412.3" y2="64.4" stroke="#f05060"/><line x1="407.0" y1="64.4" x2="406.2" y2="67.2" stroke="#f0d2a4"/><line x1="406.2" y1="67.2" x2="405.5" y2="70.0" stroke="#3a3ad0"/><line x1="405.5" y1="70.0" x2="407.4" y2="73.5" stroke="#3a3ad0"/><line x1="407.4" y1="73.5" x2="409.2" y2="77.0" stroke="#f2ec48"/><line x1="409.2" y1="77.0" x2="403.7" y2="83.4" stroke="#f2ec48"/><line x1="403.7" y1="83.4" x2="398.0" y2="86.0" stroke="#f2ec48"/><line x1="398.0" y1="86.0" x2="396.9" y2="83.4" stroke="#f2ec48"/><line x1="396.9" y1="83.4" x2="395.8" y2="80.8" stroke="#f2ec48"/><line x1="395.8" y1="80.8" x2="393.1" y2="82.2" stroke="#f2ec48"/><line x1="393.1" y1="82.2" x2="390.4" y2="83.6" stroke="#3a3ad0"/><line x1="390.4" y1="83.6" x2="389.9" y2="86.7" stroke="#3a3ad0"/><line x1="389.9" y1="86.7" x2="389.3" y2="89.8" stroke="#f2ec48"/><line x1="389.3" y1="89.8" x2="392.1" y2="90.7" stroke="#f2ec48"/><line x1="392.1" y1="90.7" x2="394.8" y2="91.6" stroke="#f2ec48"/><line x1="394.8" y1="91.6" x2="396.4" y2="88.8" stroke="#f2ec48"/><line x1="396.4" y1="88.8" x2="398.0" y2="86.0" stroke="#f2ec48"/><line x1="389.3" y1="89.8" x2="394.8" y2="91.6" stroke="#f2ec48"/><line x1="394.8" y1="91.6" x2="395.6" y2="97.6" stroke="#f2ec48"/><line x1="395.6" y1="97.6" x2="390.8" y2="101.4" stroke="#f2ec48"/><line x1="390.8" y1="101.4" x2="385.3" y2="99.6" stroke="#f2ec48"/><line x1="385.3" y1="99.6" x2="384.5" y2="93.6" stroke="#f2ec48"/><line x1="384.5" y1="93.6" x2="389.3" y2="89.8" stroke="#f2ec48"/><line x1="409.2" y1="77.0" x2="414.5" y2="74.1" stroke="#f2ec48"/><line x1="414.5" y1="74.1" x2="416.1" y2="70.6" stroke="#f2ec48"/><line x1="416.1" y1="70.6" x2="417.7" y2="67.1" stroke="#3a3ad0"/><line x1="417.7" y1="67.1" x2="420.2" y2="67.0" stroke="#3a3ad0"/><line x1="420.2" y1="67.0" x2="422.7" y2="66.9" stroke="#f0d2a4"/><line x1="422.7" y1="66.9" x2="424.2" y2="52.5" stroke="#f0d2a4"/><line x1="422.7" y1="66.9" x2="429.2" y2="68.5" stroke="#f0d2a4"/><line x1="429.2" y1="68.5" x2="430.8" y2="68.0" stroke="#f0d2a4"/><line x1="430.8" y1="68.0" x2="432.4" y2="67.6" stroke="#f05060"/><line x1="429.2" y1="68.5" x2="432.1" y2="70.3" stroke="#f0d2a4"/><line x1="432.1" y1="70.3" x2="435.0" y2="72.2" stroke="#3a3ad0"/><line x1="435.0" y1="72.2" x2="437.8" y2="73.3" stroke="#3a3ad0"/><line x1="437.8" y1="73.3" x2="440.5" y2="74.4" stroke="#f2ec48"/><line x1="440.5" y1="74.4" x2="447.0" y2="69.5" stroke="#f2ec48"/><line x1="447.0" y1="69.5" x2="447.0" y2="66.5" stroke="#f2ec48"/><line x1="447.0" y1="66.5" x2="447.0" y2="63.4" stroke="#f05060"/><line x1="447.0" y1="69.5" x2="449.6" y2="70.5" stroke="#f2ec48"/><line x1="449.6" y1="70.5" x2="452.3" y2="71.4" stroke="#f05060"/><line x1="440.5" y1="74.4" x2="443.2" y2="80.9" stroke="#f2ec48"/><line x1="443.2" y1="80.9" x2="440.5" y2="87.5" stroke="#f2ec48"/><line x1="439.4" y1="88.4" x2="442.2" y2="93.3" stroke="#f2ec48"/><line x1="442.2" y1="93.3" x2="439.4" y2="98.2" stroke="#f2ec48"/><line x1="439.4" y1="98.2" x2="433.6" y2="98.2" stroke="#f2ec48"/><line x1="433.6" y1="98.2" x2="430.8" y2="93.3" stroke="#f2ec48"/><line x1="430.8" y1="93.3" x2="433.6" y2="88.4" stroke="#f2ec48"/><line x1="433.6" y1="88.4" x2="439.4" y2="88.4" stroke="#f2ec48"/></g>
<line x1="419.9" y1="28.5" x2="403.8" y2="53.3" stroke="#111" stroke-width="0.9"/>
<polygon points="403.8,53.3 404.24,48.58 407.93,50.98" fill="#111"/>
<line x1="434.7" y1="45.0" x2="426.8" y2="53.3" stroke="#111" stroke-width="0.9"/>
<polygon points="426.8,53.3 428.10,48.74 431.29,51.77" fill="#111"/>
<text x="7.3" y="17.0" font-size="12" text-anchor="start" font-weight="bold" fill="#000" style="stroke:#000;stroke-width:0.35px">A</text>
<text x="259.4" y="17.6" font-size="12" text-anchor="start" font-weight="bold" fill="#000" style="stroke:#000;stroke-width:0.35px">B</text>
<text x="7.1" y="167.7" font-size="12" text-anchor="start" font-weight="bold" fill="#000" style="stroke:#000;stroke-width:0.35px">C</text>
<text x="259.0" y="167.5" font-size="12" text-anchor="start" font-weight="bold" fill="#000" style="stroke:#000;stroke-width:0.35px">D</text>
<line x1="52.6" y1="13.5" x2="52.6" y2="110.69999999999999" stroke="#000" stroke-width="1.35"/>
<line x1="52.0" y1="110.1" x2="202" y2="110.1" stroke="#111" stroke-width="1.3"/>
<line x1="49.300000000000004" y1="110.1" x2="52.6" y2="110.1" stroke="#333" stroke-width="1.0"/>
<text x="46.5" y="112.39999999999999" font-size="6.6" text-anchor="end" font-weight="normal" fill="#231f20" >0</text>
<line x1="49.300000000000004" y1="94.57" x2="52.6" y2="94.57" stroke="#333" stroke-width="1.0"/>
<text x="46.5" y="96.86999999999999" font-size="6.6" text-anchor="end" font-weight="normal" fill="#231f20" >100</text>
<line x1="49.300000000000004" y1="79.03999999999999" x2="52.6" y2="79.03999999999999" stroke="#333" stroke-width="1.0"/>
<text x="46.5" y="81.33999999999999" font-size="6.6" text-anchor="end" font-weight="normal" fill="#231f20" >200</text>
<line x1="49.300000000000004" y1="63.51" x2="52.6" y2="63.51" stroke="#333" stroke-width="1.0"/>
<text x="46.5" y="65.81" font-size="6.6" text-anchor="end" font-weight="normal" fill="#231f20" >300</text>
<line x1="49.300000000000004" y1="47.98" x2="52.6" y2="47.98" stroke="#333" stroke-width="1.0"/>
<text x="46.5" y="50.279999999999994" font-size="6.6" text-anchor="end" font-weight="normal" fill="#231f20" >400</text>
<line x1="49.300000000000004" y1="32.45" x2="52.6" y2="32.45" stroke="#333" stroke-width="1.0"/>
<text x="46.5" y="34.75" font-size="6.6" text-anchor="end" font-weight="normal" fill="#231f20" >500</text>
<line x1="49.300000000000004" y1="16.92" x2="52.6" y2="16.92" stroke="#333" stroke-width="1.0"/>
<text x="46.5" y="19.220000000000002" font-size="6.6" text-anchor="end" font-weight="normal" fill="#231f20" >600</text>
<text transform="translate(28.5,76.6) rotate(-90) scale(0.98,1)" font-size="6.6" fill="#231f20">pg/ml IFN<tspan font-size="5.2" dy="1.5">&#947;</tspan></text>
<rect x="55.40" y="107.46" width="6.00" height="2.64" fill="#a50229"/>
<line x1="58.4" y1="107.1493" x2="58.4" y2="107.45989999999999" stroke="#1e1e1e" stroke-width="1.0"/>
<line x1="56.9" y1="107.1493" x2="59.9" y2="107.1493" stroke="#111" stroke-width="1.2"/>
<line x1="58.4" y1="110.1" x2="58.4" y2="113.1" stroke="#333" stroke-width="1.0"/>
<text transform="translate(61.00,119.40) rotate(-45)" font-size="6.6" text-anchor="end" fill="#231f20">DMSO</text>
<rect x="64.01" y="104.98" width="6.00" height="5.12" fill="#a50229"/>
<line x1="67.006" y1="101.5585" x2="67.006" y2="104.9751" stroke="#1e1e1e" stroke-width="1.0"/>
<line x1="65.506" y1="101.5585" x2="68.506" y2="101.5585" stroke="#111" stroke-width="1.2"/>
<line x1="67.006" y1="110.1" x2="67.006" y2="113.1" stroke="#333" stroke-width="1.0"/>
<text transform="translate(69.61,119.40) rotate(-45)" font-size="6.6" text-anchor="end" fill="#231f20">1</text>
<rect x="72.61" y="105.75" width="6.00" height="4.35" fill="#a50229"/>
<line x1="75.612" y1="103.11149999999999" x2="75.612" y2="105.7516" stroke="#1e1e1e" stroke-width="1.0"/>
<line x1="74.112" y1="103.11149999999999" x2="77.112" y2="103.11149999999999" stroke="#111" stroke-width="1.2"/>
<line x1="75.612" y1="110.1" x2="75.612" y2="113.1" stroke="#333" stroke-width="1.0"/>
<text transform="translate(78.21,119.40) rotate(-45)" font-size="6.6" text-anchor="end" fill="#231f20">2</text>
<rect x="81.22" y="106.37" width="6.00" height="3.73" fill="#a50229"/>
<line x1="84.21799999999999" y1="105.9069" x2="84.21799999999999" y2="106.3728" stroke="#1e1e1e" stroke-width="1.0"/>
<line x1="82.71799999999999" y1="105.9069" x2="85.71799999999999" y2="105.9069" stroke="#111" stroke-width="1.2"/>
<line x1="84.21799999999999" y1="110.1" x2="84.21799999999999" y2="113.1" stroke="#333" stroke-width="1.0"/>
<text transform="translate(86.82,119.40) rotate(-45)" font-size="6.6" text-anchor="end" fill="#231f20">3</text>
<rect x="89.82" y="106.68" width="6.00" height="3.42" fill="#a50229"/>
<line x1="92.824" y1="106.2175" x2="92.824" y2="106.68339999999999" stroke="#1e1e1e" stroke-width="1.0"/>
<line x1="91.324" y1="106.2175" x2="94.324" y2="106.2175" stroke="#111" stroke-width="1.2"/>
<line x1="92.824" y1="110.1" x2="92.824" y2="113.1" stroke="#333" stroke-width="1.0"/>
<text transform="translate(95.42,119.40) rotate(-45)" font-size="6.6" text-anchor="end" fill="#231f20">4</text>
<rect x="98.43" y="104.66" width="6.00" height="5.44" fill="#a50229"/>
<line x1="101.43" y1="102.6456" x2="101.43" y2="104.66449999999999" stroke="#1e1e1e" stroke-width="1.0"/>
<line x1="99.93" y1="102.6456" x2="102.93" y2="102.6456" stroke="#111" stroke-width="1.2"/>
<line x1="101.43" y1="110.1" x2="101.43" y2="113.1" stroke="#333" stroke-width="1.0"/>
<text transform="translate(104.03,119.40) rotate(-45)" font-size="6.6" text-anchor="end" fill="#231f20">5</text>
<rect x="107.04" y="106.22" width="6.00" height="3.88" fill="#a50229"/>
<line x1="110.036" y1="105.9069" x2="110.036" y2="106.2175" stroke="#1e1e1e" stroke-width="1.0"/>
<line x1="108.536" y1="105.9069" x2="111.536" y2="105.9069" stroke="#111" stroke-width="1.2"/>
<line x1="110.036" y1="110.1" x2="110.036" y2="113.1" stroke="#333" stroke-width="1.0"/>
<text transform="translate(112.64,119.40) rotate(-45)" font-size="6.6" text-anchor="end" fill="#231f20">6</text>
<rect x="115.64" y="107.15" width="6.00" height="2.95" fill="#a50229"/>
<line x1="118.642" y1="106.83869999999999" x2="118.642" y2="107.1493" stroke="#1e1e1e" stroke-width="1.0"/>
<line x1="117.142" y1="106.83869999999999" x2="120.142" y2="106.83869999999999" stroke="#111" stroke-width="1.2"/>
<line x1="118.642" y1="110.1" x2="118.642" y2="113.1" stroke="#333" stroke-width="1.0"/>
<text transform="translate(121.24,119.40) rotate(-45)" font-size="6.6" text-anchor="end" fill="#231f20">7</text>
<rect x="124.25" y="106.99" width="6.00" height="3.11" fill="#a50229"/>
<line x1="127.24799999999999" y1="105.7516" x2="127.24799999999999" y2="106.994" stroke="#1e1e1e" stroke-width="1.0"/>
<line x1="125.74799999999999" y1="105.7516" x2="128.748" y2="105.7516" stroke="#111" stroke-width="1.2"/>
<line x1="127.24799999999999" y1="110.1" x2="127.24799999999999" y2="113.1" stroke="#333" stroke-width="1.0"/>
<text transform="translate(129.85,119.40) rotate(-45)" font-size="6.6" text-anchor="end" fill="#231f20">8</text>
<rect x="132.85" y="103.89" width="6.00" height="6.21" fill="#a50229"/>
<line x1="135.85399999999998" y1="98.4525" x2="135.85399999999998" y2="103.88799999999999" stroke="#1e1e1e" stroke-width="1.0"/>
<line x1="134.35399999999998" y1="98.4525" x2="137.35399999999998" y2="98.4525" stroke="#111" stroke-width="1.2"/>
<line x1="135.85399999999998" y1="110.1" x2="135.85399999999998" y2="113.1" stroke="#333" stroke-width="1.0"/>
<text transform="translate(138.45,119.40) rotate(-45)" font-size="6.6" text-anchor="end" fill="#231f20">9</text>
<rect x="141.46" y="106.99" width="6.00" height="3.11" fill="#a50229"/>
<line x1="144.46" y1="106.68339999999999" x2="144.46" y2="106.994" stroke="#1e1e1e" stroke-width="1.0"/>
<line x1="142.96" y1="106.68339999999999" x2="145.96" y2="106.68339999999999" stroke="#111" stroke-width="1.2"/>
<line x1="144.46" y1="110.1" x2="144.46" y2="113.1" stroke="#333" stroke-width="1.0"/>
<text transform="translate(147.06,119.40) rotate(-45)" font-size="6.6" text-anchor="end" fill="#231f20">10</text>
<rect x="150.07" y="106.53" width="6.00" height="3.57" fill="#a50229"/>
<line x1="153.066" y1="106.2175" x2="153.066" y2="106.5281" stroke="#1e1e1e" stroke-width="1.0"/>
<line x1="151.566" y1="106.2175" x2="154.566" y2="106.2175" stroke="#111" stroke-width="1.2"/>
<line x1="153.066" y1="110.1" x2="153.066" y2="113.1" stroke="#333" stroke-width="1.0"/>
<text transform="translate(155.67,119.40) rotate(-45)" font-size="6.6" text-anchor="end" fill="#231f20">11</text>
<rect x="158.67" y="106.99" width="6.00" height="3.11" fill="#a50229"/>
<line x1="161.672" y1="106.68339999999999" x2="161.672" y2="106.994" stroke="#1e1e1e" stroke-width="1.0"/>
<line x1="160.172" y1="106.68339999999999" x2="163.172" y2="106.68339999999999" stroke="#111" stroke-width="1.2"/>
<line x1="161.672" y1="110.1" x2="161.672" y2="113.1" stroke="#333" stroke-width="1.0"/>
<text transform="translate(164.27,119.40) rotate(-45)" font-size="6.6" text-anchor="end" fill="#231f20">12</text>
<rect x="167.28" y="100.16" width="6.00" height="9.94" fill="#a50229"/>
<line x1="170.278" y1="90.9981" x2="170.278" y2="100.1608" stroke="#1e1e1e" stroke-width="1.0"/>
<line x1="168.778" y1="90.9981" x2="171.778" y2="90.9981" stroke="#111" stroke-width="1.2"/>
<line x1="170.278" y1="110.1" x2="170.278" y2="113.1" stroke="#333" stroke-width="1.0"/>
<text transform="translate(172.88,119.40) rotate(-45)" font-size="6.6" text-anchor="end" fill="#231f20">13</text>
<rect x="175.88" y="106.99" width="6.00" height="3.11" fill="#a50229"/>
<line x1="177.384" y1="106.83869999999999" x2="180.384" y2="106.83869999999999" stroke="#111" stroke-width="1.2"/>
<line x1="178.884" y1="110.1" x2="178.884" y2="113.1" stroke="#333" stroke-width="1.0"/>
<text transform="translate(181.48,119.40) rotate(-45)" font-size="6.6" text-anchor="end" fill="#231f20">14</text>
<rect x="184.49" y="106.99" width="6.00" height="3.11" fill="#a50229"/>
<line x1="185.99" y1="106.83869999999999" x2="188.99" y2="106.83869999999999" stroke="#111" stroke-width="1.2"/>
<line x1="187.49" y1="110.1" x2="187.49" y2="113.1" stroke="#333" stroke-width="1.0"/>
<text transform="translate(190.09,119.40) rotate(-45)" font-size="6.6" text-anchor="end" fill="#231f20">15</text>
<rect x="193.10" y="45.96" width="6.00" height="64.14" fill="#a50229"/>
<line x1="196.096" y1="36.332499999999996" x2="196.096" y2="45.9611" stroke="#1e1e1e" stroke-width="1.0"/>
<line x1="194.596" y1="36.332499999999996" x2="197.596" y2="36.332499999999996" stroke="#111" stroke-width="1.2"/>
<line x1="196.096" y1="110.1" x2="196.096" y2="113.1" stroke="#333" stroke-width="1.0"/>
<text transform="translate(202.00,119.90) rotate(-45)" font-size="6.6" text-anchor="end" fill="#231f20">K562</text>
<text transform="translate(207.20,125.00) rotate(-45)" font-size="6.6" text-anchor="end" fill="#231f20">(24:02)</text>
<line x1="67" y1="128.6" x2="187" y2="128.6" stroke="#444" stroke-width="1.0"/>
<text x="91.8" y="139.6" font-size="6.6" text-anchor="start" font-weight="normal" fill="#231f20" textLength="69.6" lengthAdjust="spacingAndGlyphs" >T2 loaded with peptide #</text>
<line x1="52.6" y1="176" x2="52.6" y2="263.1" stroke="#000" stroke-width="1.35"/>
<line x1="52.0" y1="262.5" x2="243.7" y2="262.5" stroke="#111" stroke-width="1.3"/>
<line x1="49.300000000000004" y1="262.5" x2="52.6" y2="262.5" stroke="#333" stroke-width="1.0"/>
<text x="47.0" y="264.8" font-size="6.6" text-anchor="end" font-weight="normal" fill="#231f20" >0</text>
<line x1="49.300000000000004" y1="241.6" x2="52.6" y2="241.6" stroke="#333" stroke-width="1.0"/>
<text x="47.0" y="243.9" font-size="6.6" text-anchor="end" font-weight="normal" fill="#231f20" >50</text>
<line x1="49.300000000000004" y1="220.7" x2="52.6" y2="220.7" stroke="#333" stroke-width="1.0"/>
<text x="47.0" y="223.0" font-size="6.6" text-anchor="end" font-weight="normal" fill="#231f20" >100</text>
<line x1="49.300000000000004" y1="199.8" x2="52.6" y2="199.8" stroke="#333" stroke-width="1.0"/>
<text x="47.0" y="202.10000000000002" font-size="6.6" text-anchor="end" font-weight="normal" fill="#231f20" >150</text>
<line x1="49.300000000000004" y1="178.9" x2="52.6" y2="178.9" stroke="#333" stroke-width="1.0"/>
<text x="47.0" y="181.20000000000002" font-size="6.6" text-anchor="end" font-weight="normal" fill="#231f20" >200</text>
<text transform="translate(28.6,234.0) rotate(-90) scale(0.98,1)" font-size="6.6" fill="#231f20">pg/ml IFN<tspan font-size="5.2" dy="1.5">&#947;</tspan></text>
<rect x="56.40" y="261.25" width="7.40" height="1.25" fill="#a50229"/>
<line x1="60.1" y1="260.828" x2="60.1" y2="261.246" stroke="#1e1e1e" stroke-width="1.0"/>
<line x1="58.300000000000004" y1="260.828" x2="61.9" y2="260.828" stroke="#111" stroke-width="1.2"/>
<line x1="60.1" y1="262.5" x2="60.1" y2="265.5" stroke="#333" stroke-width="1.0"/>
<text transform="translate(62.70,271.80) rotate(-45)" font-size="6.6" text-anchor="end" fill="#231f20">T-cell only</text>
<rect x="67.39" y="259.37" width="7.40" height="3.13" fill="#a50229"/>
<line x1="69.29" y1="259.156" x2="72.89" y2="259.156" stroke="#111" stroke-width="1.2"/>
<line x1="71.09" y1="262.5" x2="71.09" y2="265.5" stroke="#333" stroke-width="1.0"/>
<text transform="translate(73.69,271.80) rotate(-45)" font-size="6.6" text-anchor="end" fill="#231f20">LCL-48 (29:02/02:01)</text>
<rect x="78.38" y="213.38" width="7.40" height="49.12" fill="#a50229"/>
<line x1="82.08" y1="210.459" x2="82.08" y2="213.385" stroke="#1e1e1e" stroke-width="1.0"/>
<line x1="80.28" y1="210.459" x2="83.88" y2="210.459" stroke="#111" stroke-width="1.2"/>
<line x1="82.08" y1="262.5" x2="82.08" y2="265.5" stroke="#333" stroke-width="1.0"/>
<text transform="translate(84.68,271.80) rotate(-45)" font-size="6.6" text-anchor="end" fill="#231f20">Unloaded</text>
<rect x="89.37" y="212.34" width="7.40" height="50.16" fill="#a50229"/>
<line x1="93.07000000000001" y1="210.459" x2="93.07000000000001" y2="212.34" stroke="#1e1e1e" stroke-width="1.0"/>
<line x1="91.27000000000001" y1="210.459" x2="94.87" y2="210.459" stroke="#111" stroke-width="1.2"/>
<line x1="93.07000000000001" y1="262.5" x2="93.07000000000001" y2="265.5" stroke="#333" stroke-width="1.0"/>
<text transform="translate(95.67,271.80) rotate(-45)" font-size="6.6" text-anchor="end" fill="#231f20">DMSO</text>
<rect x="100.36" y="214.01" width="7.40" height="48.49" fill="#a50229"/>
<line x1="104.06" y1="211.922" x2="104.06" y2="214.012" stroke="#1e1e1e" stroke-width="1.0"/>
<line x1="102.26" y1="211.922" x2="105.86" y2="211.922" stroke="#111" stroke-width="1.2"/>
<line x1="104.06" y1="262.5" x2="104.06" y2="265.5" stroke="#333" stroke-width="1.0"/>
<text transform="translate(107.06,272.30) rotate(-45)" font-size="8.4" text-anchor="end" fill="#231f20">WT</text>
<rect x="111.35" y="224.04" width="7.40" height="38.46" fill="#a50229"/>
<line x1="115.05" y1="218.3174" x2="115.05" y2="224.044" stroke="#1e1e1e" stroke-width="1.0"/>
<line x1="113.25" y1="218.3174" x2="116.85" y2="218.3174" stroke="#111" stroke-width="1.2"/>
<line x1="115.05" y1="262.5" x2="115.05" y2="265.5" stroke="#333" stroke-width="1.0"/>
<text transform="translate(117.65,271.80) rotate(-45)" font-size="6.6" text-anchor="end" fill="#231f20">L4E</text>
<rect x="122.34" y="213.59" width="7.40" height="48.91" fill="#a50229"/>
<line x1="126.04" y1="213.176" x2="126.04" y2="213.594" stroke="#1e1e1e" stroke-width="1.0"/>
<line x1="124.24000000000001" y1="213.176" x2="127.84" y2="213.176" stroke="#111" stroke-width="1.2"/>
<line x1="126.04" y1="262.5" x2="126.04" y2="265.5" stroke="#333" stroke-width="1.0"/>
<text transform="translate(128.64,271.80) rotate(-45)" font-size="6.6" text-anchor="end" fill="#231f20">L4R</text>
<rect x="133.33" y="202.73" width="7.40" height="59.77" fill="#a50229"/>
<line x1="137.03" y1="183.916" x2="137.03" y2="202.726" stroke="#1e1e1e" stroke-width="1.0"/>
<line x1="135.23" y1="183.916" x2="138.83" y2="183.916" stroke="#111" stroke-width="1.2"/>
<line x1="137.03" y1="262.5" x2="137.03" y2="265.5" stroke="#333" stroke-width="1.0"/>
<text transform="translate(139.63,271.80) rotate(-45)" font-size="6.6" text-anchor="end" fill="#231f20">L4G</text>
<rect x="144.32" y="212.93" width="7.40" height="49.57" fill="#a50229"/>
<line x1="148.01999999999998" y1="209.1214" x2="148.01999999999998" y2="212.92520000000002" stroke="#1e1e1e" stroke-width="1.0"/>
<line x1="146.21999999999997" y1="209.1214" x2="149.82" y2="209.1214" stroke="#111" stroke-width="1.2"/>
<line x1="148.01999999999998" y1="262.5" x2="148.01999999999998" y2="265.5" stroke="#333" stroke-width="1.0"/>
<text transform="translate(150.62,271.80) rotate(-45)" font-size="6.6" text-anchor="end" fill="#231f20">F6E</text>
<rect x="155.31" y="218.19" width="7.40" height="44.31" fill="#a50229"/>
<line x1="159.01" y1="213.594" x2="159.01" y2="218.192" stroke="#1e1e1e" stroke-width="1.0"/>
<line x1="157.20999999999998" y1="213.594" x2="160.81" y2="213.594" stroke="#111" stroke-width="1.2"/>
<line x1="159.01" y1="262.5" x2="159.01" y2="265.5" stroke="#333" stroke-width="1.0"/>
<text transform="translate(161.61,271.80) rotate(-45)" font-size="6.6" text-anchor="end" fill="#231f20">F6R</text>
<rect x="166.30" y="218.19" width="7.40" height="44.31" fill="#a50229"/>
<line x1="170.0" y1="217.774" x2="170.0" y2="218.192" stroke="#1e1e1e" stroke-width="1.0"/>
<line x1="168.2" y1="217.774" x2="171.8" y2="217.774" stroke="#111" stroke-width="1.2"/>
<line x1="170.0" y1="262.5" x2="170.0" y2="265.5" stroke="#333" stroke-width="1.0"/>
<text transform="translate(172.60,271.80) rotate(-45)" font-size="6.6" text-anchor="end" fill="#231f20">F6G</text>
<rect x="177.29" y="219.61" width="7.40" height="42.89" fill="#a50229"/>
<line x1="180.98999999999998" y1="216.72899999999998" x2="180.98999999999998" y2="219.6132" stroke="#1e1e1e" stroke-width="1.0"/>
<line x1="179.18999999999997" y1="216.72899999999998" x2="182.79" y2="216.72899999999998" stroke="#111" stroke-width="1.2"/>
<line x1="180.98999999999998" y1="262.5" x2="180.98999999999998" y2="265.5" stroke="#333" stroke-width="1.0"/>
<text transform="translate(183.59,271.80) rotate(-45)" font-size="6.6" text-anchor="end" fill="#231f20">G7E</text>
<rect x="188.28" y="209.12" width="7.40" height="53.38" fill="#a50229"/>
<line x1="191.98" y1="201.263" x2="191.98" y2="209.1214" stroke="#1e1e1e" stroke-width="1.0"/>
<line x1="190.17999999999998" y1="201.263" x2="193.78" y2="201.263" stroke="#111" stroke-width="1.2"/>
<line x1="191.98" y1="262.5" x2="191.98" y2="265.5" stroke="#333" stroke-width="1.0"/>
<text transform="translate(194.58,271.80) rotate(-45)" font-size="6.6" text-anchor="end" fill="#231f20">G7R</text>
<rect x="199.27" y="215.89" width="7.40" height="46.61" fill="#a50229"/>
<line x1="202.97" y1="211.50400000000002" x2="202.97" y2="215.893" stroke="#1e1e1e" stroke-width="1.0"/>
<line x1="201.17" y1="211.50400000000002" x2="204.77" y2="211.50400000000002" stroke="#111" stroke-width="1.2"/>
<line x1="202.97" y1="262.5" x2="202.97" y2="265.5" stroke="#333" stroke-width="1.0"/>
<text transform="translate(205.57,271.80) rotate(-45)" font-size="6.6" text-anchor="end" fill="#231f20">G7L</text>
<rect x="210.26" y="218.19" width="7.40" height="44.31" fill="#a50229"/>
<line x1="213.96" y1="215.893" x2="213.96" y2="218.192" stroke="#1e1e1e" stroke-width="1.0"/>
<line x1="212.16" y1="215.893" x2="215.76000000000002" y2="215.893" stroke="#111" stroke-width="1.2"/>
<line x1="213.96" y1="262.5" x2="213.96" y2="265.5" stroke="#333" stroke-width="1.0"/>
<text transform="translate(216.56,271.80) rotate(-45)" font-size="6.6" text-anchor="end" fill="#231f20">C9E</text>
<rect x="221.25" y="221.70" width="7.40" height="40.80" fill="#a50229"/>
<line x1="224.95" y1="215.893" x2="224.95" y2="221.7032" stroke="#1e1e1e" stroke-width="1.0"/>
<line x1="223.14999999999998" y1="215.893" x2="226.75" y2="215.893" stroke="#111" stroke-width="1.2"/>
<line x1="224.95" y1="262.5" x2="224.95" y2="265.5" stroke="#333" stroke-width="1.0"/>
<text transform="translate(227.55,271.80) rotate(-45)" font-size="6.6" text-anchor="end" fill="#231f20">C9R</text>
<rect x="232.24" y="209.41" width="7.40" height="53.09" fill="#a50229"/>
<line x1="235.94" y1="199.5492" x2="235.94" y2="209.414" stroke="#1e1e1e" stroke-width="1.0"/>
<line x1="234.14" y1="199.5492" x2="237.74" y2="199.5492" stroke="#111" stroke-width="1.2"/>
<line x1="235.94" y1="262.5" x2="235.94" y2="265.5" stroke="#333" stroke-width="1.0"/>
<text transform="translate(238.54,271.80) rotate(-45)" font-size="6.6" text-anchor="end" fill="#231f20">C9L</text>
<line x1="82.3" y1="290.3" x2="236.3" y2="290.3" stroke="#444" stroke-width="1.0"/>
<text x="159.2" y="299.6" font-size="6.6" text-anchor="middle" font-weight="normal" fill="#231f20" >LCL-TM (03:01/24:02)</text>
<line x1="305.2" y1="163.3" x2="305.2" y2="263.1" stroke="#000" stroke-width="1.45"/>
<line x1="304.59999999999997" y1="262.5" x2="450" y2="262.5" stroke="#111" stroke-width="1.3"/>
<line x1="301.9" y1="262.5" x2="305.2" y2="262.5" stroke="#333" stroke-width="1.0"/>
<text x="298.8" y="264.8" font-size="6.6" text-anchor="end" font-weight="normal" fill="#231f20" >0</text>
<line x1="301.9" y1="238.525" x2="305.2" y2="238.525" stroke="#333" stroke-width="1.0"/>
<text x="298.8" y="240.82500000000002" font-size="6.6" text-anchor="end" font-weight="normal" fill="#231f20" >50</text>
<line x1="301.9" y1="214.55" x2="305.2" y2="214.55" stroke="#333" stroke-width="1.0"/>
<text x="298.8" y="216.85000000000002" font-size="6.6" text-anchor="end" font-weight="normal" fill="#231f20" >100</text>
<line x1="301.9" y1="190.575" x2="305.2" y2="190.575" stroke="#333" stroke-width="1.0"/>
<text x="298.8" y="192.875" font-size="6.6" text-anchor="end" font-weight="normal" fill="#231f20" >150</text>
<line x1="301.9" y1="166.60000000000002" x2="305.2" y2="166.60000000000002" stroke="#333" stroke-width="1.0"/>
<text x="298.8" y="168.90000000000003" font-size="6.6" text-anchor="end" font-weight="normal" fill="#231f20" >200</text>
<text transform="translate(280.4,252.6) rotate(-90) scale(0.93,1)" font-size="6.6" fill="#231f20">Relative IFN<tspan font-size="5.2" dy="1.5">&#947;</tspan><tspan dy="-1.5"> production (%)</tspan></text>
<rect x="306.45" y="258.66" width="3.80" height="3.84" fill="#a50229"/>
<line x1="308.34999999999997" y1="257.94475" x2="308.34999999999997" y2="258.664" stroke="#1e1e1e" stroke-width="0.9"/>
<line x1="307.24999999999994" y1="257.94475" x2="309.45" y2="257.94475" stroke="#111" stroke-width="1.2"/>
<rect x="311.50" y="261.06" width="3.80" height="1.44" fill="#244580"/>
<line x1="313.4" y1="259.86275" x2="313.4" y2="261.0615" stroke="#1e1e1e" stroke-width="0.9"/>
<line x1="312.29999999999995" y1="259.86275" x2="314.5" y2="259.86275" stroke="#111" stroke-width="1.2"/>
<rect x="316.55" y="260.10" width="3.80" height="2.40" fill="#67b33f"/>
<line x1="318.45" y1="259.1435" x2="318.45" y2="260.1025" stroke="#1e1e1e" stroke-width="0.9"/>
<line x1="317.34999999999997" y1="259.1435" x2="319.55" y2="259.1435" stroke="#111" stroke-width="1.2"/>
<line x1="313.4" y1="262.5" x2="313.4" y2="265.5" stroke="#333" stroke-width="1.0"/>
<rect x="327.98" y="258.66" width="3.80" height="3.84" fill="#a50229"/>
<line x1="329.87999999999994" y1="257.94475" x2="329.87999999999994" y2="258.664" stroke="#1e1e1e" stroke-width="0.9"/>
<line x1="328.7799999999999" y1="257.94475" x2="330.97999999999996" y2="257.94475" stroke="#111" stroke-width="1.2"/>
<rect x="333.03" y="261.54" width="3.80" height="0.96" fill="#244580"/>
<line x1="334.92999999999995" y1="261.0615" x2="334.92999999999995" y2="261.541" stroke="#1e1e1e" stroke-width="0.9"/>
<line x1="333.8299999999999" y1="261.0615" x2="336.03" y2="261.0615" stroke="#111" stroke-width="1.2"/>
<rect x="338.08" y="262.02" width="3.80" height="0.48" fill="#67b33f"/>
<line x1="338.87999999999994" y1="261.78075" x2="341.08" y2="261.78075" stroke="#111" stroke-width="1.2"/>
<line x1="334.92999999999995" y1="262.5" x2="334.92999999999995" y2="265.5" stroke="#333" stroke-width="1.0"/>
<rect x="349.51" y="214.55" width="3.80" height="47.95" fill="#a50229"/>
<line x1="351.40999999999997" y1="210.2345" x2="351.40999999999997" y2="214.55" stroke="#1e1e1e" stroke-width="0.9"/>
<line x1="350.30999999999995" y1="210.2345" x2="352.51" y2="210.2345" stroke="#111" stroke-width="1.2"/>
<rect x="354.56" y="261.06" width="3.80" height="1.44" fill="#244580"/>
<line x1="356.46" y1="260.582" x2="356.46" y2="261.0615" stroke="#1e1e1e" stroke-width="0.9"/>
<line x1="355.35999999999996" y1="260.582" x2="357.56" y2="260.582" stroke="#111" stroke-width="1.2"/>
<rect x="359.61" y="261.78" width="3.80" height="0.72" fill="#67b33f"/>
<line x1="360.40999999999997" y1="261.541" x2="362.61" y2="261.541" stroke="#111" stroke-width="1.2"/>
<line x1="356.46" y1="262.5" x2="356.46" y2="265.5" stroke="#333" stroke-width="1.0"/>
<rect x="371.04" y="213.59" width="3.80" height="48.91" fill="#a50229"/>
<line x1="372.94" y1="211.43325" x2="372.94" y2="213.591" stroke="#1e1e1e" stroke-width="0.9"/>
<line x1="371.84" y1="211.43325" x2="374.04" y2="211.43325" stroke="#111" stroke-width="1.2"/>
<rect x="376.09" y="212.87" width="3.80" height="49.63" fill="#244580"/>
<line x1="377.99" y1="209.755" x2="377.99" y2="212.87175" stroke="#1e1e1e" stroke-width="0.9"/>
<line x1="376.89" y1="209.755" x2="379.09000000000003" y2="209.755" stroke="#111" stroke-width="1.2"/>
<rect x="381.14" y="211.96" width="3.80" height="50.54" fill="#67b33f"/>
<line x1="383.04" y1="207.35750000000002" x2="383.04" y2="211.9607" stroke="#1e1e1e" stroke-width="0.9"/>
<line x1="381.94" y1="207.35750000000002" x2="384.14000000000004" y2="207.35750000000002" stroke="#111" stroke-width="1.2"/>
<line x1="377.99" y1="262.5" x2="377.99" y2="265.5" stroke="#333" stroke-width="1.0"/>
<rect x="392.57" y="218.87" width="3.80" height="43.63" fill="#a50229"/>
<line x1="394.46999999999997" y1="210.714" x2="394.46999999999997" y2="218.8655" stroke="#1e1e1e" stroke-width="0.9"/>
<line x1="393.36999999999995" y1="210.714" x2="395.57" y2="210.714" stroke="#111" stroke-width="1.2"/>
<rect x="397.62" y="199.69" width="3.80" height="62.81" fill="#244580"/>
<line x1="399.52" y1="198.48675" x2="399.52" y2="199.6855" stroke="#1e1e1e" stroke-width="0.9"/>
<line x1="398.41999999999996" y1="198.48675" x2="400.62" y2="198.48675" stroke="#111" stroke-width="1.2"/>
<rect x="402.67" y="238.24" width="3.80" height="24.26" fill="#67b33f"/>
<line x1="404.57" y1="237.80575" x2="404.57" y2="238.2373" stroke="#1e1e1e" stroke-width="0.9"/>
<line x1="403.46999999999997" y1="237.80575" x2="405.67" y2="237.80575" stroke="#111" stroke-width="1.2"/>
<line x1="399.52" y1="262.5" x2="399.52" y2="265.5" stroke="#333" stroke-width="1.0"/>
<rect x="414.10" y="206.40" width="3.80" height="56.10" fill="#a50229"/>
<line x1="415.99999999999994" y1="189.75985000000003" x2="415.99999999999994" y2="206.3985" stroke="#1e1e1e" stroke-width="0.9"/>
<line x1="414.8999999999999" y1="189.75985000000003" x2="417.09999999999997" y2="189.75985000000003" stroke="#111" stroke-width="1.2"/>
<rect x="419.15" y="191.68" width="3.80" height="70.82" fill="#244580"/>
<line x1="421.04999999999995" y1="185.78" x2="421.04999999999995" y2="191.67785" stroke="#1e1e1e" stroke-width="0.9"/>
<line x1="419.94999999999993" y1="185.78" x2="422.15" y2="185.78" stroke="#111" stroke-width="1.2"/>
<rect x="424.20" y="246.01" width="3.80" height="16.49" fill="#67b33f"/>
<line x1="426.09999999999997" y1="245.5257" x2="426.09999999999997" y2="246.0052" stroke="#1e1e1e" stroke-width="0.9"/>
<line x1="424.99999999999994" y1="245.5257" x2="427.2" y2="245.5257" stroke="#111" stroke-width="1.2"/>
<line x1="421.04999999999995" y1="262.5" x2="421.04999999999995" y2="265.5" stroke="#333" stroke-width="1.0"/>
<rect x="435.63" y="209.28" width="3.80" height="53.22" fill="#a50229"/>
<line x1="437.53" y1="197.288" x2="437.53" y2="209.2755" stroke="#1e1e1e" stroke-width="0.9"/>
<line x1="436.42999999999995" y1="197.288" x2="438.63" y2="197.288" stroke="#111" stroke-width="1.2"/>
<rect x="440.68" y="201.27" width="3.80" height="61.23" fill="#244580"/>
<line x1="442.58" y1="197.288" x2="442.58" y2="201.26785" stroke="#1e1e1e" stroke-width="0.9"/>
<line x1="441.47999999999996" y1="197.288" x2="443.68" y2="197.288" stroke="#111" stroke-width="1.2"/>
<rect x="445.73" y="257.51" width="3.80" height="4.99" fill="#67b33f"/>
<line x1="447.63" y1="257.0337" x2="447.63" y2="257.5132" stroke="#1e1e1e" stroke-width="0.9"/>
<line x1="446.53" y1="257.0337" x2="448.73" y2="257.0337" stroke="#111" stroke-width="1.2"/>
<line x1="442.58" y1="262.5" x2="442.58" y2="265.5" stroke="#333" stroke-width="1.0"/>
<rect x="311.30" y="167.20" width="10.50" height="5.30" fill="#a50229"/>
<rect x="311.30" y="176.80" width="10.50" height="5.00" fill="#244580"/>
<rect x="311.30" y="186.00" width="10.50" height="5.00" fill="#67b33f"/>
<text x="324.6" y="172.0" font-size="6.0" text-anchor="start" font-weight="normal" fill="#231f20" textLength="20" lengthAdjust="spacingAndGlyphs" >TEG011</text>
<text x="324.6" y="181.4" font-size="6.0" text-anchor="start" font-weight="normal" fill="#231f20" textLength="69" lengthAdjust="spacingAndGlyphs" >MiHA-reactive &#945;&#946; T-cell clone</text>
<text x="324.6" y="190.6" font-size="6.0" fill="#231f20" textLength="72.8" lengthAdjust="spacingAndGlyphs">NEF<tspan font-size="3.6" dy="1.4">134-144</tspan><tspan dy="-1.4"> TCR trans. &#945;&#946; T-cells</tspan></text>
<text x="313.4" y="274.8" font-size="6.6" text-anchor="middle" font-weight="normal" fill="#231f20" >T-cells</text>
<text x="313.4" y="282.3" font-size="6.6" text-anchor="middle" font-weight="normal" fill="#231f20" >only</text>
<text x="334.92999999999995" y="274.8" font-size="6.6" text-anchor="middle" font-weight="normal" fill="#231f20" >K562</text>
<text x="334.92999999999995" y="282.3" font-size="6.6" text-anchor="middle" font-weight="normal" fill="#231f20" >(02:01)</text>
<text x="356.46" y="274.8" font-size="6.6" text-anchor="middle" font-weight="normal" fill="#231f20" >0</text>
<text x="356.46" y="285.0" font-size="6.6" text-anchor="middle" font-weight="normal" fill="#231f20" >0</text>
<text x="377.99" y="274.8" font-size="6.6" text-anchor="middle" font-weight="normal" fill="#231f20" >0.1</text>
<text x="377.99" y="285.0" font-size="6.6" text-anchor="middle" font-weight="normal" fill="#231f20" >10</text>
<text x="399.52" y="274.8" font-size="6.6" text-anchor="middle" font-weight="normal" fill="#231f20" >1</text>
<text x="399.52" y="285.0" font-size="6.6" text-anchor="middle" font-weight="normal" fill="#231f20" >10</text>
<text x="421.04999999999995" y="274.8" font-size="6.6" text-anchor="middle" font-weight="normal" fill="#231f20" >10</text>
<text x="421.04999999999995" y="285.0" font-size="6.6" text-anchor="middle" font-weight="normal" fill="#231f20" >10</text>
<text x="442.58" y="274.8" font-size="6.6" text-anchor="middle" font-weight="normal" fill="#231f20" >25</text>
<text x="442.58" y="285.0" font-size="6.6" text-anchor="middle" font-weight="normal" fill="#231f20" >10</text>
<text x="451.4" y="274.8" font-size="6.6" text-anchor="start" font-weight="normal" fill="#231f20" >&#181;M MiHA peptide</text>
<text x="451.4" y="285.0" font-size="6.6" fill="#231f20">&#181;M NEF<tspan font-size="3.8" dy="1.5">134-144</tspan><tspan dy="-1.5"> peptide</tspan></text>
<line x1="356.2" y1="289.5" x2="442.5" y2="289.5" stroke="#444" stroke-width="1.0"/>
<text x="399.5" y="298.5" font-size="6.6" text-anchor="middle" font-weight="normal" fill="#231f20" >K562 (24:02)</text>
<text x="283.8" y="140.1" font-size="6.3" text-anchor="start" font-weight="normal" fill="#231f20" textLength="172" lengthAdjust="spacingAndGlyphs" >NEFwt peptide in the HLA-A*24:02 binding cleft (PDB: 3vxm)</text>
<text x="378" y="23" font-size="6.3" text-anchor="start" font-weight="normal" fill="#231f20" textLength="24.3" lengthAdjust="spacingAndGlyphs" >Phe (F6)</text>
<text x="337.3" y="48.3" font-size="6.3" text-anchor="start" font-weight="normal" fill="#231f20" textLength="23.5" lengthAdjust="spacingAndGlyphs" >Leu (L4)</text>
<text x="422.4" y="28.6" font-size="6.3" text-anchor="start" font-weight="normal" fill="#231f20" textLength="22.1" lengthAdjust="spacingAndGlyphs" >Gly (F7)</text>
<text x="435.8" y="46.3" font-size="6.3" text-anchor="start" font-weight="normal" fill="#231f20" textLength="25" lengthAdjust="spacingAndGlyphs" >Cys (C9)</text>
<rect x="0.5" y="0.5" width="519" height="324" fill="none" stroke="#000" stroke-width="1.2"/>
</svg>
</body></html>
